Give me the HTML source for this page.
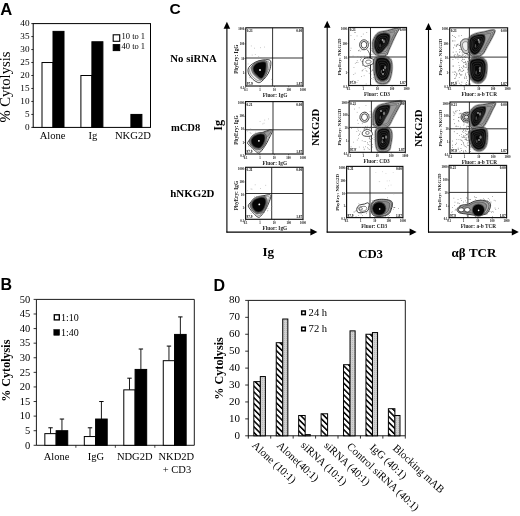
<!DOCTYPE html>
<html><head><meta charset="utf-8"><style>
html,body{margin:0;padding:0;background:#fff;width:520px;height:516px;overflow:hidden;}
svg{display:block;}
#wrap{width:520px;height:516px;filter:grayscale(1);}
</style></head><body><div id="wrap">
<svg width="520" height="516" viewBox="0 0 520 516">
<defs>
<pattern id="hatch" patternUnits="userSpaceOnUse" width="4.1" height="4.1" patternTransform="rotate(-45)">
<rect width="4.1" height="4.1" fill="#fff"/><rect width="1.55" height="4.1" fill="#000"/>
</pattern>
<pattern id="dots" patternUnits="userSpaceOnUse" width="2" height="2">
<rect width="2" height="2" fill="#d2d2d2"/><rect width="1" height="1" fill="#b8b8b8"/>
</pattern>
</defs>
<rect width="520" height="516" fill="#fff"/>
<text x="0.30" y="14.70" font-size="16.6" font-family="'Liberation Sans', sans-serif" font-weight="bold" text-anchor="start" >A</text>
<rect x="33.20" y="23.60" width="117.30" height="103.80" fill="none" stroke="#000" stroke-width="1" />
<line x1="31.30" y1="127.40" x2="33.20" y2="127.40" stroke="#000" stroke-width="0.8"/>
<text x="29.50" y="130.10" font-size="9.2" font-family="'Liberation Serif', serif" font-weight="normal" text-anchor="end" >0</text>
<line x1="31.30" y1="114.43" x2="33.20" y2="114.43" stroke="#000" stroke-width="0.8"/>
<text x="29.50" y="117.13" font-size="9.2" font-family="'Liberation Serif', serif" font-weight="normal" text-anchor="end" >5</text>
<line x1="31.30" y1="101.45" x2="33.20" y2="101.45" stroke="#000" stroke-width="0.8"/>
<text x="29.50" y="104.15" font-size="9.2" font-family="'Liberation Serif', serif" font-weight="normal" text-anchor="end" >10</text>
<line x1="31.30" y1="88.47" x2="33.20" y2="88.47" stroke="#000" stroke-width="0.8"/>
<text x="29.50" y="91.17" font-size="9.2" font-family="'Liberation Serif', serif" font-weight="normal" text-anchor="end" >15</text>
<line x1="31.30" y1="75.50" x2="33.20" y2="75.50" stroke="#000" stroke-width="0.8"/>
<text x="29.50" y="78.20" font-size="9.2" font-family="'Liberation Serif', serif" font-weight="normal" text-anchor="end" >20</text>
<line x1="31.30" y1="62.52" x2="33.20" y2="62.52" stroke="#000" stroke-width="0.8"/>
<text x="29.50" y="65.22" font-size="9.2" font-family="'Liberation Serif', serif" font-weight="normal" text-anchor="end" >25</text>
<line x1="31.30" y1="49.55" x2="33.20" y2="49.55" stroke="#000" stroke-width="0.8"/>
<text x="29.50" y="52.25" font-size="9.2" font-family="'Liberation Serif', serif" font-weight="normal" text-anchor="end" >30</text>
<line x1="31.30" y1="36.57" x2="33.20" y2="36.57" stroke="#000" stroke-width="0.8"/>
<text x="29.50" y="39.27" font-size="9.2" font-family="'Liberation Serif', serif" font-weight="normal" text-anchor="end" >35</text>
<line x1="31.30" y1="23.60" x2="33.20" y2="23.60" stroke="#000" stroke-width="0.8"/>
<text x="29.50" y="26.30" font-size="9.2" font-family="'Liberation Serif', serif" font-weight="normal" text-anchor="end" >40</text>
<rect x="42.00" y="62.52" width="11.00" height="64.88" fill="#fff" stroke="#000" stroke-width="1" />
<rect x="53.00" y="31.38" width="11.00" height="96.02" fill="#000" stroke="#000" stroke-width="1" />
<rect x="80.90" y="75.50" width="11.00" height="51.90" fill="#fff" stroke="#000" stroke-width="1" />
<rect x="91.90" y="41.76" width="11.00" height="85.64" fill="#000" stroke="#000" stroke-width="1" />
<rect x="130.90" y="114.43" width="11.00" height="12.97" fill="#000" stroke="#000" stroke-width="1" />
<text x="52.60" y="138.60" font-size="10.6" font-family="'Liberation Serif', serif" font-weight="normal" text-anchor="middle" >Alone</text>
<text x="93.00" y="138.60" font-size="10.6" font-family="'Liberation Serif', serif" font-weight="normal" text-anchor="middle" >Ig</text>
<text x="132.90" y="138.60" font-size="10.6" font-family="'Liberation Serif', serif" font-weight="normal" text-anchor="middle" >NKG2D</text>
<rect x="113.20" y="34.80" width="6.50" height="6.50" fill="#fff" stroke="#000" stroke-width="1.1" />
<text x="121.50" y="39.30" font-size="8.5" font-family="'Liberation Serif', serif" font-weight="normal" text-anchor="start" >10 to 1</text>
<rect x="113.20" y="44.60" width="6.50" height="6.00" fill="#000" stroke="#000" stroke-width="1" />
<text x="121.50" y="49.20" font-size="8.5" font-family="'Liberation Serif', serif" font-weight="normal" text-anchor="start" >40 to 1</text>
<text transform="translate(10.4,87.1) rotate(-90)" font-size="14.6" font-family="'Liberation Serif', serif" text-anchor="middle">% Cytolysis</text>
<text x="0.50" y="290.40" font-size="16" font-family="'Liberation Sans', sans-serif" font-weight="bold" text-anchor="start" >B</text>
<line x1="36.40" y1="299.40" x2="194.30" y2="299.40" stroke="#000" stroke-width="0.9"/>
<line x1="194.30" y1="299.40" x2="194.30" y2="445.30" stroke="#000" stroke-width="0.9"/>
<line x1="36.40" y1="299.40" x2="36.40" y2="445.30" stroke="#000" stroke-width="0.9"/>
<line x1="36.40" y1="445.30" x2="194.30" y2="445.30" stroke="#000" stroke-width="0.9"/>
<line x1="33.60" y1="445.30" x2="36.40" y2="445.30" stroke="#000" stroke-width="0.8"/>
<text x="30.20" y="448.60" font-size="10.5" font-family="'Liberation Serif', serif" font-weight="normal" text-anchor="end" >0</text>
<line x1="33.60" y1="430.71" x2="36.40" y2="430.71" stroke="#000" stroke-width="0.8"/>
<text x="30.20" y="434.01" font-size="10.5" font-family="'Liberation Serif', serif" font-weight="normal" text-anchor="end" >5</text>
<line x1="33.60" y1="416.12" x2="36.40" y2="416.12" stroke="#000" stroke-width="0.8"/>
<text x="30.20" y="419.42" font-size="10.5" font-family="'Liberation Serif', serif" font-weight="normal" text-anchor="end" >10</text>
<line x1="33.60" y1="401.53" x2="36.40" y2="401.53" stroke="#000" stroke-width="0.8"/>
<text x="30.20" y="404.83" font-size="10.5" font-family="'Liberation Serif', serif" font-weight="normal" text-anchor="end" >15</text>
<line x1="33.60" y1="386.94" x2="36.40" y2="386.94" stroke="#000" stroke-width="0.8"/>
<text x="30.20" y="390.24" font-size="10.5" font-family="'Liberation Serif', serif" font-weight="normal" text-anchor="end" >20</text>
<line x1="33.60" y1="372.35" x2="36.40" y2="372.35" stroke="#000" stroke-width="0.8"/>
<text x="30.20" y="375.65" font-size="10.5" font-family="'Liberation Serif', serif" font-weight="normal" text-anchor="end" >25</text>
<line x1="33.60" y1="357.76" x2="36.40" y2="357.76" stroke="#000" stroke-width="0.8"/>
<text x="30.20" y="361.06" font-size="10.5" font-family="'Liberation Serif', serif" font-weight="normal" text-anchor="end" >30</text>
<line x1="33.60" y1="343.17" x2="36.40" y2="343.17" stroke="#000" stroke-width="0.8"/>
<text x="30.20" y="346.47" font-size="10.5" font-family="'Liberation Serif', serif" font-weight="normal" text-anchor="end" >35</text>
<line x1="33.60" y1="328.58" x2="36.40" y2="328.58" stroke="#000" stroke-width="0.8"/>
<text x="30.20" y="331.88" font-size="10.5" font-family="'Liberation Serif', serif" font-weight="normal" text-anchor="end" >40</text>
<line x1="33.60" y1="313.99" x2="36.40" y2="313.99" stroke="#000" stroke-width="0.8"/>
<text x="30.20" y="317.29" font-size="10.5" font-family="'Liberation Serif', serif" font-weight="normal" text-anchor="end" >45</text>
<line x1="33.60" y1="299.40" x2="36.40" y2="299.40" stroke="#000" stroke-width="0.8"/>
<text x="30.20" y="302.70" font-size="10.5" font-family="'Liberation Serif', serif" font-weight="normal" text-anchor="end" >50</text>
<line x1="75.88" y1="445.30" x2="75.88" y2="447.80" stroke="#000" stroke-width="0.7"/>
<line x1="115.35" y1="445.30" x2="115.35" y2="447.80" stroke="#000" stroke-width="0.7"/>
<line x1="154.83" y1="445.30" x2="154.83" y2="447.80" stroke="#000" stroke-width="0.7"/>
<line x1="50.54" y1="427.79" x2="50.54" y2="433.63" stroke="#000" stroke-width="0.9"/>
<line x1="48.34" y1="427.79" x2="52.74" y2="427.79" stroke="#000" stroke-width="1.0"/>
<line x1="61.94" y1="419.04" x2="61.94" y2="430.71" stroke="#000" stroke-width="0.9"/>
<line x1="59.74" y1="419.04" x2="64.14" y2="419.04" stroke="#000" stroke-width="1.0"/>
<rect x="44.84" y="433.63" width="11.30" height="11.67" fill="#fff" stroke="#000" stroke-width="1" />
<rect x="56.14" y="430.71" width="11.60" height="14.59" fill="#000" stroke="#000" stroke-width="1" />
<line x1="90.01" y1="427.79" x2="90.01" y2="436.55" stroke="#000" stroke-width="0.9"/>
<line x1="87.81" y1="427.79" x2="92.21" y2="427.79" stroke="#000" stroke-width="1.0"/>
<line x1="101.41" y1="401.53" x2="101.41" y2="419.04" stroke="#000" stroke-width="0.9"/>
<line x1="99.21" y1="401.53" x2="103.61" y2="401.53" stroke="#000" stroke-width="1.0"/>
<rect x="84.31" y="436.55" width="11.30" height="8.75" fill="#fff" stroke="#000" stroke-width="1" />
<rect x="95.61" y="419.04" width="11.60" height="26.26" fill="#000" stroke="#000" stroke-width="1" />
<line x1="129.49" y1="378.19" x2="129.49" y2="389.86" stroke="#000" stroke-width="0.9"/>
<line x1="127.29" y1="378.19" x2="131.69" y2="378.19" stroke="#000" stroke-width="1.0"/>
<line x1="140.89" y1="349.01" x2="140.89" y2="369.43" stroke="#000" stroke-width="0.9"/>
<line x1="138.69" y1="349.01" x2="143.09" y2="349.01" stroke="#000" stroke-width="1.0"/>
<rect x="123.79" y="389.86" width="11.30" height="55.44" fill="#fff" stroke="#000" stroke-width="1" />
<rect x="135.09" y="369.43" width="11.60" height="75.87" fill="#000" stroke="#000" stroke-width="1" />
<line x1="168.96" y1="346.09" x2="168.96" y2="360.68" stroke="#000" stroke-width="0.9"/>
<line x1="166.76" y1="346.09" x2="171.16" y2="346.09" stroke="#000" stroke-width="1.0"/>
<line x1="180.36" y1="316.91" x2="180.36" y2="334.42" stroke="#000" stroke-width="0.9"/>
<line x1="178.16" y1="316.91" x2="182.56" y2="316.91" stroke="#000" stroke-width="1.0"/>
<rect x="163.26" y="360.68" width="11.30" height="84.62" fill="#fff" stroke="#000" stroke-width="1" />
<rect x="174.56" y="334.42" width="11.60" height="110.88" fill="#000" stroke="#000" stroke-width="1" />
<text x="56.50" y="459.60" font-size="10.5" font-family="'Liberation Serif', serif" font-weight="normal" text-anchor="middle" >Alone</text>
<text x="96.00" y="459.60" font-size="10.5" font-family="'Liberation Serif', serif" font-weight="normal" text-anchor="middle" >IgG</text>
<text x="134.70" y="459.60" font-size="10.5" font-family="'Liberation Serif', serif" font-weight="normal" text-anchor="middle" >NDG2D</text>
<text x="176.30" y="459.60" font-size="10.5" font-family="'Liberation Serif', serif" font-weight="normal" text-anchor="middle" >NKD2D</text>
<text x="177.00" y="472.60" font-size="10.5" font-family="'Liberation Serif', serif" font-weight="normal" text-anchor="middle" >+ CD3</text>
<rect x="54.30" y="314.80" width="5.00" height="5.10" fill="#fff" stroke="#000" stroke-width="1.35" />
<text x="60.90" y="320.90" font-size="10" font-family="'Liberation Serif', serif" font-weight="normal" text-anchor="start" >1:10</text>
<rect x="53.80" y="329.50" width="5.80" height="5.80" fill="#000" stroke="#000" stroke-width="0.5" />
<text x="60.90" y="336.40" font-size="10" font-family="'Liberation Serif', serif" font-weight="normal" text-anchor="start" >1:40</text>
<text transform="translate(9.6,370.7) rotate(-90)" font-size="12.1" font-weight="bold" font-family="'Liberation Serif', serif" text-anchor="middle">% Cytolysis</text>
<text x="213.60" y="290.60" font-size="16" font-family="'Liberation Sans', sans-serif" font-weight="bold" text-anchor="start" >D</text>
<line x1="248.30" y1="300.40" x2="405.30" y2="300.40" stroke="#000" stroke-width="0.9"/>
<line x1="405.30" y1="300.40" x2="405.30" y2="435.80" stroke="#000" stroke-width="0.9"/>
<line x1="248.30" y1="300.40" x2="248.30" y2="438.60" stroke="#000" stroke-width="0.9"/>
<line x1="248.30" y1="435.80" x2="405.30" y2="435.80" stroke="#000" stroke-width="0.9"/>
<line x1="245.20" y1="435.80" x2="248.30" y2="435.80" stroke="#000" stroke-width="0.8"/>
<text x="240.00" y="438.70" font-size="11" font-family="'Liberation Serif', serif" font-weight="normal" text-anchor="end" >0</text>
<line x1="245.20" y1="418.88" x2="248.30" y2="418.88" stroke="#000" stroke-width="0.8"/>
<text x="240.00" y="421.77" font-size="11" font-family="'Liberation Serif', serif" font-weight="normal" text-anchor="end" >10</text>
<line x1="245.20" y1="401.95" x2="248.30" y2="401.95" stroke="#000" stroke-width="0.8"/>
<text x="240.00" y="404.85" font-size="11" font-family="'Liberation Serif', serif" font-weight="normal" text-anchor="end" >20</text>
<line x1="245.20" y1="385.02" x2="248.30" y2="385.02" stroke="#000" stroke-width="0.8"/>
<text x="240.00" y="387.92" font-size="11" font-family="'Liberation Serif', serif" font-weight="normal" text-anchor="end" >30</text>
<line x1="245.20" y1="368.10" x2="248.30" y2="368.10" stroke="#000" stroke-width="0.8"/>
<text x="240.00" y="371.00" font-size="11" font-family="'Liberation Serif', serif" font-weight="normal" text-anchor="end" >40</text>
<line x1="245.20" y1="351.17" x2="248.30" y2="351.17" stroke="#000" stroke-width="0.8"/>
<text x="240.00" y="354.07" font-size="11" font-family="'Liberation Serif', serif" font-weight="normal" text-anchor="end" >50</text>
<line x1="245.20" y1="334.25" x2="248.30" y2="334.25" stroke="#000" stroke-width="0.8"/>
<text x="240.00" y="337.15" font-size="11" font-family="'Liberation Serif', serif" font-weight="normal" text-anchor="end" >60</text>
<line x1="245.20" y1="317.32" x2="248.30" y2="317.32" stroke="#000" stroke-width="0.8"/>
<text x="240.00" y="320.22" font-size="11" font-family="'Liberation Serif', serif" font-weight="normal" text-anchor="end" >70</text>
<line x1="245.20" y1="300.40" x2="248.30" y2="300.40" stroke="#000" stroke-width="0.8"/>
<text x="240.00" y="303.30" font-size="11" font-family="'Liberation Serif', serif" font-weight="normal" text-anchor="end" >80</text>
<line x1="270.73" y1="435.80" x2="270.73" y2="438.60" stroke="#000" stroke-width="0.8"/>
<line x1="293.16" y1="435.80" x2="293.16" y2="438.60" stroke="#000" stroke-width="0.8"/>
<line x1="315.59" y1="435.80" x2="315.59" y2="438.60" stroke="#000" stroke-width="0.8"/>
<line x1="338.01" y1="435.80" x2="338.01" y2="438.60" stroke="#000" stroke-width="0.8"/>
<line x1="360.44" y1="435.80" x2="360.44" y2="438.60" stroke="#000" stroke-width="0.8"/>
<line x1="382.87" y1="435.80" x2="382.87" y2="438.60" stroke="#000" stroke-width="0.8"/>
<line x1="405.30" y1="435.80" x2="405.30" y2="438.60" stroke="#000" stroke-width="0.8"/>
<rect x="253.81" y="381.64" width="6.50" height="54.16" fill="url(#hatch)" stroke="#000" stroke-width="1" />
<rect x="260.31" y="376.56" width="5.10" height="59.24" fill="url(#dots)" stroke="#000" stroke-width="1" />
<rect x="276.24" y="342.71" width="6.50" height="93.09" fill="url(#hatch)" stroke="#000" stroke-width="1" />
<rect x="282.74" y="319.02" width="5.10" height="116.78" fill="url(#dots)" stroke="#000" stroke-width="1" />
<rect x="298.67" y="415.49" width="6.50" height="20.31" fill="url(#hatch)" stroke="#000" stroke-width="1" />
<rect x="305.17" y="434.62" width="5.10" height="1.18" fill="url(#dots)" stroke="#000" stroke-width="1" />
<rect x="321.10" y="413.80" width="6.50" height="22.00" fill="url(#hatch)" stroke="#000" stroke-width="1" />
<rect x="343.53" y="364.72" width="6.50" height="71.08" fill="url(#hatch)" stroke="#000" stroke-width="1" />
<rect x="350.03" y="330.87" width="5.10" height="104.94" fill="url(#dots)" stroke="#000" stroke-width="1" />
<rect x="365.96" y="334.25" width="6.50" height="101.55" fill="url(#hatch)" stroke="#000" stroke-width="1" />
<rect x="372.46" y="332.56" width="5.10" height="103.24" fill="url(#dots)" stroke="#000" stroke-width="1" />
<rect x="388.39" y="408.72" width="6.50" height="27.08" fill="url(#hatch)" stroke="#000" stroke-width="1" />
<rect x="394.89" y="415.49" width="5.10" height="20.31" fill="url(#dots)" stroke="#000" stroke-width="1" />
<rect x="301.70" y="311.00" width="3.60" height="3.60" fill="#fff" stroke="#000" stroke-width="1.5" />
<text x="308.60" y="316.00" font-size="10.6" font-family="'Liberation Serif', serif" font-weight="normal" text-anchor="start" >24 h</text>
<rect x="301.70" y="327.20" width="3.60" height="3.60" fill="#fff" stroke="#000" stroke-width="1.5" />
<text x="308.60" y="332.20" font-size="10.6" font-family="'Liberation Serif', serif" font-weight="normal" text-anchor="start" >72 h</text>
<text transform="translate(222.6,368.5) rotate(-90)" font-size="12.2" font-weight="bold" font-family="'Liberation Serif', serif" text-anchor="middle">% Cytolysis</text>
<text transform="translate(251.51,446.10) rotate(43)" font-size="10.8" font-family="'Liberation Serif', serif">Alone (10:1)</text>
<text transform="translate(276.24,446.20) rotate(43)" font-size="10.8" font-family="'Liberation Serif', serif">Alone(40:1)</text>
<text transform="translate(300.17,446.10) rotate(43)" font-size="10.8" font-family="'Liberation Serif', serif">siRNA (10:1)</text>
<text transform="translate(323.40,446.20) rotate(43)" font-size="10.8" font-family="'Liberation Serif', serif">siRNA (40:1)</text>
<text transform="translate(346.23,447.30) rotate(43)" font-size="10.8" font-family="'Liberation Serif', serif">Control siRNA (40:1)</text>
<text transform="translate(369.36,448.40) rotate(43)" font-size="10.8" font-family="'Liberation Serif', serif">IgG (40:1)</text>
<text transform="translate(392.29,448.90) rotate(43)" font-size="10.8" font-family="'Liberation Serif', serif">Blocking mAB</text>
<text x="169.60" y="13.90" font-size="15.5" font-family="'Liberation Sans', sans-serif" font-weight="bold" text-anchor="start" >C</text>
<line x1="226.90" y1="26.70" x2="226.90" y2="232.60" stroke="#000" stroke-width="1.1"/>
<path d="M223.60,28.70 L226.90,21.70 L230.20,28.70 Z" fill="#000"/>
<line x1="226.40" y1="232.10" x2="312.40" y2="232.10" stroke="#000" stroke-width="1.1"/>
<path d="M310.40,228.60 L317.40,232.10 L310.40,235.60 Z" fill="#000"/>
<line x1="327.20" y1="25.70" x2="327.20" y2="232.60" stroke="#000" stroke-width="1.1"/>
<path d="M323.90,27.70 L327.20,20.70 L330.50,27.70 Z" fill="#000"/>
<line x1="326.70" y1="232.10" x2="411.60" y2="232.10" stroke="#000" stroke-width="1.1"/>
<path d="M409.60,228.60 L416.60,232.10 L409.60,235.60 Z" fill="#000"/>
<line x1="428.50" y1="28.00" x2="428.50" y2="232.60" stroke="#000" stroke-width="1.1"/>
<path d="M425.20,30.00 L428.50,23.00 L431.80,30.00 Z" fill="#000"/>
<line x1="428.00" y1="232.10" x2="513.80" y2="232.10" stroke="#000" stroke-width="1.1"/>
<path d="M511.80,228.60 L518.80,232.10 L511.80,235.60 Z" fill="#000"/>
<text x="170.30" y="62.00" font-size="10.8" font-family="'Liberation Serif', serif" font-weight="bold" text-anchor="start" >No siRNA</text>
<text x="170.90" y="131.00" font-size="10.6" font-family="'Liberation Serif', serif" font-weight="bold" text-anchor="start" >mCD8</text>
<text x="170.30" y="197.10" font-size="10.9" font-family="'Liberation Serif', serif" font-weight="bold" text-anchor="start" >hNKG2D</text>
<text transform="translate(221.9,125.3) rotate(-90)" font-size="12.3" font-weight="bold" font-family="'Liberation Serif', serif" text-anchor="middle">Ig</text>
<text transform="translate(318.8,127.3) rotate(-90)" font-size="10.6" font-weight="bold" font-family="'Liberation Serif', serif" text-anchor="middle">NKG2D</text>
<text transform="translate(421.6,128.1) rotate(-90)" font-size="10.6" font-weight="bold" font-family="'Liberation Serif', serif" text-anchor="middle">NKG2D</text>
<text x="268.30" y="256.20" font-size="13.2" font-family="'Liberation Serif', serif" font-weight="bold" text-anchor="middle" >Ig</text>
<text x="370.60" y="257.60" font-size="12.8" font-family="'Liberation Serif', serif" font-weight="bold" text-anchor="middle" >CD3</text>
<text x="474.00" y="256.90" font-size="13.0" font-family="'Liberation Serif', serif" font-weight="bold" text-anchor="middle" >αβ TCR</text>
<line x1="272.60" y1="27.80" x2="272.60" y2="86.00" stroke="#111" stroke-width="0.85"/>
<line x1="245.80" y1="58.00" x2="303.00" y2="58.00" stroke="#111" stroke-width="0.85"/>
<text x="275.00" y="96.60" font-size="5.3" font-family="'Liberation Serif', serif" font-weight="bold" text-anchor="middle" fill="#222">Fluor: IgG</text>
<text transform="translate(238.00,59.20) rotate(-90)" font-size="5.3" font-weight="bold" font-family="'Liberation Serif', serif" text-anchor="middle" fill="#222">PhyEry: IgG</text>
<text x="245.80" y="90.60" font-size="3.0" font-family="'Liberation Serif', serif" font-weight="bold" text-anchor="middle" fill="#111">0.1</text>
<line x1="245.80" y1="86.00" x2="245.80" y2="87.20" stroke="#222" stroke-width="0.6"/>
<text x="260.10" y="90.60" font-size="3.0" font-family="'Liberation Serif', serif" font-weight="bold" text-anchor="middle" fill="#111">1</text>
<line x1="260.10" y1="86.00" x2="260.10" y2="87.20" stroke="#222" stroke-width="0.6"/>
<text x="274.40" y="90.60" font-size="3.0" font-family="'Liberation Serif', serif" font-weight="bold" text-anchor="middle" fill="#111">10</text>
<line x1="274.40" y1="86.00" x2="274.40" y2="87.20" stroke="#222" stroke-width="0.6"/>
<text x="288.70" y="90.60" font-size="3.0" font-family="'Liberation Serif', serif" font-weight="bold" text-anchor="middle" fill="#111">100</text>
<line x1="288.70" y1="86.00" x2="288.70" y2="87.20" stroke="#222" stroke-width="0.6"/>
<text x="303.00" y="90.60" font-size="3.0" font-family="'Liberation Serif', serif" font-weight="bold" text-anchor="middle" fill="#111">1000</text>
<line x1="303.00" y1="86.00" x2="303.00" y2="87.20" stroke="#222" stroke-width="0.6"/>
<text x="244.20" y="88.60" font-size="3.0" font-family="'Liberation Serif', serif" font-weight="bold" text-anchor="end" fill="#111">0.1</text>
<line x1="244.60" y1="87.60" x2="245.80" y2="87.60" stroke="#222" stroke-width="0.6"/>
<text x="244.20" y="74.05" font-size="3.0" font-family="'Liberation Serif', serif" font-weight="bold" text-anchor="end" fill="#111">1</text>
<line x1="244.60" y1="73.05" x2="245.80" y2="73.05" stroke="#222" stroke-width="0.6"/>
<text x="244.20" y="59.50" font-size="3.0" font-family="'Liberation Serif', serif" font-weight="bold" text-anchor="end" fill="#111">10</text>
<line x1="244.60" y1="58.50" x2="245.80" y2="58.50" stroke="#222" stroke-width="0.6"/>
<text x="244.20" y="44.95" font-size="3.0" font-family="'Liberation Serif', serif" font-weight="bold" text-anchor="end" fill="#111">100</text>
<line x1="244.60" y1="43.95" x2="245.80" y2="43.95" stroke="#222" stroke-width="0.6"/>
<text x="244.20" y="30.40" font-size="3.0" font-family="'Liberation Serif', serif" font-weight="bold" text-anchor="end" fill="#111">1000</text>
<line x1="244.60" y1="29.40" x2="245.80" y2="29.40" stroke="#222" stroke-width="0.6"/>
<text x="246.80" y="31.70" font-size="3.4" font-family="'Liberation Serif', serif" font-weight="bold" text-anchor="start" fill="#000">0.21</text>
<text x="302.10" y="31.70" font-size="3.4" font-family="'Liberation Serif', serif" font-weight="bold" text-anchor="end" fill="#000">0.00</text>
<text x="246.80" y="84.90" font-size="3.4" font-family="'Liberation Serif', serif" font-weight="bold" text-anchor="start" fill="#000">97.9</text>
<text x="302.10" y="84.90" font-size="3.4" font-family="'Liberation Serif', serif" font-weight="bold" text-anchor="end" fill="#000">1.87</text>
<line x1="273.00" y1="101.60" x2="273.00" y2="154.00" stroke="#111" stroke-width="0.85"/>
<line x1="245.50" y1="129.80" x2="303.00" y2="129.80" stroke="#111" stroke-width="0.85"/>
<text x="274.85" y="164.60" font-size="5.3" font-family="'Liberation Serif', serif" font-weight="bold" text-anchor="middle" fill="#222">Fluor: IgG</text>
<text transform="translate(237.70,130.10) rotate(-90)" font-size="5.3" font-weight="bold" font-family="'Liberation Serif', serif" text-anchor="middle" fill="#222">PhyEry: IgG</text>
<text x="245.50" y="158.60" font-size="3.0" font-family="'Liberation Serif', serif" font-weight="bold" text-anchor="middle" fill="#111">0.1</text>
<line x1="245.50" y1="154.00" x2="245.50" y2="155.20" stroke="#222" stroke-width="0.6"/>
<text x="259.88" y="158.60" font-size="3.0" font-family="'Liberation Serif', serif" font-weight="bold" text-anchor="middle" fill="#111">1</text>
<line x1="259.88" y1="154.00" x2="259.88" y2="155.20" stroke="#222" stroke-width="0.6"/>
<text x="274.25" y="158.60" font-size="3.0" font-family="'Liberation Serif', serif" font-weight="bold" text-anchor="middle" fill="#111">10</text>
<line x1="274.25" y1="154.00" x2="274.25" y2="155.20" stroke="#222" stroke-width="0.6"/>
<text x="288.62" y="158.60" font-size="3.0" font-family="'Liberation Serif', serif" font-weight="bold" text-anchor="middle" fill="#111">100</text>
<line x1="288.62" y1="154.00" x2="288.62" y2="155.20" stroke="#222" stroke-width="0.6"/>
<text x="303.00" y="158.60" font-size="3.0" font-family="'Liberation Serif', serif" font-weight="bold" text-anchor="middle" fill="#111">1000</text>
<line x1="303.00" y1="154.00" x2="303.00" y2="155.20" stroke="#222" stroke-width="0.6"/>
<text x="243.90" y="156.60" font-size="3.0" font-family="'Liberation Serif', serif" font-weight="bold" text-anchor="end" fill="#111">0.1</text>
<line x1="244.30" y1="155.60" x2="245.50" y2="155.60" stroke="#222" stroke-width="0.6"/>
<text x="243.90" y="143.50" font-size="3.0" font-family="'Liberation Serif', serif" font-weight="bold" text-anchor="end" fill="#111">1</text>
<line x1="244.30" y1="142.50" x2="245.50" y2="142.50" stroke="#222" stroke-width="0.6"/>
<text x="243.90" y="130.40" font-size="3.0" font-family="'Liberation Serif', serif" font-weight="bold" text-anchor="end" fill="#111">10</text>
<line x1="244.30" y1="129.40" x2="245.50" y2="129.40" stroke="#222" stroke-width="0.6"/>
<text x="243.90" y="117.30" font-size="3.0" font-family="'Liberation Serif', serif" font-weight="bold" text-anchor="end" fill="#111">100</text>
<line x1="244.30" y1="116.30" x2="245.50" y2="116.30" stroke="#222" stroke-width="0.6"/>
<text x="243.90" y="104.20" font-size="3.0" font-family="'Liberation Serif', serif" font-weight="bold" text-anchor="end" fill="#111">1000</text>
<line x1="244.30" y1="103.20" x2="245.50" y2="103.20" stroke="#222" stroke-width="0.6"/>
<text x="246.50" y="105.50" font-size="3.4" font-family="'Liberation Serif', serif" font-weight="bold" text-anchor="start" fill="#000">0.21</text>
<text x="302.10" y="105.50" font-size="3.4" font-family="'Liberation Serif', serif" font-weight="bold" text-anchor="end" fill="#000">0.00</text>
<text x="246.50" y="152.90" font-size="3.4" font-family="'Liberation Serif', serif" font-weight="bold" text-anchor="start" fill="#000">97.9</text>
<text x="302.10" y="152.90" font-size="3.4" font-family="'Liberation Serif', serif" font-weight="bold" text-anchor="end" fill="#000">1.87</text>
<line x1="271.70" y1="167.30" x2="271.70" y2="219.30" stroke="#111" stroke-width="0.85"/>
<line x1="245.60" y1="193.50" x2="303.00" y2="193.50" stroke="#111" stroke-width="0.85"/>
<text x="274.90" y="229.90" font-size="5.3" font-family="'Liberation Serif', serif" font-weight="bold" text-anchor="middle" fill="#222">Fluor: IgG</text>
<text transform="translate(237.80,195.60) rotate(-90)" font-size="5.3" font-weight="bold" font-family="'Liberation Serif', serif" text-anchor="middle" fill="#222">PhyEry: IgG</text>
<text x="245.60" y="223.90" font-size="3.0" font-family="'Liberation Serif', serif" font-weight="bold" text-anchor="middle" fill="#111">0.1</text>
<line x1="245.60" y1="219.30" x2="245.60" y2="220.50" stroke="#222" stroke-width="0.6"/>
<text x="259.95" y="223.90" font-size="3.0" font-family="'Liberation Serif', serif" font-weight="bold" text-anchor="middle" fill="#111">1</text>
<line x1="259.95" y1="219.30" x2="259.95" y2="220.50" stroke="#222" stroke-width="0.6"/>
<text x="274.30" y="223.90" font-size="3.0" font-family="'Liberation Serif', serif" font-weight="bold" text-anchor="middle" fill="#111">10</text>
<line x1="274.30" y1="219.30" x2="274.30" y2="220.50" stroke="#222" stroke-width="0.6"/>
<text x="288.65" y="223.90" font-size="3.0" font-family="'Liberation Serif', serif" font-weight="bold" text-anchor="middle" fill="#111">100</text>
<line x1="288.65" y1="219.30" x2="288.65" y2="220.50" stroke="#222" stroke-width="0.6"/>
<text x="303.00" y="223.90" font-size="3.0" font-family="'Liberation Serif', serif" font-weight="bold" text-anchor="middle" fill="#111">1000</text>
<line x1="303.00" y1="219.30" x2="303.00" y2="220.50" stroke="#222" stroke-width="0.6"/>
<text x="244.00" y="221.90" font-size="3.0" font-family="'Liberation Serif', serif" font-weight="bold" text-anchor="end" fill="#111">0.1</text>
<line x1="244.40" y1="220.90" x2="245.60" y2="220.90" stroke="#222" stroke-width="0.6"/>
<text x="244.00" y="208.90" font-size="3.0" font-family="'Liberation Serif', serif" font-weight="bold" text-anchor="end" fill="#111">1</text>
<line x1="244.40" y1="207.90" x2="245.60" y2="207.90" stroke="#222" stroke-width="0.6"/>
<text x="244.00" y="195.90" font-size="3.0" font-family="'Liberation Serif', serif" font-weight="bold" text-anchor="end" fill="#111">10</text>
<line x1="244.40" y1="194.90" x2="245.60" y2="194.90" stroke="#222" stroke-width="0.6"/>
<text x="244.00" y="182.90" font-size="3.0" font-family="'Liberation Serif', serif" font-weight="bold" text-anchor="end" fill="#111">100</text>
<line x1="244.40" y1="181.90" x2="245.60" y2="181.90" stroke="#222" stroke-width="0.6"/>
<text x="244.00" y="169.90" font-size="3.0" font-family="'Liberation Serif', serif" font-weight="bold" text-anchor="end" fill="#111">1000</text>
<line x1="244.40" y1="168.90" x2="245.60" y2="168.90" stroke="#222" stroke-width="0.6"/>
<text x="246.60" y="171.20" font-size="3.4" font-family="'Liberation Serif', serif" font-weight="bold" text-anchor="start" fill="#000">0.21</text>
<text x="302.10" y="171.20" font-size="3.4" font-family="'Liberation Serif', serif" font-weight="bold" text-anchor="end" fill="#000">0.00</text>
<text x="246.60" y="218.20" font-size="3.4" font-family="'Liberation Serif', serif" font-weight="bold" text-anchor="start" fill="#000">97.9</text>
<text x="302.10" y="218.20" font-size="3.4" font-family="'Liberation Serif', serif" font-weight="bold" text-anchor="end" fill="#000">1.87</text>
<line x1="370.50" y1="27.50" x2="370.50" y2="85.50" stroke="#111" stroke-width="0.85"/>
<line x1="348.70" y1="57.00" x2="406.50" y2="57.00" stroke="#111" stroke-width="0.85"/>
<text x="377.00" y="96.10" font-size="5.3" font-family="'Liberation Serif', serif" font-weight="bold" text-anchor="middle" fill="#222">Fluor: CD3</text>
<text transform="translate(340.90,56.90) rotate(-90)" font-size="5.0" font-weight="bold" font-family="'Liberation Serif', serif" text-anchor="middle" fill="#222">PhyEry: NKG2D</text>
<text x="348.70" y="90.10" font-size="3.0" font-family="'Liberation Serif', serif" font-weight="bold" text-anchor="middle" fill="#111">0.1</text>
<line x1="348.70" y1="85.50" x2="348.70" y2="86.70" stroke="#222" stroke-width="0.6"/>
<text x="363.15" y="90.10" font-size="3.0" font-family="'Liberation Serif', serif" font-weight="bold" text-anchor="middle" fill="#111">1</text>
<line x1="363.15" y1="85.50" x2="363.15" y2="86.70" stroke="#222" stroke-width="0.6"/>
<text x="377.60" y="90.10" font-size="3.0" font-family="'Liberation Serif', serif" font-weight="bold" text-anchor="middle" fill="#111">10</text>
<line x1="377.60" y1="85.50" x2="377.60" y2="86.70" stroke="#222" stroke-width="0.6"/>
<text x="392.05" y="90.10" font-size="3.0" font-family="'Liberation Serif', serif" font-weight="bold" text-anchor="middle" fill="#111">100</text>
<line x1="392.05" y1="85.50" x2="392.05" y2="86.70" stroke="#222" stroke-width="0.6"/>
<text x="406.50" y="90.10" font-size="3.0" font-family="'Liberation Serif', serif" font-weight="bold" text-anchor="middle" fill="#111">1000</text>
<line x1="406.50" y1="85.50" x2="406.50" y2="86.70" stroke="#222" stroke-width="0.6"/>
<text x="347.10" y="88.10" font-size="3.0" font-family="'Liberation Serif', serif" font-weight="bold" text-anchor="end" fill="#111">0.1</text>
<line x1="347.50" y1="87.10" x2="348.70" y2="87.10" stroke="#222" stroke-width="0.6"/>
<text x="347.10" y="73.60" font-size="3.0" font-family="'Liberation Serif', serif" font-weight="bold" text-anchor="end" fill="#111">1</text>
<line x1="347.50" y1="72.60" x2="348.70" y2="72.60" stroke="#222" stroke-width="0.6"/>
<text x="347.10" y="59.10" font-size="3.0" font-family="'Liberation Serif', serif" font-weight="bold" text-anchor="end" fill="#111">10</text>
<line x1="347.50" y1="58.10" x2="348.70" y2="58.10" stroke="#222" stroke-width="0.6"/>
<text x="347.10" y="44.60" font-size="3.0" font-family="'Liberation Serif', serif" font-weight="bold" text-anchor="end" fill="#111">100</text>
<line x1="347.50" y1="43.60" x2="348.70" y2="43.60" stroke="#222" stroke-width="0.6"/>
<text x="347.10" y="30.10" font-size="3.0" font-family="'Liberation Serif', serif" font-weight="bold" text-anchor="end" fill="#111">1000</text>
<line x1="347.50" y1="29.10" x2="348.70" y2="29.10" stroke="#222" stroke-width="0.6"/>
<text x="349.70" y="31.40" font-size="3.4" font-family="'Liberation Serif', serif" font-weight="bold" text-anchor="start" fill="#000">0.21</text>
<text x="405.60" y="31.40" font-size="3.4" font-family="'Liberation Serif', serif" font-weight="bold" text-anchor="end" fill="#000">0.00</text>
<text x="349.70" y="84.40" font-size="3.4" font-family="'Liberation Serif', serif" font-weight="bold" text-anchor="start" fill="#000">97.9</text>
<text x="405.60" y="84.40" font-size="3.4" font-family="'Liberation Serif', serif" font-weight="bold" text-anchor="end" fill="#000">1.87</text>
<line x1="371.40" y1="101.00" x2="371.40" y2="152.30" stroke="#111" stroke-width="0.85"/>
<line x1="349.10" y1="127.40" x2="405.30" y2="127.40" stroke="#111" stroke-width="0.85"/>
<text x="376.60" y="162.90" font-size="5.3" font-family="'Liberation Serif', serif" font-weight="bold" text-anchor="middle" fill="#222">Fluor: CD3</text>
<text transform="translate(341.30,127.05) rotate(-90)" font-size="5.0" font-weight="bold" font-family="'Liberation Serif', serif" text-anchor="middle" fill="#222">PhyEry: NKG2D</text>
<text x="349.10" y="156.90" font-size="3.0" font-family="'Liberation Serif', serif" font-weight="bold" text-anchor="middle" fill="#111">0.1</text>
<line x1="349.10" y1="152.30" x2="349.10" y2="153.50" stroke="#222" stroke-width="0.6"/>
<text x="363.15" y="156.90" font-size="3.0" font-family="'Liberation Serif', serif" font-weight="bold" text-anchor="middle" fill="#111">1</text>
<line x1="363.15" y1="152.30" x2="363.15" y2="153.50" stroke="#222" stroke-width="0.6"/>
<text x="377.20" y="156.90" font-size="3.0" font-family="'Liberation Serif', serif" font-weight="bold" text-anchor="middle" fill="#111">10</text>
<line x1="377.20" y1="152.30" x2="377.20" y2="153.50" stroke="#222" stroke-width="0.6"/>
<text x="391.25" y="156.90" font-size="3.0" font-family="'Liberation Serif', serif" font-weight="bold" text-anchor="middle" fill="#111">100</text>
<line x1="391.25" y1="152.30" x2="391.25" y2="153.50" stroke="#222" stroke-width="0.6"/>
<text x="405.30" y="156.90" font-size="3.0" font-family="'Liberation Serif', serif" font-weight="bold" text-anchor="middle" fill="#111">1000</text>
<line x1="405.30" y1="152.30" x2="405.30" y2="153.50" stroke="#222" stroke-width="0.6"/>
<text x="347.50" y="154.90" font-size="3.0" font-family="'Liberation Serif', serif" font-weight="bold" text-anchor="end" fill="#111">0.1</text>
<line x1="347.90" y1="153.90" x2="349.10" y2="153.90" stroke="#222" stroke-width="0.6"/>
<text x="347.50" y="142.08" font-size="3.0" font-family="'Liberation Serif', serif" font-weight="bold" text-anchor="end" fill="#111">1</text>
<line x1="347.90" y1="141.08" x2="349.10" y2="141.08" stroke="#222" stroke-width="0.6"/>
<text x="347.50" y="129.25" font-size="3.0" font-family="'Liberation Serif', serif" font-weight="bold" text-anchor="end" fill="#111">10</text>
<line x1="347.90" y1="128.25" x2="349.10" y2="128.25" stroke="#222" stroke-width="0.6"/>
<text x="347.50" y="116.42" font-size="3.0" font-family="'Liberation Serif', serif" font-weight="bold" text-anchor="end" fill="#111">100</text>
<line x1="347.90" y1="115.42" x2="349.10" y2="115.42" stroke="#222" stroke-width="0.6"/>
<text x="347.50" y="103.60" font-size="3.0" font-family="'Liberation Serif', serif" font-weight="bold" text-anchor="end" fill="#111">1000</text>
<line x1="347.90" y1="102.60" x2="349.10" y2="102.60" stroke="#222" stroke-width="0.6"/>
<text x="350.10" y="104.90" font-size="3.4" font-family="'Liberation Serif', serif" font-weight="bold" text-anchor="start" fill="#000">0.21</text>
<text x="404.40" y="104.90" font-size="3.4" font-family="'Liberation Serif', serif" font-weight="bold" text-anchor="end" fill="#000">0.00</text>
<text x="350.10" y="151.20" font-size="3.4" font-family="'Liberation Serif', serif" font-weight="bold" text-anchor="start" fill="#000">97.9</text>
<text x="404.40" y="151.20" font-size="3.4" font-family="'Liberation Serif', serif" font-weight="bold" text-anchor="end" fill="#000">1.87</text>
<line x1="370.00" y1="166.40" x2="370.00" y2="217.60" stroke="#111" stroke-width="0.85"/>
<line x1="346.60" y1="193.00" x2="402.90" y2="193.00" stroke="#111" stroke-width="0.85"/>
<text x="374.15" y="228.20" font-size="5.3" font-family="'Liberation Serif', serif" font-weight="bold" text-anchor="middle" fill="#222">Fluor: CD3</text>
<text transform="translate(338.80,192.40) rotate(-90)" font-size="5.0" font-weight="bold" font-family="'Liberation Serif', serif" text-anchor="middle" fill="#222">PhyEry: NKG2D</text>
<text x="346.60" y="222.20" font-size="3.0" font-family="'Liberation Serif', serif" font-weight="bold" text-anchor="middle" fill="#111">0.1</text>
<line x1="346.60" y1="217.60" x2="346.60" y2="218.80" stroke="#222" stroke-width="0.6"/>
<text x="360.68" y="222.20" font-size="3.0" font-family="'Liberation Serif', serif" font-weight="bold" text-anchor="middle" fill="#111">1</text>
<line x1="360.68" y1="217.60" x2="360.68" y2="218.80" stroke="#222" stroke-width="0.6"/>
<text x="374.75" y="222.20" font-size="3.0" font-family="'Liberation Serif', serif" font-weight="bold" text-anchor="middle" fill="#111">10</text>
<line x1="374.75" y1="217.60" x2="374.75" y2="218.80" stroke="#222" stroke-width="0.6"/>
<text x="388.82" y="222.20" font-size="3.0" font-family="'Liberation Serif', serif" font-weight="bold" text-anchor="middle" fill="#111">100</text>
<line x1="388.82" y1="217.60" x2="388.82" y2="218.80" stroke="#222" stroke-width="0.6"/>
<text x="402.90" y="222.20" font-size="3.0" font-family="'Liberation Serif', serif" font-weight="bold" text-anchor="middle" fill="#111">1000</text>
<line x1="402.90" y1="217.60" x2="402.90" y2="218.80" stroke="#222" stroke-width="0.6"/>
<text x="345.00" y="220.20" font-size="3.0" font-family="'Liberation Serif', serif" font-weight="bold" text-anchor="end" fill="#111">0.1</text>
<line x1="345.40" y1="219.20" x2="346.60" y2="219.20" stroke="#222" stroke-width="0.6"/>
<text x="345.00" y="207.40" font-size="3.0" font-family="'Liberation Serif', serif" font-weight="bold" text-anchor="end" fill="#111">1</text>
<line x1="345.40" y1="206.40" x2="346.60" y2="206.40" stroke="#222" stroke-width="0.6"/>
<text x="345.00" y="194.60" font-size="3.0" font-family="'Liberation Serif', serif" font-weight="bold" text-anchor="end" fill="#111">10</text>
<line x1="345.40" y1="193.60" x2="346.60" y2="193.60" stroke="#222" stroke-width="0.6"/>
<text x="345.00" y="181.80" font-size="3.0" font-family="'Liberation Serif', serif" font-weight="bold" text-anchor="end" fill="#111">100</text>
<line x1="345.40" y1="180.80" x2="346.60" y2="180.80" stroke="#222" stroke-width="0.6"/>
<text x="345.00" y="169.00" font-size="3.0" font-family="'Liberation Serif', serif" font-weight="bold" text-anchor="end" fill="#111">1000</text>
<line x1="345.40" y1="168.00" x2="346.60" y2="168.00" stroke="#222" stroke-width="0.6"/>
<text x="347.60" y="170.30" font-size="3.4" font-family="'Liberation Serif', serif" font-weight="bold" text-anchor="start" fill="#000">0.21</text>
<text x="402.00" y="170.30" font-size="3.4" font-family="'Liberation Serif', serif" font-weight="bold" text-anchor="end" fill="#000">0.00</text>
<text x="347.60" y="216.50" font-size="3.4" font-family="'Liberation Serif', serif" font-weight="bold" text-anchor="start" fill="#000">97.9</text>
<text x="402.00" y="216.50" font-size="3.4" font-family="'Liberation Serif', serif" font-weight="bold" text-anchor="end" fill="#000">1.87</text>
<line x1="469.40" y1="27.80" x2="469.40" y2="85.60" stroke="#111" stroke-width="0.85"/>
<line x1="449.70" y1="57.10" x2="507.60" y2="57.10" stroke="#111" stroke-width="0.85"/>
<text x="479.25" y="96.20" font-size="5.3" font-family="'Liberation Serif', serif" font-weight="bold" text-anchor="middle" fill="#222">Fluor: a-b TCR</text>
<text transform="translate(441.90,57.10) rotate(-90)" font-size="5.0" font-weight="bold" font-family="'Liberation Serif', serif" text-anchor="middle" fill="#222">PhyEry: NKG2D</text>
<text x="449.70" y="90.20" font-size="3.0" font-family="'Liberation Serif', serif" font-weight="bold" text-anchor="middle" fill="#111">0.1</text>
<line x1="449.70" y1="85.60" x2="449.70" y2="86.80" stroke="#222" stroke-width="0.6"/>
<text x="464.18" y="90.20" font-size="3.0" font-family="'Liberation Serif', serif" font-weight="bold" text-anchor="middle" fill="#111">1</text>
<line x1="464.18" y1="85.60" x2="464.18" y2="86.80" stroke="#222" stroke-width="0.6"/>
<text x="478.65" y="90.20" font-size="3.0" font-family="'Liberation Serif', serif" font-weight="bold" text-anchor="middle" fill="#111">10</text>
<line x1="478.65" y1="85.60" x2="478.65" y2="86.80" stroke="#222" stroke-width="0.6"/>
<text x="493.12" y="90.20" font-size="3.0" font-family="'Liberation Serif', serif" font-weight="bold" text-anchor="middle" fill="#111">100</text>
<line x1="493.12" y1="85.60" x2="493.12" y2="86.80" stroke="#222" stroke-width="0.6"/>
<text x="507.60" y="90.20" font-size="3.0" font-family="'Liberation Serif', serif" font-weight="bold" text-anchor="middle" fill="#111">1000</text>
<line x1="507.60" y1="85.60" x2="507.60" y2="86.80" stroke="#222" stroke-width="0.6"/>
<text x="448.10" y="88.20" font-size="3.0" font-family="'Liberation Serif', serif" font-weight="bold" text-anchor="end" fill="#111">0.1</text>
<line x1="448.50" y1="87.20" x2="449.70" y2="87.20" stroke="#222" stroke-width="0.6"/>
<text x="448.10" y="73.75" font-size="3.0" font-family="'Liberation Serif', serif" font-weight="bold" text-anchor="end" fill="#111">1</text>
<line x1="448.50" y1="72.75" x2="449.70" y2="72.75" stroke="#222" stroke-width="0.6"/>
<text x="448.10" y="59.30" font-size="3.0" font-family="'Liberation Serif', serif" font-weight="bold" text-anchor="end" fill="#111">10</text>
<line x1="448.50" y1="58.30" x2="449.70" y2="58.30" stroke="#222" stroke-width="0.6"/>
<text x="448.10" y="44.85" font-size="3.0" font-family="'Liberation Serif', serif" font-weight="bold" text-anchor="end" fill="#111">100</text>
<line x1="448.50" y1="43.85" x2="449.70" y2="43.85" stroke="#222" stroke-width="0.6"/>
<text x="448.10" y="30.40" font-size="3.0" font-family="'Liberation Serif', serif" font-weight="bold" text-anchor="end" fill="#111">1000</text>
<line x1="448.50" y1="29.40" x2="449.70" y2="29.40" stroke="#222" stroke-width="0.6"/>
<text x="450.70" y="31.70" font-size="3.4" font-family="'Liberation Serif', serif" font-weight="bold" text-anchor="start" fill="#000">0.21</text>
<text x="506.70" y="31.70" font-size="3.4" font-family="'Liberation Serif', serif" font-weight="bold" text-anchor="end" fill="#000">0.00</text>
<text x="450.70" y="84.50" font-size="3.4" font-family="'Liberation Serif', serif" font-weight="bold" text-anchor="start" fill="#000">97.9</text>
<text x="506.70" y="84.50" font-size="3.4" font-family="'Liberation Serif', serif" font-weight="bold" text-anchor="end" fill="#000">1.87</text>
<line x1="469.40" y1="102.00" x2="469.40" y2="153.40" stroke="#111" stroke-width="0.85"/>
<line x1="450.00" y1="128.80" x2="507.60" y2="128.80" stroke="#111" stroke-width="0.85"/>
<text x="479.40" y="164.00" font-size="5.3" font-family="'Liberation Serif', serif" font-weight="bold" text-anchor="middle" fill="#222">Fluor: a-b TCR</text>
<text transform="translate(442.20,128.10) rotate(-90)" font-size="5.0" font-weight="bold" font-family="'Liberation Serif', serif" text-anchor="middle" fill="#222">PhyEry: NKG2D</text>
<text x="450.00" y="158.00" font-size="3.0" font-family="'Liberation Serif', serif" font-weight="bold" text-anchor="middle" fill="#111">0.1</text>
<line x1="450.00" y1="153.40" x2="450.00" y2="154.60" stroke="#222" stroke-width="0.6"/>
<text x="464.40" y="158.00" font-size="3.0" font-family="'Liberation Serif', serif" font-weight="bold" text-anchor="middle" fill="#111">1</text>
<line x1="464.40" y1="153.40" x2="464.40" y2="154.60" stroke="#222" stroke-width="0.6"/>
<text x="478.80" y="158.00" font-size="3.0" font-family="'Liberation Serif', serif" font-weight="bold" text-anchor="middle" fill="#111">10</text>
<line x1="478.80" y1="153.40" x2="478.80" y2="154.60" stroke="#222" stroke-width="0.6"/>
<text x="493.20" y="158.00" font-size="3.0" font-family="'Liberation Serif', serif" font-weight="bold" text-anchor="middle" fill="#111">100</text>
<line x1="493.20" y1="153.40" x2="493.20" y2="154.60" stroke="#222" stroke-width="0.6"/>
<text x="507.60" y="158.00" font-size="3.0" font-family="'Liberation Serif', serif" font-weight="bold" text-anchor="middle" fill="#111">1000</text>
<line x1="507.60" y1="153.40" x2="507.60" y2="154.60" stroke="#222" stroke-width="0.6"/>
<text x="448.40" y="156.00" font-size="3.0" font-family="'Liberation Serif', serif" font-weight="bold" text-anchor="end" fill="#111">0.1</text>
<line x1="448.80" y1="155.00" x2="450.00" y2="155.00" stroke="#222" stroke-width="0.6"/>
<text x="448.40" y="143.15" font-size="3.0" font-family="'Liberation Serif', serif" font-weight="bold" text-anchor="end" fill="#111">1</text>
<line x1="448.80" y1="142.15" x2="450.00" y2="142.15" stroke="#222" stroke-width="0.6"/>
<text x="448.40" y="130.30" font-size="3.0" font-family="'Liberation Serif', serif" font-weight="bold" text-anchor="end" fill="#111">10</text>
<line x1="448.80" y1="129.30" x2="450.00" y2="129.30" stroke="#222" stroke-width="0.6"/>
<text x="448.40" y="117.45" font-size="3.0" font-family="'Liberation Serif', serif" font-weight="bold" text-anchor="end" fill="#111">100</text>
<line x1="448.80" y1="116.45" x2="450.00" y2="116.45" stroke="#222" stroke-width="0.6"/>
<text x="448.40" y="104.60" font-size="3.0" font-family="'Liberation Serif', serif" font-weight="bold" text-anchor="end" fill="#111">1000</text>
<line x1="448.80" y1="103.60" x2="450.00" y2="103.60" stroke="#222" stroke-width="0.6"/>
<text x="451.00" y="105.90" font-size="3.4" font-family="'Liberation Serif', serif" font-weight="bold" text-anchor="start" fill="#000">0.21</text>
<text x="506.70" y="105.90" font-size="3.4" font-family="'Liberation Serif', serif" font-weight="bold" text-anchor="end" fill="#000">0.00</text>
<text x="451.00" y="152.30" font-size="3.4" font-family="'Liberation Serif', serif" font-weight="bold" text-anchor="start" fill="#000">97.9</text>
<text x="506.70" y="152.30" font-size="3.4" font-family="'Liberation Serif', serif" font-weight="bold" text-anchor="end" fill="#000">1.87</text>
<line x1="467.90" y1="165.40" x2="467.90" y2="217.60" stroke="#111" stroke-width="0.85"/>
<line x1="449.10" y1="192.40" x2="506.60" y2="192.40" stroke="#111" stroke-width="0.85"/>
<text x="478.45" y="228.20" font-size="5.3" font-family="'Liberation Serif', serif" font-weight="bold" text-anchor="middle" fill="#222">Fluor: a-b TCR</text>
<text transform="translate(441.30,191.90) rotate(-90)" font-size="5.0" font-weight="bold" font-family="'Liberation Serif', serif" text-anchor="middle" fill="#222">PhyEry: NKG2D</text>
<text x="449.10" y="222.20" font-size="3.0" font-family="'Liberation Serif', serif" font-weight="bold" text-anchor="middle" fill="#111">0.1</text>
<line x1="449.10" y1="217.60" x2="449.10" y2="218.80" stroke="#222" stroke-width="0.6"/>
<text x="463.48" y="222.20" font-size="3.0" font-family="'Liberation Serif', serif" font-weight="bold" text-anchor="middle" fill="#111">1</text>
<line x1="463.48" y1="217.60" x2="463.48" y2="218.80" stroke="#222" stroke-width="0.6"/>
<text x="477.85" y="222.20" font-size="3.0" font-family="'Liberation Serif', serif" font-weight="bold" text-anchor="middle" fill="#111">10</text>
<line x1="477.85" y1="217.60" x2="477.85" y2="218.80" stroke="#222" stroke-width="0.6"/>
<text x="492.23" y="222.20" font-size="3.0" font-family="'Liberation Serif', serif" font-weight="bold" text-anchor="middle" fill="#111">100</text>
<line x1="492.23" y1="217.60" x2="492.23" y2="218.80" stroke="#222" stroke-width="0.6"/>
<text x="506.60" y="222.20" font-size="3.0" font-family="'Liberation Serif', serif" font-weight="bold" text-anchor="middle" fill="#111">1000</text>
<line x1="506.60" y1="217.60" x2="506.60" y2="218.80" stroke="#222" stroke-width="0.6"/>
<text x="447.50" y="220.20" font-size="3.0" font-family="'Liberation Serif', serif" font-weight="bold" text-anchor="end" fill="#111">0.1</text>
<line x1="447.90" y1="219.20" x2="449.10" y2="219.20" stroke="#222" stroke-width="0.6"/>
<text x="447.50" y="207.15" font-size="3.0" font-family="'Liberation Serif', serif" font-weight="bold" text-anchor="end" fill="#111">1</text>
<line x1="447.90" y1="206.15" x2="449.10" y2="206.15" stroke="#222" stroke-width="0.6"/>
<text x="447.50" y="194.10" font-size="3.0" font-family="'Liberation Serif', serif" font-weight="bold" text-anchor="end" fill="#111">10</text>
<line x1="447.90" y1="193.10" x2="449.10" y2="193.10" stroke="#222" stroke-width="0.6"/>
<text x="447.50" y="181.05" font-size="3.0" font-family="'Liberation Serif', serif" font-weight="bold" text-anchor="end" fill="#111">100</text>
<line x1="447.90" y1="180.05" x2="449.10" y2="180.05" stroke="#222" stroke-width="0.6"/>
<text x="447.50" y="168.00" font-size="3.0" font-family="'Liberation Serif', serif" font-weight="bold" text-anchor="end" fill="#111">1000</text>
<line x1="447.90" y1="167.00" x2="449.10" y2="167.00" stroke="#222" stroke-width="0.6"/>
<text x="450.10" y="169.30" font-size="3.4" font-family="'Liberation Serif', serif" font-weight="bold" text-anchor="start" fill="#000">0.21</text>
<text x="505.70" y="169.30" font-size="3.4" font-family="'Liberation Serif', serif" font-weight="bold" text-anchor="end" fill="#000">0.00</text>
<text x="450.10" y="216.50" font-size="3.4" font-family="'Liberation Serif', serif" font-weight="bold" text-anchor="start" fill="#000">97.9</text>
<text x="505.70" y="216.50" font-size="3.4" font-family="'Liberation Serif', serif" font-weight="bold" text-anchor="end" fill="#000">1.87</text>
<rect x="258.3" y="67.4" width="0.7" height="0.7" fill="#999"/>
<rect x="270.1" y="63.6" width="0.7" height="0.7" fill="#999"/>
<rect x="259.7" y="68.5" width="0.7" height="0.7" fill="#999"/>
<rect x="251.6" y="65.5" width="0.7" height="0.7" fill="#999"/>
<rect x="262.7" y="76.7" width="0.7" height="0.7" fill="#999"/>
<rect x="249.4" y="57.1" width="0.7" height="0.7" fill="#999"/>
<rect x="249.3" y="77.4" width="0.7" height="0.7" fill="#999"/>
<rect x="264.3" y="46.7" width="0.7" height="0.7" fill="#999"/>
<rect x="271.6" y="83.6" width="0.7" height="0.7" fill="#999"/>
<rect x="263.3" y="69.6" width="0.7" height="0.7" fill="#999"/>
<rect x="250.9" y="45.6" width="0.7" height="0.7" fill="#999"/>
<rect x="260.2" y="47.4" width="0.7" height="0.7" fill="#999"/>
<rect x="251.8" y="54.7" width="0.7" height="0.7" fill="#999"/>
<rect x="247.8" y="63.6" width="0.7" height="0.7" fill="#999"/>
<rect x="258.0" y="78.7" width="0.7" height="0.7" fill="#999"/>
<rect x="260.0" y="70.6" width="0.7" height="0.7" fill="#999"/>
<rect x="259.5" y="71.5" width="0.7" height="0.7" fill="#999"/>
<rect x="258.4" y="56.1" width="0.7" height="0.7" fill="#999"/>
<rect x="271.9" y="84.8" width="0.7" height="0.7" fill="#999"/>
<rect x="268.0" y="73.3" width="0.7" height="0.7" fill="#999"/>
<rect x="254.9" y="54.2" width="0.7" height="0.7" fill="#999"/>
<rect x="254.2" y="47.8" width="0.7" height="0.7" fill="#999"/>
<rect x="266.2" y="61.0" width="0.7" height="0.7" fill="#999"/>
<rect x="268.2" y="60.5" width="0.7" height="0.7" fill="#999"/>
<rect x="271.0" y="78.9" width="0.7" height="0.7" fill="#999"/>
<path d="M248.80,67.40 C249.52,66.25 250.68,65.08 252.30,64.00 C253.92,62.92 256.30,61.62 258.50,60.90 C260.70,60.18 263.63,59.83 265.50,59.70 C267.37,59.57 268.80,59.52 269.70,60.10 C270.60,60.68 270.90,61.52 270.90,63.20 C270.90,64.88 270.47,68.00 269.70,70.20 C268.93,72.40 267.58,74.60 266.30,76.40 C265.02,78.20 263.30,79.97 262.00,81.00 C260.70,82.03 259.98,82.85 258.50,82.60 C257.02,82.35 254.65,80.80 253.10,79.50 C251.55,78.20 250.05,76.23 249.20,74.80 C248.35,73.37 248.07,72.13 248.00,70.90 C247.93,69.67 248.08,68.55 248.80,67.40 Z" fill="#fff" stroke="#000" stroke-width="0.75" />
<path d="M250.29,67.77 C250.90,66.78 251.91,65.78 253.30,64.85 C254.69,63.92 256.74,62.80 258.63,62.18 C260.52,61.57 263.04,61.26 264.65,61.15 C266.25,61.03 267.49,60.99 268.26,61.49 C269.04,62.00 269.29,62.71 269.29,64.16 C269.29,65.61 268.92,68.29 268.26,70.18 C267.60,72.07 266.44,73.96 265.34,75.51 C264.23,77.06 262.76,78.58 261.64,79.47 C260.52,80.36 259.90,81.06 258.63,80.84 C257.35,80.63 255.32,79.30 253.99,78.18 C252.65,77.06 251.36,75.37 250.63,74.14 C249.90,72.90 249.66,71.84 249.60,70.78 C249.54,69.72 249.67,68.76 250.29,67.77 Z" fill="#e4e4e4" stroke="#444" stroke-width="0.5" />
<path d="M251.68,67.18 C252.16,65.49 253.76,63.51 255.31,62.39 C256.87,61.28 259.25,60.76 261.03,60.51 C262.81,60.26 264.94,60.30 265.99,60.90 C267.04,61.50 267.21,62.15 267.34,64.12 C267.47,66.08 267.40,70.28 266.78,72.69 C266.16,75.09 264.68,77.36 263.63,78.54 C262.58,79.73 261.71,80.08 260.48,79.80 C259.24,79.51 257.55,78.04 256.21,76.83 C254.88,75.62 253.21,74.15 252.46,72.54 C251.70,70.93 251.21,68.88 251.68,67.18 Z" fill="#8c8c8c" stroke="#222" stroke-width="0.5" />
<path d="M252.65,67.45 C253.06,65.96 254.49,64.21 255.87,63.22 C257.25,62.23 259.34,61.76 260.93,61.51 C262.52,61.26 264.50,61.19 265.43,61.72 C266.37,62.26 266.47,62.96 266.54,64.72 C266.61,66.48 266.42,70.11 265.87,72.26 C265.33,74.41 264.18,76.52 263.27,77.61 C262.37,78.70 261.54,79.08 260.44,78.80 C259.35,78.52 257.86,77.05 256.68,75.95 C255.51,74.84 254.06,73.59 253.39,72.17 C252.72,70.76 252.23,68.94 252.65,67.45 Z" fill="#444" stroke="none" stroke-width="0.6" />
<path d="M253.61,67.72 C253.96,66.43 255.23,64.92 256.43,64.05 C257.64,63.18 259.42,62.75 260.83,62.50 C262.24,62.25 264.05,62.08 264.87,62.55 C265.69,63.02 265.72,63.77 265.74,65.32 C265.76,66.87 265.44,69.94 264.97,71.83 C264.50,73.72 263.67,75.68 262.91,76.68 C262.15,77.67 261.37,78.07 260.41,77.80 C259.45,77.53 258.17,76.06 257.16,75.06 C256.14,74.07 254.91,73.03 254.32,71.81 C253.73,70.59 253.26,69.01 253.61,67.72 Z" fill="#050505" stroke="none" stroke-width="0.6" />
<circle cx="260" cy="70" r="0.9" fill="#fff"/>
<rect x="258.9" y="140.4" width="0.7" height="0.7" fill="#999"/>
<rect x="263.7" y="122.8" width="0.7" height="0.7" fill="#999"/>
<rect x="247.3" y="130.7" width="0.7" height="0.7" fill="#999"/>
<rect x="253.9" y="145.6" width="0.7" height="0.7" fill="#999"/>
<rect x="264.3" y="138.4" width="0.7" height="0.7" fill="#999"/>
<rect x="261.0" y="140.5" width="0.7" height="0.7" fill="#999"/>
<rect x="250.6" y="133.0" width="0.7" height="0.7" fill="#999"/>
<rect x="251.1" y="148.8" width="0.7" height="0.7" fill="#999"/>
<rect x="248.5" y="145.8" width="0.7" height="0.7" fill="#999"/>
<rect x="248.9" y="141.4" width="0.7" height="0.7" fill="#999"/>
<rect x="255.4" y="131.8" width="0.7" height="0.7" fill="#999"/>
<rect x="268.1" y="118.6" width="0.7" height="0.7" fill="#999"/>
<rect x="248.5" y="149.1" width="0.7" height="0.7" fill="#999"/>
<rect x="259.7" y="121.1" width="0.7" height="0.7" fill="#999"/>
<rect x="271.7" y="150.2" width="0.7" height="0.7" fill="#999"/>
<rect x="249.8" y="132.4" width="0.7" height="0.7" fill="#999"/>
<rect x="250.4" y="128.6" width="0.7" height="0.7" fill="#999"/>
<rect x="262.5" y="123.6" width="0.7" height="0.7" fill="#999"/>
<rect x="264.4" y="119.7" width="0.7" height="0.7" fill="#999"/>
<rect x="251.3" y="145.7" width="0.7" height="0.7" fill="#999"/>
<path d="M247.70,142.50 C248.33,140.68 252.15,137.18 254.60,135.50 C257.05,133.82 259.48,133.30 262.40,132.40 C265.32,131.50 271.07,128.93 272.10,130.10 C273.13,131.27 269.83,136.68 268.60,139.40 C267.37,142.12 266.25,144.15 264.70,146.40 C263.15,148.65 260.85,152.13 259.30,152.90 C257.75,153.67 256.82,152.08 255.40,151.00 C253.98,149.92 252.08,147.82 250.80,146.40 C249.52,144.98 247.07,144.32 247.70,142.50 Z" fill="#fff" stroke="#000" stroke-width="0.75" />
<path d="M249.35,142.41 C249.90,140.85 253.18,137.84 255.29,136.39 C257.39,134.94 259.49,134.50 262.00,133.72 C264.50,132.95 269.45,130.74 270.34,131.74 C271.23,132.75 268.39,137.41 267.33,139.74 C266.27,142.08 265.31,143.83 263.97,145.76 C262.64,147.70 260.66,150.69 259.33,151.35 C258.00,152.01 257.19,150.65 255.98,149.72 C254.76,148.79 253.12,146.98 252.02,145.76 C250.92,144.54 248.81,143.97 249.35,142.41 Z" fill="#e4e4e4" stroke="#444" stroke-width="0.5" />
<path d="M262.00,134.00 C262.50,132.58 265.42,132.08 267.00,131.50 C268.58,130.92 271.33,129.75 271.50,130.50 C271.67,131.25 269.25,134.42 268.00,136.00 C266.75,137.58 265.00,140.33 264.00,140.00 C263.00,139.67 261.50,135.42 262.00,134.00 Z" fill="#9a9a9a" stroke="#333" stroke-width="0.5" />
<path d="M249.61,140.02 C250.00,138.32 251.37,136.26 253.05,135.00 C254.73,133.74 257.75,132.70 259.69,132.43 C261.64,132.16 263.59,132.47 264.72,133.37 C265.85,134.28 266.46,136.00 266.47,137.84 C266.48,139.69 265.84,142.52 264.80,144.44 C263.75,146.36 261.85,148.61 260.21,149.34 C258.56,150.07 256.51,149.52 254.93,148.83 C253.35,148.13 251.61,146.64 250.72,145.17 C249.83,143.70 249.22,141.71 249.61,140.02 Z" fill="#8c8c8c" stroke="#222" stroke-width="0.5" />
<path d="M250.60,140.10 C250.96,138.61 252.24,136.85 253.72,135.74 C255.21,134.63 257.80,133.69 259.52,133.42 C261.25,133.15 263.06,133.33 264.06,134.12 C265.06,134.92 265.55,136.53 265.53,138.17 C265.51,139.81 264.85,142.24 263.93,143.94 C263.01,145.64 261.42,147.71 259.99,148.37 C258.55,149.03 256.71,148.52 255.31,147.90 C253.91,147.29 252.37,145.96 251.58,144.66 C250.80,143.36 250.25,141.58 250.60,140.10 Z" fill="#444" stroke="none" stroke-width="0.6" />
<path d="M251.60,140.18 C251.93,138.90 253.11,137.44 254.40,136.48 C255.69,135.52 257.85,134.67 259.35,134.40 C260.85,134.14 262.53,134.19 263.40,134.87 C264.27,135.56 264.64,137.07 264.58,138.50 C264.53,139.93 263.86,141.97 263.06,143.45 C262.26,144.93 261.00,146.80 259.77,147.39 C258.54,147.98 256.91,147.52 255.69,146.98 C254.47,146.44 253.12,145.29 252.44,144.15 C251.76,143.02 251.27,141.46 251.60,140.18 Z" fill="#050505" stroke="none" stroke-width="0.6" />
<circle cx="258.9" cy="140.8" r="0.9" fill="#fff"/>
<rect x="253.5" y="206.0" width="0.7" height="0.7" fill="#999"/>
<rect x="264.1" y="212.3" width="0.7" height="0.7" fill="#999"/>
<rect x="251.6" y="188.8" width="0.7" height="0.7" fill="#999"/>
<rect x="250.7" y="188.6" width="0.7" height="0.7" fill="#999"/>
<rect x="265.4" y="184.9" width="0.7" height="0.7" fill="#999"/>
<rect x="260.3" y="188.1" width="0.7" height="0.7" fill="#999"/>
<rect x="254.4" y="196.4" width="0.7" height="0.7" fill="#999"/>
<rect x="267.9" y="203.1" width="0.7" height="0.7" fill="#999"/>
<rect x="247.4" y="190.5" width="0.7" height="0.7" fill="#999"/>
<rect x="250.7" y="213.1" width="0.7" height="0.7" fill="#999"/>
<rect x="267.2" y="210.6" width="0.7" height="0.7" fill="#999"/>
<rect x="267.7" y="208.3" width="0.7" height="0.7" fill="#999"/>
<rect x="270.7" y="210.2" width="0.7" height="0.7" fill="#999"/>
<rect x="253.4" y="212.3" width="0.7" height="0.7" fill="#999"/>
<rect x="259.2" y="208.7" width="0.7" height="0.7" fill="#999"/>
<rect x="261.1" y="196.3" width="0.7" height="0.7" fill="#999"/>
<rect x="256.1" y="196.3" width="0.7" height="0.7" fill="#999"/>
<rect x="254.8" y="184.5" width="0.7" height="0.7" fill="#999"/>
<rect x="267.5" y="210.3" width="0.7" height="0.7" fill="#999"/>
<rect x="271.6" y="206.3" width="0.7" height="0.7" fill="#999"/>
<path d="M248.40,205.20 C248.92,203.78 251.03,201.93 253.10,200.50 C255.17,199.07 258.22,197.57 260.80,196.60 C263.38,195.63 266.92,194.82 268.60,194.70 C270.28,194.58 270.77,194.80 270.90,195.90 C271.03,197.00 270.30,198.98 269.40,201.30 C268.50,203.62 266.93,207.35 265.50,209.80 C264.07,212.25 262.03,214.77 260.80,216.00 C259.57,217.23 259.25,217.58 258.10,217.20 C256.95,216.82 255.25,215.07 253.90,213.70 C252.55,212.33 250.92,210.42 250.00,209.00 C249.08,207.58 247.88,206.62 248.40,205.20 Z" fill="#fff" stroke="#000" stroke-width="0.75" />
<path d="M250.02,205.23 C250.46,204.02 252.28,202.43 254.06,201.19 C255.84,199.96 258.46,198.67 260.68,197.84 C262.90,197.01 265.94,196.30 267.39,196.20 C268.84,196.10 269.25,196.29 269.37,197.24 C269.48,198.18 268.85,199.89 268.08,201.88 C267.30,203.87 265.96,207.08 264.72,209.19 C263.49,211.30 261.74,213.46 260.68,214.52 C259.62,215.58 259.35,215.88 258.36,215.55 C257.37,215.22 255.91,213.72 254.75,212.54 C253.59,211.37 252.18,209.72 251.39,208.50 C250.61,207.28 249.57,206.45 250.02,205.23 Z" fill="#e4e4e4" stroke="#444" stroke-width="0.5" />
<path d="M250.42,203.30 C250.82,201.50 252.25,199.56 253.93,198.33 C255.61,197.11 258.58,196.18 260.49,195.93 C262.40,195.68 264.25,195.94 265.37,196.83 C266.50,197.72 267.24,199.28 267.25,201.27 C267.25,203.27 266.46,206.80 265.40,208.80 C264.34,210.79 262.47,212.52 260.87,213.25 C259.27,213.98 257.36,213.85 255.80,213.16 C254.25,212.47 252.45,210.76 251.55,209.12 C250.65,207.48 250.02,205.09 250.42,203.30 Z" fill="#8c8c8c" stroke="#222" stroke-width="0.5" />
<path d="M251.41,203.43 C251.77,201.85 253.08,200.19 254.57,199.10 C256.05,198.02 258.63,197.17 260.32,196.92 C262.02,196.67 263.73,196.82 264.73,197.60 C265.73,198.39 266.34,199.86 266.31,201.63 C266.29,203.40 265.51,206.46 264.57,208.23 C263.63,210.01 262.07,211.61 260.67,212.27 C259.26,212.94 257.53,212.83 256.15,212.22 C254.77,211.61 253.19,210.05 252.40,208.59 C251.61,207.12 251.05,205.01 251.41,203.43 Z" fill="#444" stroke="none" stroke-width="0.6" />
<path d="M252.40,203.56 C252.73,202.20 253.92,200.81 255.21,199.87 C256.50,198.93 258.67,198.15 260.15,197.90 C261.63,197.65 263.22,197.69 264.09,198.37 C264.96,199.05 265.44,200.44 265.38,201.99 C265.32,203.54 264.57,206.12 263.75,207.67 C262.93,209.22 261.67,210.69 260.46,211.29 C259.25,211.90 257.70,211.82 256.50,211.28 C255.29,210.74 253.93,209.35 253.25,208.06 C252.56,206.77 252.08,204.93 252.40,203.56 Z" fill="#050505" stroke="none" stroke-width="0.6" />
<circle cx="259.3" cy="204.4" r="0.9" fill="#fff"/>
<rect x="353.6" y="67.2" width="0.7" height="0.7" fill="#777"/>
<rect x="364.0" y="55.9" width="0.7" height="0.7" fill="#777"/>
<rect x="354.8" y="72.8" width="0.7" height="0.7" fill="#777"/>
<rect x="367.8" y="57.7" width="0.7" height="0.7" fill="#777"/>
<rect x="361.1" y="42.7" width="0.7" height="0.7" fill="#777"/>
<rect x="350.1" y="50.0" width="0.7" height="0.7" fill="#777"/>
<rect x="362.9" y="33.7" width="0.7" height="0.7" fill="#777"/>
<rect x="367.5" y="42.5" width="0.7" height="0.7" fill="#777"/>
<rect x="355.1" y="32.3" width="0.7" height="0.7" fill="#777"/>
<rect x="371.9" y="69.9" width="0.7" height="0.7" fill="#777"/>
<rect x="369.3" y="63.3" width="0.7" height="0.7" fill="#777"/>
<rect x="350.7" y="47.8" width="0.7" height="0.7" fill="#777"/>
<rect x="360.9" y="36.3" width="0.7" height="0.7" fill="#777"/>
<rect x="370.9" y="49.9" width="0.7" height="0.7" fill="#777"/>
<rect x="353.4" y="74.1" width="0.7" height="0.7" fill="#777"/>
<rect x="352.7" y="80.1" width="0.7" height="0.7" fill="#777"/>
<rect x="360.0" y="59.8" width="0.7" height="0.7" fill="#777"/>
<rect x="357.5" y="56.2" width="0.7" height="0.7" fill="#777"/>
<rect x="354.1" y="32.0" width="0.7" height="0.7" fill="#777"/>
<rect x="369.0" y="42.7" width="0.7" height="0.7" fill="#777"/>
<rect x="367.2" y="41.3" width="0.7" height="0.7" fill="#777"/>
<rect x="371.3" y="78.3" width="0.7" height="0.7" fill="#777"/>
<rect x="366.6" y="71.2" width="0.7" height="0.7" fill="#777"/>
<rect x="362.8" y="69.4" width="0.7" height="0.7" fill="#777"/>
<rect x="352.7" y="55.7" width="0.7" height="0.7" fill="#777"/>
<rect x="368.2" y="40.9" width="0.7" height="0.7" fill="#777"/>
<rect x="370.3" y="77.9" width="0.7" height="0.7" fill="#777"/>
<rect x="359.0" y="49.7" width="0.7" height="0.7" fill="#777"/>
<rect x="359.9" y="50.8" width="0.7" height="0.7" fill="#777"/>
<rect x="371.9" y="50.9" width="0.7" height="0.7" fill="#777"/>
<rect x="350.6" y="35.0" width="0.7" height="0.7" fill="#777"/>
<rect x="365.8" y="83.6" width="0.7" height="0.7" fill="#777"/>
<rect x="360.9" y="56.5" width="0.7" height="0.7" fill="#777"/>
<rect x="362.1" y="70.4" width="0.7" height="0.7" fill="#777"/>
<rect x="354.9" y="62.9" width="0.7" height="0.7" fill="#777"/>
<rect x="362.2" y="63.6" width="0.7" height="0.7" fill="#777"/>
<rect x="354.0" y="39.2" width="0.7" height="0.7" fill="#777"/>
<rect x="357.7" y="80.1" width="0.7" height="0.7" fill="#777"/>
<rect x="357.6" y="62.3" width="0.7" height="0.7" fill="#777"/>
<rect x="356.7" y="35.6" width="0.7" height="0.7" fill="#777"/>
<rect x="375.5" y="65.7" width="0.6" height="0.6" fill="#444"/>
<rect x="371.4" y="70.8" width="0.6" height="0.6" fill="#444"/>
<rect x="363.8" y="46.4" width="0.6" height="0.6" fill="#444"/>
<rect x="362.4" y="65.4" width="0.6" height="0.6" fill="#444"/>
<rect x="373.3" y="63.3" width="0.6" height="0.6" fill="#444"/>
<rect x="361.2" y="76.1" width="0.6" height="0.6" fill="#444"/>
<rect x="360.0" y="57.1" width="0.6" height="0.6" fill="#444"/>
<rect x="365.2" y="64.5" width="0.6" height="0.6" fill="#444"/>
<rect x="373.5" y="47.1" width="0.6" height="0.6" fill="#444"/>
<rect x="366.4" y="65.2" width="0.6" height="0.6" fill="#444"/>
<rect x="362.2" y="61.1" width="0.6" height="0.6" fill="#444"/>
<rect x="368.9" y="48.6" width="0.6" height="0.6" fill="#444"/>
<rect x="361.5" y="61.5" width="0.6" height="0.6" fill="#444"/>
<rect x="366.9" y="64.2" width="0.6" height="0.6" fill="#444"/>
<rect x="379.1" y="71.0" width="0.6" height="0.6" fill="#444"/>
<rect x="370.2" y="54.9" width="0.6" height="0.6" fill="#444"/>
<rect x="372.7" y="54.2" width="0.6" height="0.6" fill="#444"/>
<rect x="375.8" y="73.9" width="0.6" height="0.6" fill="#444"/>
<rect x="358.0" y="50.2" width="0.6" height="0.6" fill="#444"/>
<rect x="367.0" y="58.0" width="0.6" height="0.6" fill="#444"/>
<rect x="361.7" y="49.7" width="0.6" height="0.6" fill="#444"/>
<rect x="371.6" y="56.7" width="0.6" height="0.6" fill="#444"/>
<rect x="360.4" y="59.2" width="0.6" height="0.6" fill="#444"/>
<rect x="372.8" y="78.8" width="0.6" height="0.6" fill="#444"/>
<rect x="368.3" y="58.9" width="0.6" height="0.6" fill="#444"/>
<rect x="364.0" y="56.8" width="0.6" height="0.6" fill="#444"/>
<rect x="370.7" y="74.5" width="0.6" height="0.6" fill="#444"/>
<rect x="374.2" y="59.6" width="0.6" height="0.6" fill="#444"/>
<rect x="372.4" y="69.6" width="0.6" height="0.6" fill="#444"/>
<rect x="370.3" y="37.5" width="0.6" height="0.6" fill="#444"/>
<rect x="367.7" y="59.2" width="0.6" height="0.6" fill="#444"/>
<rect x="374.6" y="59.2" width="0.6" height="0.6" fill="#444"/>
<rect x="370.3" y="64.6" width="0.6" height="0.6" fill="#444"/>
<rect x="374.3" y="69.6" width="0.6" height="0.6" fill="#444"/>
<rect x="373.1" y="77.0" width="0.6" height="0.6" fill="#444"/>
<rect x="372.8" y="69.8" width="0.6" height="0.6" fill="#444"/>
<rect x="366.7" y="63.0" width="0.6" height="0.6" fill="#444"/>
<rect x="378.8" y="62.3" width="0.6" height="0.6" fill="#444"/>
<rect x="370.5" y="61.2" width="0.6" height="0.6" fill="#444"/>
<rect x="366.5" y="32.1" width="0.6" height="0.6" fill="#444"/>
<rect x="376.6" y="50.2" width="0.6" height="0.6" fill="#444"/>
<rect x="363.8" y="75.5" width="0.6" height="0.6" fill="#444"/>
<rect x="356.2" y="62.3" width="0.6" height="0.6" fill="#444"/>
<rect x="365.2" y="43.6" width="0.6" height="0.6" fill="#444"/>
<rect x="371.1" y="54.3" width="0.6" height="0.6" fill="#444"/>
<rect x="367.5" y="57.7" width="0.6" height="0.6" fill="#444"/>
<rect x="371.2" y="84.6" width="0.6" height="0.6" fill="#444"/>
<rect x="361.7" y="70.6" width="0.6" height="0.6" fill="#444"/>
<rect x="364.5" y="58.4" width="0.6" height="0.6" fill="#444"/>
<rect x="358.5" y="50.6" width="0.6" height="0.6" fill="#444"/>
<rect x="365.8" y="70.2" width="0.6" height="0.6" fill="#444"/>
<rect x="369.2" y="67.8" width="0.6" height="0.6" fill="#444"/>
<rect x="371.7" y="48.2" width="0.6" height="0.6" fill="#444"/>
<rect x="375.3" y="58.8" width="0.6" height="0.6" fill="#444"/>
<rect x="371.4" y="60.2" width="0.6" height="0.6" fill="#444"/>
<rect x="369.3" y="68.5" width="0.6" height="0.6" fill="#444"/>
<rect x="356.7" y="82.2" width="0.6" height="0.6" fill="#444"/>
<rect x="368.9" y="72.9" width="0.6" height="0.6" fill="#444"/>
<rect x="369.1" y="62.9" width="0.6" height="0.6" fill="#444"/>
<rect x="361.4" y="58.1" width="0.6" height="0.6" fill="#444"/>
<rect x="356.9" y="60.5" width="0.6" height="0.6" fill="#444"/>
<rect x="375.9" y="43.2" width="0.6" height="0.6" fill="#444"/>
<rect x="364.6" y="58.3" width="0.6" height="0.6" fill="#444"/>
<rect x="373.8" y="74.4" width="0.6" height="0.6" fill="#444"/>
<rect x="368.3" y="62.9" width="0.6" height="0.6" fill="#444"/>
<rect x="367.2" y="57.1" width="0.6" height="0.6" fill="#444"/>
<rect x="365.6" y="57.3" width="0.6" height="0.6" fill="#444"/>
<rect x="367.2" y="62.8" width="0.6" height="0.6" fill="#444"/>
<rect x="364.8" y="68.3" width="0.6" height="0.6" fill="#444"/>
<rect x="367.8" y="67.3" width="0.6" height="0.6" fill="#444"/>
<ellipse cx="364" cy="44.8" rx="4.40" ry="5.00" fill="#fff" stroke="#000" stroke-width="0.7"/>
<ellipse cx="364" cy="44.8" rx="2.80" ry="3.40" fill="none" stroke="#000" stroke-width="0.7"/>
<path d="M364.00,58.70 C365.17,57.82 368.17,57.90 369.80,58.10 C371.43,58.30 373.22,59.02 373.80,59.90 C374.38,60.78 373.97,62.53 373.30,63.40 C372.63,64.27 371.17,64.62 369.80,65.10 C368.43,65.58 366.27,66.58 365.10,66.30 C363.93,66.02 362.98,64.67 362.80,63.40 C362.62,62.13 362.83,59.58 364.00,58.70 Z" fill="#fff" stroke="#000" stroke-width="0.7" />
<path d="M366.50,60.50 C367.20,60.15 369.25,59.87 370.00,60.20 C370.75,60.53 371.42,61.90 371.00,62.50 C370.58,63.10 368.37,63.83 367.50,63.80 C366.63,63.77 365.97,62.85 365.80,62.30 C365.63,61.75 365.80,60.85 366.50,60.50 Z" fill="none" stroke="#000" stroke-width="0.5" />
<path d="M367,49.5 C369,52 370.5,54 369.5,58" fill="none" stroke="#000" stroke-width="0.6"/>
<path d="M372.50,40.02 C373.41,37.74 374.89,34.17 377.37,32.50 C379.84,30.84 384.24,30.80 387.35,30.01 C390.45,29.23 393.93,28.13 396.00,27.77 C398.07,27.42 399.59,26.98 399.79,27.86 C399.98,28.74 398.24,30.77 397.16,33.05 C396.08,35.32 394.60,38.66 393.30,41.52 C392.00,44.39 390.54,47.76 389.33,50.23 C388.12,52.69 387.80,55.25 386.04,56.30 C384.29,57.35 380.92,57.01 378.79,56.54 C376.65,56.07 374.38,55.20 373.24,53.47 C372.10,51.74 372.07,48.42 371.95,46.18 C371.83,43.94 371.60,42.30 372.50,40.02 Z" fill="none" stroke="#555" stroke-width="0.4" />
<path d="M373.30,40.10 C374.17,37.97 375.58,34.65 377.90,33.10 C380.22,31.55 384.27,31.58 387.20,30.80 C390.13,30.02 393.50,28.80 395.50,28.40 C397.50,28.00 399.03,27.55 399.20,28.40 C399.37,29.25 397.62,31.32 396.50,33.50 C395.38,35.68 393.75,38.83 392.50,41.50 C391.25,44.17 390.08,47.17 389.00,49.50 C387.92,51.83 387.65,54.45 386.00,55.50 C384.35,56.55 381.13,56.23 379.10,55.80 C377.07,55.37 374.87,54.55 373.80,52.90 C372.73,51.25 372.78,48.03 372.70,45.90 C372.62,43.77 372.43,42.23 373.30,40.10 Z" fill="#d8d8d8" stroke="#000" stroke-width="0.6" />
<path d="M374.02,40.17 C374.83,38.17 376.16,35.05 378.34,33.59 C380.52,32.13 384.32,32.17 387.08,31.43 C389.84,30.69 393.00,29.55 394.88,29.17 C396.76,28.80 398.20,28.37 398.36,29.17 C398.52,29.97 396.87,31.91 395.82,33.97 C394.77,36.02 393.24,38.98 392.06,41.49 C390.89,43.99 389.79,46.81 388.77,49.01 C387.76,51.20 387.50,53.66 385.95,54.65 C384.40,55.63 381.38,55.34 379.47,54.93 C377.56,54.52 375.49,53.75 374.49,52.20 C373.48,50.65 373.53,47.63 373.45,45.62 C373.37,43.62 373.20,42.18 374.02,40.17 Z" fill="#9a9a9a" stroke="#111" stroke-width="0.45" />
<path d="M374.73,40.24 C375.49,38.36 376.74,35.45 378.78,34.08 C380.82,32.72 384.38,32.75 386.96,32.06 C389.54,31.37 392.51,30.30 394.27,29.95 C396.03,29.59 397.38,29.20 397.52,29.95 C397.67,30.69 396.13,32.51 395.15,34.43 C394.16,36.36 392.73,39.13 391.63,41.47 C390.53,43.82 389.50,46.46 388.55,48.51 C387.59,50.57 387.36,52.87 385.91,53.79 C384.45,54.72 381.62,54.44 379.84,54.06 C378.05,53.68 376.11,52.96 375.17,51.51 C374.23,50.05 374.28,47.22 374.20,45.35 C374.13,43.47 373.97,42.12 374.73,40.24 Z" fill="none" stroke="#f0f0f0" stroke-width="0.4" />
<path d="M375.33,40.30 C376.05,38.53 377.22,35.78 379.15,34.49 C381.07,33.20 384.43,33.23 386.86,32.58 C389.30,31.93 392.09,30.92 393.75,30.59 C395.41,30.26 396.69,29.88 396.82,30.59 C396.96,31.30 395.51,33.01 394.58,34.82 C393.66,36.64 392.30,39.25 391.26,41.46 C390.23,43.68 389.26,46.17 388.36,48.10 C387.46,50.04 387.24,52.21 385.87,53.08 C384.50,53.95 381.83,53.69 380.14,53.33 C378.45,52.97 376.63,52.29 375.74,50.93 C374.86,49.56 374.90,46.89 374.83,45.12 C374.76,43.34 374.61,42.07 375.33,40.30 Z" fill="none" stroke="#222" stroke-width="0.45" />
<path d="M376.04,40.37 C376.71,38.73 377.80,36.18 379.58,34.98 C381.37,33.79 384.49,33.81 386.75,33.21 C389.00,32.61 391.60,31.67 393.14,31.36 C394.68,31.06 395.86,30.71 395.99,31.36 C396.11,32.02 394.77,33.61 393.91,35.29 C393.05,36.97 391.79,39.40 390.83,41.45 C389.86,43.50 388.97,45.81 388.13,47.61 C387.30,49.41 387.09,51.42 385.82,52.23 C384.55,53.04 382.07,52.79 380.51,52.46 C378.94,52.13 377.25,51.50 376.43,50.23 C375.61,48.96 375.64,46.48 375.58,44.84 C375.52,43.20 375.38,42.01 376.04,40.37 Z" fill="none" stroke="#e0e0e0" stroke-width="0.4" />
<path d="M376.64,40.43 C377.26,38.90 378.28,36.51 379.95,35.39 C381.62,34.28 384.53,34.30 386.65,33.74 C388.76,33.17 391.18,32.30 392.62,32.01 C394.06,31.72 395.17,31.40 395.29,32.01 C395.41,32.62 394.15,34.11 393.34,35.68 C392.54,37.25 391.36,39.52 390.46,41.44 C389.56,43.36 388.72,45.52 387.94,47.20 C387.16,48.88 386.97,50.76 385.78,51.52 C384.60,52.28 382.28,52.05 380.81,51.74 C379.35,51.42 377.77,50.84 377.00,49.65 C376.23,48.46 376.27,46.14 376.21,44.61 C376.15,43.07 376.01,41.97 376.64,40.43 Z" fill="none" stroke="#222" stroke-width="0.4" />
<path d="M373.93,58.05 C375.31,56.53 378.67,56.31 381.34,56.20 C384.00,56.10 388.03,56.10 389.91,57.41 C391.79,58.73 392.24,61.32 392.59,64.10 C392.95,66.89 392.67,71.02 392.03,74.12 C391.39,77.22 390.32,80.99 388.75,82.72 C387.18,84.45 384.68,84.50 382.61,84.50 C380.54,84.50 377.84,84.45 376.36,82.72 C374.87,81.00 374.22,77.04 373.68,74.15 C373.13,71.25 373.04,68.03 373.08,65.35 C373.12,62.67 372.56,59.57 373.93,58.05 Z" fill="none" stroke="#555" stroke-width="0.4" />
<path d="M374.40,58.70 C375.67,57.25 378.88,57.10 381.40,57.00 C383.92,56.90 387.75,56.85 389.50,58.10 C391.25,59.35 391.60,61.88 391.90,64.50 C392.20,67.12 391.88,70.88 391.30,73.80 C390.72,76.72 389.85,80.35 388.40,82.00 C386.95,83.65 384.55,83.70 382.60,83.70 C380.65,83.70 378.07,83.65 376.70,82.00 C375.33,80.35 374.88,76.52 374.40,73.80 C373.92,71.08 373.80,68.22 373.80,65.70 C373.80,63.18 373.13,60.15 374.40,58.70 Z" fill="#d8d8d8" stroke="#000" stroke-width="0.6" />
<path d="M374.88,59.37 C376.07,58.01 379.10,57.87 381.46,57.78 C383.83,57.68 387.43,57.63 389.08,58.81 C390.72,59.98 391.05,62.37 391.33,64.83 C391.61,67.29 391.32,70.83 390.77,73.57 C390.22,76.31 389.41,79.72 388.04,81.28 C386.68,82.83 384.42,82.87 382.59,82.87 C380.76,82.87 378.33,82.83 377.04,81.28 C375.76,79.72 375.34,76.12 374.88,73.57 C374.43,71.01 374.32,68.32 374.32,65.95 C374.32,63.59 373.69,60.74 374.88,59.37 Z" fill="#9a9a9a" stroke="#111" stroke-width="0.45" />
<path d="M375.36,60.05 C376.48,58.77 379.31,58.64 381.52,58.55 C383.74,58.46 387.11,58.42 388.65,59.52 C390.19,60.62 390.50,62.85 390.76,65.15 C391.03,67.45 390.75,70.77 390.24,73.34 C389.72,75.90 388.96,79.10 387.68,80.55 C386.41,82.00 384.30,82.05 382.58,82.05 C380.86,82.05 378.59,82.00 377.39,80.55 C376.19,79.10 375.79,75.73 375.36,73.34 C374.94,70.94 374.84,68.42 374.84,66.21 C374.84,63.99 374.25,61.32 375.36,60.05 Z" fill="none" stroke="#f0f0f0" stroke-width="0.4" />
<path d="M375.77,60.61 C376.82,59.41 379.49,59.28 381.58,59.20 C383.67,59.12 386.85,59.07 388.30,60.11 C389.75,61.15 390.04,63.25 390.29,65.42 C390.54,67.59 390.28,70.72 389.79,73.14 C389.31,75.56 388.59,78.58 387.39,79.95 C386.18,81.32 384.19,81.36 382.57,81.36 C380.95,81.36 378.81,81.32 377.68,79.95 C376.54,78.58 376.17,75.40 375.77,73.14 C375.37,70.89 375.27,68.51 375.27,66.42 C375.27,64.33 374.72,61.81 375.77,60.61 Z" fill="none" stroke="#222" stroke-width="0.45" />
<path d="M376.25,61.28 C377.22,60.17 379.70,60.05 381.64,59.97 C383.58,59.90 386.53,59.86 387.88,60.82 C389.22,61.78 389.49,63.73 389.72,65.75 C389.96,67.76 389.71,70.66 389.26,72.91 C388.81,75.16 388.15,77.95 387.03,79.22 C385.91,80.49 384.06,80.53 382.56,80.53 C381.06,80.53 379.07,80.49 378.02,79.22 C376.97,77.95 376.62,75.00 376.25,72.91 C375.88,70.82 375.79,68.61 375.79,66.67 C375.79,64.74 375.27,62.40 376.25,61.28 Z" fill="none" stroke="#e0e0e0" stroke-width="0.4" />
<path d="M376.65,61.84 C377.56,60.80 379.88,60.69 381.69,60.62 C383.50,60.55 386.26,60.51 387.52,61.41 C388.78,62.31 389.04,64.14 389.25,66.02 C389.47,67.90 389.24,70.62 388.82,72.72 C388.40,74.82 387.78,77.43 386.73,78.62 C385.69,79.81 383.96,79.84 382.56,79.84 C381.15,79.84 379.29,79.81 378.31,78.62 C377.32,77.43 377.00,74.67 376.65,72.72 C376.30,70.76 376.22,68.70 376.22,66.88 C376.22,65.07 375.74,62.89 376.65,61.84 Z" fill="none" stroke="#222" stroke-width="0.4" />
<path d="M374.46,39.86 C375.03,38.21 375.70,36.26 377.06,35.06 C378.43,33.87 380.73,32.96 382.66,32.69 C384.58,32.43 387.30,32.84 388.59,33.46 C389.87,34.08 390.32,34.70 390.39,36.40 C390.45,38.10 389.83,41.59 388.97,43.66 C388.11,45.73 386.60,47.20 385.24,48.81 C383.87,50.41 382.12,52.46 380.78,53.30 C379.44,54.13 378.20,54.39 377.19,53.80 C376.17,53.20 375.27,51.20 374.68,49.73 C374.10,48.25 373.70,46.59 373.66,44.95 C373.62,43.30 373.89,41.51 374.46,39.86 Z" fill="#444" stroke="none" stroke-width="0.6" />
<path d="M375.38,40.27 C375.86,38.81 376.35,37.04 377.54,35.94 C378.73,34.85 380.78,33.97 382.52,33.69 C384.26,33.40 386.80,33.70 387.97,34.25 C389.15,34.80 389.57,35.42 389.57,36.98 C389.57,38.53 388.79,41.72 387.97,43.56 C387.16,45.39 385.87,46.52 384.68,47.97 C383.49,49.43 382.02,51.48 380.83,52.30 C379.64,53.11 378.45,53.41 377.54,52.86 C376.63,52.31 375.86,50.37 375.38,49.01 C374.89,47.64 374.62,46.14 374.62,44.68 C374.62,43.23 374.89,41.72 375.38,40.27 Z" fill="#080808" stroke="none" stroke-width="0.6" />
<path d="M376.44,40.73 C376.84,39.54 377.23,38.09 378.21,37.19 C379.19,36.29 380.87,35.57 382.30,35.34 C383.72,35.11 385.80,35.35 386.77,35.80 C387.73,36.25 388.08,36.76 388.08,38.04 C388.08,39.31 387.43,41.93 386.77,43.43 C386.10,44.93 385.04,45.86 384.07,47.05 C383.09,48.25 381.88,49.93 380.91,50.60 C379.93,51.27 378.96,51.51 378.21,51.06 C377.47,50.61 376.84,49.02 376.44,47.90 C376.04,46.78 375.82,45.55 375.82,44.36 C375.82,43.16 376.04,41.93 376.44,40.73 Z" fill="none" stroke="#bbb" stroke-width="0.35" opacity="0.55"/>
<path d="M377.62,41.25 C377.92,40.35 378.22,39.25 378.96,38.57 C379.70,37.89 380.97,37.35 382.05,37.17 C383.12,37.00 384.70,37.18 385.43,37.52 C386.16,37.86 386.42,38.25 386.42,39.21 C386.42,40.17 385.93,42.16 385.43,43.29 C384.92,44.43 384.12,45.13 383.39,46.03 C382.65,46.94 381.74,48.21 381.00,48.71 C380.26,49.22 379.52,49.40 378.96,49.06 C378.39,48.72 377.92,47.52 377.62,46.67 C377.32,45.83 377.15,44.90 377.15,43.99 C377.15,43.09 377.32,42.16 377.62,41.25 Z" fill="none" stroke="#bbb" stroke-width="0.35" opacity="0.45"/>
<path d="M378.80,41.77 C379.00,41.16 379.20,40.42 379.70,39.96 C380.20,39.50 381.07,39.13 381.80,39.01 C382.53,38.89 383.59,39.02 384.09,39.25 C384.58,39.48 384.76,39.74 384.76,40.39 C384.76,41.04 384.43,42.38 384.09,43.15 C383.74,43.92 383.20,44.40 382.70,45.01 C382.20,45.62 381.59,46.48 381.09,46.83 C380.59,47.17 380.09,47.29 379.70,47.06 C379.32,46.83 379.00,46.02 378.80,45.44 C378.59,44.87 378.48,44.24 378.48,43.63 C378.48,43.02 378.59,42.38 378.80,41.77 Z" fill="none" stroke="#bbb" stroke-width="0.35" opacity="0.4"/>
<path d="M376.16,59.06 C377.13,57.48 378.73,57.22 380.64,57.11 C382.55,57.00 385.91,57.25 387.62,58.39 C389.34,59.54 390.48,61.74 390.95,63.98 C391.42,66.21 390.99,69.36 390.45,71.83 C389.90,74.29 388.88,77.22 387.66,78.79 C386.45,80.35 384.63,80.99 383.15,81.20 C381.66,81.41 380.01,81.18 378.77,80.04 C377.53,78.91 376.36,76.65 375.71,74.41 C375.05,72.17 374.77,69.15 374.85,66.59 C374.93,64.03 375.20,60.64 376.16,59.06 Z" fill="#444" stroke="none" stroke-width="0.6" />
<path d="M376.70,59.90 C377.53,58.43 379.05,58.20 380.80,58.10 C382.55,58.00 385.65,58.23 387.20,59.30 C388.75,60.37 389.72,62.47 390.10,64.50 C390.48,66.53 389.98,69.27 389.50,71.50 C389.02,73.73 388.27,76.45 387.20,77.90 C386.13,79.35 384.45,80.00 383.10,80.20 C381.75,80.40 380.20,80.17 379.10,79.10 C378.00,78.03 377.05,75.83 376.50,73.80 C375.95,71.77 375.77,69.22 375.80,66.90 C375.83,64.58 375.87,61.37 376.70,59.90 Z" fill="#080808" stroke="none" stroke-width="0.6" />
<path d="M377.76,61.56 C378.45,60.36 379.69,60.17 381.12,60.08 C382.56,60.00 385.10,60.19 386.37,61.07 C387.64,61.94 388.44,63.66 388.75,65.33 C389.06,67.00 388.65,69.24 388.26,71.07 C387.86,72.90 387.25,75.13 386.37,76.32 C385.50,77.51 384.12,78.04 383.01,78.21 C381.90,78.37 380.63,78.18 379.73,77.30 C378.83,76.43 378.05,74.62 377.60,72.96 C377.15,71.29 377.00,69.20 377.02,67.30 C377.05,65.40 377.08,62.76 377.76,61.56 Z" fill="none" stroke="#bbb" stroke-width="0.35" opacity="0.55"/>
<path d="M378.94,63.40 C379.46,62.49 380.40,62.35 381.48,62.29 C382.57,62.23 384.49,62.37 385.45,63.03 C386.41,63.69 387.01,64.99 387.25,66.26 C387.49,67.52 387.18,69.21 386.88,70.60 C386.58,71.98 386.11,73.66 385.45,74.56 C384.79,75.46 383.75,75.87 382.91,75.99 C382.07,76.11 381.11,75.97 380.43,75.31 C379.75,74.65 379.16,73.28 378.82,72.02 C378.48,70.76 378.36,69.18 378.38,67.74 C378.40,66.31 378.43,64.31 378.94,63.40 Z" fill="none" stroke="#bbb" stroke-width="0.35" opacity="0.45"/>
<path d="M380.12,65.25 C380.47,64.63 381.11,64.53 381.84,64.49 C382.58,64.45 383.88,64.55 384.53,65.00 C385.18,65.44 385.59,66.33 385.75,67.18 C385.91,68.03 385.70,69.18 385.50,70.12 C385.29,71.06 384.98,72.20 384.53,72.81 C384.08,73.42 383.38,73.69 382.81,73.77 C382.24,73.86 381.59,73.76 381.13,73.31 C380.67,72.86 380.27,71.94 380.04,71.09 C379.81,70.23 379.73,69.16 379.74,68.19 C379.76,67.21 379.77,65.86 380.12,65.25 Z" fill="none" stroke="#bbb" stroke-width="0.35" opacity="0.4"/>
<circle cx="382.5" cy="40" r="0.8" fill="#fff" opacity="0.9"/>
<circle cx="383.5" cy="70" r="0.8" fill="#fff" opacity="0.9"/>
<circle cx="383" cy="74" r="0.8" fill="#fff" opacity="0.9"/>
<ellipse cx="383.8" cy="41.4" rx="1.1" ry="1.6" fill="#777"/>
<ellipse cx="380.1" cy="45.4" rx="0.6" ry="1.8" fill="#555"/>
<ellipse cx="385.1" cy="67.6" rx="1.1" ry="1.6" fill="#777"/>
<ellipse cx="381.4" cy="71.6" rx="0.6" ry="1.8" fill="#555"/>
<rect x="371.1" y="109.6" width="0.7" height="0.7" fill="#777"/>
<rect x="350.5" y="149.9" width="0.7" height="0.7" fill="#777"/>
<rect x="354.1" y="108.7" width="0.7" height="0.7" fill="#777"/>
<rect x="364.3" y="119.2" width="0.7" height="0.7" fill="#777"/>
<rect x="369.6" y="113.9" width="0.7" height="0.7" fill="#777"/>
<rect x="371.1" y="118.0" width="0.7" height="0.7" fill="#777"/>
<rect x="363.2" y="146.8" width="0.7" height="0.7" fill="#777"/>
<rect x="365.1" y="146.4" width="0.7" height="0.7" fill="#777"/>
<rect x="365.6" y="105.3" width="0.7" height="0.7" fill="#777"/>
<rect x="369.4" y="130.7" width="0.7" height="0.7" fill="#777"/>
<rect x="356.8" y="111.9" width="0.7" height="0.7" fill="#777"/>
<rect x="368.7" y="130.4" width="0.7" height="0.7" fill="#777"/>
<rect x="370.6" y="139.4" width="0.7" height="0.7" fill="#777"/>
<rect x="371.1" y="129.6" width="0.7" height="0.7" fill="#777"/>
<rect x="365.4" y="131.8" width="0.7" height="0.7" fill="#777"/>
<rect x="355.7" y="148.0" width="0.7" height="0.7" fill="#777"/>
<rect x="356.9" y="139.7" width="0.7" height="0.7" fill="#777"/>
<rect x="371.0" y="133.6" width="0.7" height="0.7" fill="#777"/>
<rect x="353.1" y="141.8" width="0.7" height="0.7" fill="#777"/>
<rect x="364.7" y="111.7" width="0.7" height="0.7" fill="#777"/>
<rect x="351.1" y="128.0" width="0.7" height="0.7" fill="#777"/>
<rect x="350.7" y="146.5" width="0.7" height="0.7" fill="#777"/>
<rect x="361.1" y="127.3" width="0.7" height="0.7" fill="#777"/>
<rect x="359.0" y="134.1" width="0.7" height="0.7" fill="#777"/>
<rect x="370.2" y="117.4" width="0.7" height="0.7" fill="#777"/>
<rect x="358.2" y="130.4" width="0.7" height="0.7" fill="#777"/>
<rect x="356.5" y="131.0" width="0.7" height="0.7" fill="#777"/>
<rect x="361.9" y="123.4" width="0.7" height="0.7" fill="#777"/>
<rect x="364.8" y="127.8" width="0.7" height="0.7" fill="#777"/>
<rect x="351.9" y="149.8" width="0.7" height="0.7" fill="#777"/>
<rect x="357.8" y="123.3" width="0.7" height="0.7" fill="#777"/>
<rect x="358.9" y="146.7" width="0.7" height="0.7" fill="#777"/>
<rect x="370.9" y="127.1" width="0.7" height="0.7" fill="#777"/>
<rect x="358.8" y="107.5" width="0.7" height="0.7" fill="#777"/>
<rect x="369.7" y="111.1" width="0.7" height="0.7" fill="#777"/>
<rect x="362.0" y="119.4" width="0.7" height="0.7" fill="#777"/>
<rect x="357.2" y="119.8" width="0.7" height="0.7" fill="#777"/>
<rect x="354.2" y="104.7" width="0.7" height="0.7" fill="#777"/>
<rect x="361.8" y="140.4" width="0.7" height="0.7" fill="#777"/>
<rect x="364.2" y="112.5" width="0.7" height="0.7" fill="#777"/>
<rect x="363.8" y="141.1" width="0.6" height="0.6" fill="#444"/>
<rect x="371.0" y="130.7" width="0.6" height="0.6" fill="#444"/>
<rect x="369.2" y="137.2" width="0.6" height="0.6" fill="#444"/>
<rect x="369.5" y="135.8" width="0.6" height="0.6" fill="#444"/>
<rect x="372.3" y="144.0" width="0.6" height="0.6" fill="#444"/>
<rect x="376.7" y="134.1" width="0.6" height="0.6" fill="#444"/>
<rect x="365.3" y="141.3" width="0.6" height="0.6" fill="#444"/>
<rect x="367.4" y="127.5" width="0.6" height="0.6" fill="#444"/>
<rect x="377.6" y="142.7" width="0.6" height="0.6" fill="#444"/>
<rect x="367.2" y="132.1" width="0.6" height="0.6" fill="#444"/>
<rect x="371.0" y="136.7" width="0.6" height="0.6" fill="#444"/>
<rect x="371.3" y="133.9" width="0.6" height="0.6" fill="#444"/>
<rect x="359.7" y="118.1" width="0.6" height="0.6" fill="#444"/>
<rect x="373.8" y="136.9" width="0.6" height="0.6" fill="#444"/>
<rect x="358.0" y="137.9" width="0.6" height="0.6" fill="#444"/>
<rect x="370.5" y="141.4" width="0.6" height="0.6" fill="#444"/>
<rect x="369.0" y="137.9" width="0.6" height="0.6" fill="#444"/>
<rect x="364.8" y="120.3" width="0.6" height="0.6" fill="#444"/>
<rect x="367.7" y="136.0" width="0.6" height="0.6" fill="#444"/>
<rect x="367.1" y="120.7" width="0.6" height="0.6" fill="#444"/>
<rect x="366.5" y="128.4" width="0.6" height="0.6" fill="#444"/>
<rect x="372.4" y="123.9" width="0.6" height="0.6" fill="#444"/>
<rect x="363.7" y="129.0" width="0.6" height="0.6" fill="#444"/>
<rect x="369.6" y="144.9" width="0.6" height="0.6" fill="#444"/>
<rect x="371.1" y="121.9" width="0.6" height="0.6" fill="#444"/>
<rect x="363.8" y="148.7" width="0.6" height="0.6" fill="#444"/>
<rect x="369.8" y="132.7" width="0.6" height="0.6" fill="#444"/>
<rect x="371.0" y="140.3" width="0.6" height="0.6" fill="#444"/>
<rect x="377.3" y="136.4" width="0.6" height="0.6" fill="#444"/>
<rect x="365.2" y="126.0" width="0.6" height="0.6" fill="#444"/>
<rect x="373.7" y="134.7" width="0.6" height="0.6" fill="#444"/>
<rect x="369.8" y="139.2" width="0.6" height="0.6" fill="#444"/>
<rect x="363.9" y="149.5" width="0.6" height="0.6" fill="#444"/>
<rect x="367.6" y="133.0" width="0.6" height="0.6" fill="#444"/>
<rect x="367.6" y="136.1" width="0.6" height="0.6" fill="#444"/>
<rect x="367.2" y="131.8" width="0.6" height="0.6" fill="#444"/>
<rect x="372.1" y="146.7" width="0.6" height="0.6" fill="#444"/>
<rect x="372.6" y="124.3" width="0.6" height="0.6" fill="#444"/>
<rect x="367.0" y="147.5" width="0.6" height="0.6" fill="#444"/>
<rect x="368.9" y="136.0" width="0.6" height="0.6" fill="#444"/>
<rect x="367.9" y="148.6" width="0.6" height="0.6" fill="#444"/>
<rect x="366.7" y="130.8" width="0.6" height="0.6" fill="#444"/>
<rect x="374.1" y="120.7" width="0.6" height="0.6" fill="#444"/>
<rect x="368.9" y="138.3" width="0.6" height="0.6" fill="#444"/>
<rect x="359.0" y="133.6" width="0.6" height="0.6" fill="#444"/>
<rect x="363.9" y="128.4" width="0.6" height="0.6" fill="#444"/>
<rect x="364.9" y="135.6" width="0.6" height="0.6" fill="#444"/>
<rect x="367.4" y="143.7" width="0.6" height="0.6" fill="#444"/>
<rect x="357.6" y="128.7" width="0.6" height="0.6" fill="#444"/>
<rect x="372.4" y="138.0" width="0.6" height="0.6" fill="#444"/>
<rect x="375.9" y="130.4" width="0.6" height="0.6" fill="#444"/>
<rect x="373.8" y="139.4" width="0.6" height="0.6" fill="#444"/>
<rect x="362.6" y="118.9" width="0.6" height="0.6" fill="#444"/>
<rect x="378.3" y="144.8" width="0.6" height="0.6" fill="#444"/>
<rect x="369.5" y="127.8" width="0.6" height="0.6" fill="#444"/>
<rect x="359.9" y="131.5" width="0.6" height="0.6" fill="#444"/>
<rect x="369.3" y="149.0" width="0.6" height="0.6" fill="#444"/>
<rect x="367.2" y="133.7" width="0.6" height="0.6" fill="#444"/>
<rect x="368.3" y="144.2" width="0.6" height="0.6" fill="#444"/>
<rect x="369.0" y="141.5" width="0.6" height="0.6" fill="#444"/>
<rect x="364.0" y="128.7" width="0.6" height="0.6" fill="#444"/>
<rect x="367.1" y="142.2" width="0.6" height="0.6" fill="#444"/>
<rect x="358.0" y="135.4" width="0.6" height="0.6" fill="#444"/>
<rect x="378.7" y="144.4" width="0.6" height="0.6" fill="#444"/>
<rect x="376.0" y="129.8" width="0.6" height="0.6" fill="#444"/>
<rect x="370.6" y="126.6" width="0.6" height="0.6" fill="#444"/>
<rect x="377.0" y="131.6" width="0.6" height="0.6" fill="#444"/>
<rect x="366.9" y="125.9" width="0.6" height="0.6" fill="#444"/>
<ellipse cx="364.5" cy="117.2" rx="4.60" ry="5.00" fill="#fff" stroke="#000" stroke-width="0.7"/>
<ellipse cx="364.5" cy="117.2" rx="3.00" ry="3.40" fill="none" stroke="#000" stroke-width="0.7"/>
<path d="M362.80,131.70 C363.57,130.73 365.95,129.40 367.40,129.40 C368.85,129.40 370.72,130.73 371.50,131.70 C372.28,132.67 372.78,134.42 372.10,135.20 C371.42,135.98 368.95,136.40 367.40,136.40 C365.85,136.40 363.57,135.98 362.80,135.20 C362.03,134.42 362.03,132.67 362.80,131.70 Z" fill="#fff" stroke="#000" stroke-width="0.7" />
<ellipse cx="367.4" cy="132.9" rx="1.80" ry="1.50" fill="#fff" stroke="#000" stroke-width="0.5"/>
<path d="M373.02,111.84 C373.87,109.56 374.97,107.09 377.35,105.52 C379.73,103.94 384.03,103.21 387.30,102.41 C390.58,101.60 394.50,100.92 397.01,100.68 C399.51,100.44 401.90,99.96 402.32,100.99 C402.74,102.03 400.93,104.06 399.50,106.91 C398.07,109.77 395.35,115.04 393.73,118.13 C392.11,121.22 391.06,123.72 389.78,125.45 C388.49,127.18 388.06,127.96 386.01,128.50 C383.97,129.04 379.63,129.14 377.50,128.69 C375.36,128.25 374.08,127.42 373.21,125.84 C372.33,124.25 372.28,121.49 372.24,119.16 C372.21,116.83 372.17,114.11 373.02,111.84 Z" fill="none" stroke="#555" stroke-width="0.4" />
<path d="M373.80,112.00 C374.62,109.87 375.67,107.57 377.90,106.10 C380.13,104.63 384.10,104.00 387.20,103.20 C390.30,102.40 394.08,101.58 396.50,101.30 C398.92,101.02 401.32,100.50 401.70,101.50 C402.08,102.50 400.25,104.58 398.80,107.30 C397.35,110.02 394.55,114.90 393.00,117.80 C391.45,120.70 390.67,123.05 389.50,124.70 C388.33,126.35 387.93,127.15 386.00,127.70 C384.07,128.25 379.93,128.40 377.90,128.00 C375.87,127.60 374.62,126.82 373.80,125.30 C372.98,123.78 373.00,121.12 373.00,118.90 C373.00,116.68 372.98,114.13 373.80,112.00 Z" fill="#d8d8d8" stroke="#000" stroke-width="0.6" />
<path d="M374.52,112.15 C375.29,110.14 376.27,107.98 378.37,106.60 C380.47,105.22 384.20,104.63 387.11,103.88 C390.03,103.13 393.58,102.36 395.86,102.09 C398.13,101.82 400.38,101.34 400.74,102.28 C401.10,103.22 399.38,105.18 398.02,107.73 C396.65,110.28 394.02,114.88 392.57,117.60 C391.11,120.33 390.37,122.54 389.28,124.09 C388.18,125.64 387.80,126.39 385.99,126.91 C384.17,127.42 380.28,127.56 378.37,127.19 C376.46,126.81 375.29,126.08 374.52,124.65 C373.75,123.23 373.77,120.72 373.77,118.64 C373.77,116.55 373.75,114.15 374.52,112.15 Z" fill="#9a9a9a" stroke="#111" stroke-width="0.45" />
<path d="M375.24,112.30 C375.95,110.42 376.88,108.40 378.84,107.11 C380.81,105.82 384.30,105.26 387.03,104.55 C389.75,103.85 393.08,103.13 395.21,102.88 C397.34,102.63 399.45,102.18 399.79,103.06 C400.12,103.94 398.51,105.77 397.24,108.16 C395.96,110.55 393.50,114.85 392.13,117.40 C390.77,119.95 390.08,122.02 389.05,123.47 C388.02,124.93 387.67,125.63 385.97,126.11 C384.27,126.60 380.63,126.73 378.84,126.38 C377.05,126.03 375.95,125.34 375.24,124.00 C374.52,122.67 374.53,120.32 374.53,118.37 C374.53,116.42 374.52,114.18 375.24,112.30 Z" fill="none" stroke="#f0f0f0" stroke-width="0.4" />
<path d="M375.83,112.42 C376.51,110.65 377.38,108.74 379.24,107.53 C381.09,106.31 384.38,105.78 386.95,105.12 C389.53,104.45 392.67,103.78 394.67,103.54 C396.68,103.31 398.67,102.88 398.99,103.71 C399.31,104.54 397.79,106.27 396.58,108.52 C395.38,110.78 393.06,114.83 391.77,117.24 C390.48,119.64 389.83,121.59 388.86,122.96 C387.90,124.33 387.56,125.00 385.96,125.45 C384.35,125.91 380.92,126.03 379.24,125.70 C377.55,125.37 376.51,124.72 375.83,123.46 C375.16,122.20 375.17,119.99 375.17,118.15 C375.17,116.31 375.16,114.19 375.83,112.42 Z" fill="none" stroke="#222" stroke-width="0.45" />
<path d="M376.55,112.57 C377.18,110.93 377.99,109.16 379.71,108.03 C381.43,106.90 384.48,106.41 386.87,105.80 C389.26,105.18 392.17,104.55 394.03,104.33 C395.89,104.11 397.74,103.72 398.03,104.49 C398.33,105.26 396.92,106.86 395.80,108.95 C394.68,111.04 392.53,114.80 391.33,117.04 C390.14,119.27 389.54,121.08 388.64,122.35 C387.74,123.62 387.43,124.24 385.94,124.66 C384.46,125.08 381.27,125.20 379.71,124.89 C378.14,124.58 377.18,123.98 376.55,122.81 C375.92,121.64 375.93,119.59 375.93,117.88 C375.93,116.18 375.92,114.21 376.55,112.57 Z" fill="none" stroke="#e0e0e0" stroke-width="0.4" />
<path d="M377.15,112.70 C377.74,111.16 378.49,109.50 380.10,108.45 C381.71,107.39 384.56,106.94 386.80,106.36 C389.03,105.78 391.75,105.20 393.49,104.99 C395.23,104.79 396.96,104.42 397.24,105.14 C397.51,105.86 396.19,107.36 395.15,109.31 C394.10,111.27 392.09,114.78 390.97,116.87 C389.86,118.96 389.29,120.65 388.45,121.84 C387.61,123.03 387.32,123.60 385.93,124.00 C384.54,124.40 381.56,124.50 380.10,124.22 C378.64,123.93 377.74,123.36 377.15,122.27 C376.56,121.18 376.57,119.26 376.57,117.66 C376.57,116.07 376.56,114.23 377.15,112.70 Z" fill="none" stroke="#222" stroke-width="0.4" />
<path d="M375.72,128.76 C377.20,127.02 381.24,127.01 383.71,126.90 C386.18,126.79 389.04,126.80 390.53,128.12 C392.01,129.45 392.49,132.05 392.62,134.86 C392.76,137.67 391.99,142.18 391.34,144.98 C390.69,147.78 390.79,150.43 388.71,151.64 C386.62,152.85 381.01,152.96 378.83,152.25 C376.65,151.54 376.31,149.86 375.65,147.38 C374.98,144.89 374.80,140.44 374.82,137.34 C374.83,134.24 374.24,130.50 375.72,128.76 Z" fill="none" stroke="#555" stroke-width="0.4" />
<path d="M376.20,129.40 C377.55,127.77 381.38,127.80 383.70,127.70 C386.02,127.60 388.73,127.55 390.10,128.80 C391.47,130.05 391.80,132.58 391.90,135.20 C392.00,137.82 391.28,141.88 390.70,144.50 C390.12,147.12 390.33,149.73 388.40,150.90 C386.47,152.07 381.13,152.18 379.10,151.50 C377.07,150.82 376.78,149.13 376.20,146.80 C375.62,144.47 375.60,140.40 375.60,137.50 C375.60,134.60 374.85,131.03 376.20,129.40 Z" fill="#d8d8d8" stroke="#000" stroke-width="0.6" />
<path d="M376.64,129.98 C377.91,128.45 381.51,128.48 383.69,128.39 C385.87,128.29 388.42,128.25 389.71,129.42 C390.99,130.60 391.30,132.98 391.40,135.44 C391.49,137.90 390.82,141.72 390.27,144.18 C389.72,146.64 389.93,149.10 388.11,150.19 C386.29,151.29 381.28,151.40 379.37,150.76 C377.46,150.12 377.19,148.53 376.64,146.34 C376.09,144.15 376.08,140.32 376.08,137.60 C376.08,134.87 375.37,131.52 376.64,129.98 Z" fill="#9a9a9a" stroke="#111" stroke-width="0.45" />
<path d="M377.08,130.57 C378.27,129.13 381.64,129.16 383.68,129.07 C385.72,128.99 388.11,128.94 389.31,130.04 C390.52,131.14 390.81,133.37 390.90,135.67 C390.99,137.98 390.35,141.55 389.84,143.86 C389.33,146.16 389.52,148.46 387.82,149.49 C386.12,150.52 381.42,150.62 379.63,150.02 C377.84,149.42 377.59,147.93 377.08,145.88 C376.57,143.83 376.55,140.25 376.55,137.70 C376.55,135.15 375.89,132.01 377.08,130.57 Z" fill="none" stroke="#f0f0f0" stroke-width="0.4" />
<path d="M377.45,131.06 C378.57,129.70 381.75,129.73 383.67,129.65 C385.60,129.56 387.85,129.52 388.99,130.56 C390.12,131.60 390.40,133.70 390.48,135.87 C390.56,138.04 389.97,141.42 389.48,143.59 C389.00,145.76 389.18,147.93 387.57,148.90 C385.97,149.87 381.54,149.97 379.86,149.40 C378.17,148.83 377.93,147.44 377.45,145.50 C376.96,143.56 376.95,140.19 376.95,137.78 C376.95,135.37 376.33,132.41 377.45,131.06 Z" fill="none" stroke="#222" stroke-width="0.45" />
<path d="M377.89,131.64 C378.93,130.38 381.88,130.41 383.66,130.33 C385.45,130.26 387.54,130.22 388.59,131.18 C389.64,132.14 389.90,134.09 389.98,136.11 C390.06,138.12 389.50,141.25 389.05,143.27 C388.61,145.28 388.77,147.30 387.28,148.20 C385.79,149.09 381.69,149.18 380.12,148.66 C378.56,148.13 378.34,146.84 377.89,145.04 C377.44,143.24 377.43,140.11 377.43,137.88 C377.43,135.65 376.85,132.90 377.89,131.64 Z" fill="none" stroke="#e0e0e0" stroke-width="0.4" />
<path d="M378.26,132.13 C379.23,130.95 381.99,130.98 383.66,130.90 C385.32,130.83 387.28,130.80 388.26,131.70 C389.25,132.60 389.49,134.42 389.56,136.30 C389.63,138.19 389.12,141.12 388.70,143.00 C388.28,144.88 388.43,146.77 387.04,147.61 C385.65,148.45 381.81,148.53 380.34,148.04 C378.88,147.55 378.68,146.34 378.26,144.66 C377.84,142.98 377.82,140.05 377.82,137.96 C377.82,135.87 377.28,133.30 378.26,132.13 Z" fill="none" stroke="#222" stroke-width="0.4" />
<path d="M375.41,110.19 C376.15,108.44 377.16,107.27 378.80,106.35 C380.44,105.43 383.35,104.83 385.24,104.66 C387.14,104.50 389.49,104.20 390.17,105.36 C390.85,106.52 390.08,109.43 389.32,111.62 C388.57,113.80 386.87,116.29 385.66,118.45 C384.45,120.62 383.29,123.20 382.06,124.60 C380.82,126.00 379.30,126.99 378.24,126.86 C377.17,126.74 376.30,125.50 375.65,123.84 C375.00,122.17 374.38,119.14 374.34,116.87 C374.30,114.59 374.66,111.94 375.41,110.19 Z" fill="#444" stroke="none" stroke-width="0.6" />
<path d="M376.20,110.80 C376.83,109.25 377.65,108.17 379.10,107.30 C380.55,106.43 383.17,105.80 384.90,105.60 C386.63,105.40 388.92,105.03 389.50,106.10 C390.08,107.17 389.17,110.05 388.40,112.00 C387.63,113.95 385.97,115.87 384.90,117.80 C383.83,119.73 383.07,122.25 382.00,123.60 C380.93,124.95 379.47,126.00 378.50,125.90 C377.53,125.80 376.73,124.55 376.20,123.00 C375.67,121.45 375.30,118.63 375.30,116.60 C375.30,114.57 375.57,112.35 376.20,110.80 Z" fill="#080808" stroke="none" stroke-width="0.6" />
<path d="M377.15,111.53 C377.67,110.26 378.34,109.37 379.53,108.66 C380.72,107.95 382.87,107.43 384.29,107.27 C385.71,107.10 387.58,106.80 388.06,107.68 C388.54,108.55 387.79,110.92 387.16,112.52 C386.53,114.12 385.16,115.69 384.29,117.27 C383.41,118.86 382.78,120.92 381.91,122.03 C381.04,123.14 379.83,124.00 379.04,123.91 C378.25,123.83 377.59,122.81 377.15,121.54 C376.72,120.27 376.42,117.96 376.42,116.29 C376.42,114.62 376.63,112.80 377.15,111.53 Z" fill="none" stroke="#bbb" stroke-width="0.35" opacity="0.55"/>
<path d="M378.21,112.35 C378.61,111.39 379.11,110.71 380.01,110.18 C380.91,109.64 382.53,109.25 383.61,109.12 C384.68,109.00 386.10,108.77 386.46,109.43 C386.82,110.09 386.25,111.88 385.78,113.09 C385.30,114.30 384.27,115.49 383.61,116.69 C382.95,117.89 382.47,119.45 381.81,120.28 C381.15,121.12 380.24,121.77 379.64,121.71 C379.04,121.65 378.54,120.87 378.21,119.91 C377.88,118.95 377.66,117.20 377.66,115.94 C377.66,114.68 377.82,113.31 378.21,112.35 Z" fill="none" stroke="#bbb" stroke-width="0.35" opacity="0.45"/>
<path d="M379.27,113.16 C379.54,112.51 379.88,112.05 380.49,111.69 C381.10,111.33 382.20,111.06 382.93,110.98 C383.66,110.89 384.62,110.74 384.86,111.19 C385.11,111.63 384.72,112.85 384.40,113.66 C384.08,114.48 383.38,115.29 382.93,116.10 C382.48,116.91 382.16,117.97 381.71,118.54 C381.26,119.10 380.65,119.54 380.24,119.50 C379.83,119.46 379.50,118.94 379.27,118.28 C379.05,117.63 378.90,116.45 378.90,115.60 C378.90,114.74 379.01,113.81 379.27,113.16 Z" fill="none" stroke="#bbb" stroke-width="0.35" opacity="0.4"/>
<path d="M377.96,129.76 C379.12,128.17 381.89,127.91 383.71,127.80 C385.53,127.69 387.78,127.98 388.89,129.13 C390.00,130.28 390.21,132.43 390.37,134.70 C390.52,136.97 390.52,140.38 389.83,142.76 C389.14,145.14 387.68,147.73 386.24,148.97 C384.80,150.21 382.58,150.59 381.19,150.18 C379.81,149.77 378.66,148.65 377.92,146.51 C377.17,144.37 376.71,140.11 376.72,137.32 C376.72,134.53 376.79,131.35 377.96,129.76 Z" fill="#444" stroke="none" stroke-width="0.6" />
<path d="M378.50,130.60 C379.50,129.15 382.05,128.90 383.70,128.80 C385.35,128.70 387.43,128.93 388.40,130.00 C389.37,131.07 389.40,133.17 389.50,135.20 C389.60,137.23 389.58,140.07 389.00,142.20 C388.42,144.33 387.27,146.83 386.00,148.00 C384.73,149.17 382.65,149.58 381.40,149.20 C380.15,148.82 379.12,147.65 378.50,145.70 C377.88,143.75 377.70,140.02 377.70,137.50 C377.70,134.98 377.50,132.05 378.50,130.60 Z" fill="#080808" stroke="none" stroke-width="0.6" />
<path d="M379.42,132.04 C380.24,130.85 382.33,130.64 383.69,130.56 C385.04,130.48 386.75,130.67 387.54,131.54 C388.33,132.42 388.36,134.14 388.44,135.81 C388.53,137.48 388.51,139.80 388.03,141.55 C387.56,143.30 386.61,145.35 385.57,146.30 C384.54,147.26 382.83,147.60 381.80,147.29 C380.78,146.97 379.93,146.02 379.42,144.42 C378.92,142.82 378.77,139.76 378.77,137.69 C378.77,135.63 378.60,133.22 379.42,132.04 Z" fill="none" stroke="#bbb" stroke-width="0.35" opacity="0.55"/>
<path d="M380.45,133.63 C381.07,132.73 382.65,132.58 383.67,132.52 C384.70,132.45 385.99,132.60 386.59,133.26 C387.19,133.92 387.21,135.22 387.27,136.48 C387.33,137.74 387.32,139.50 386.96,140.82 C386.60,142.15 385.89,143.70 385.10,144.42 C384.32,145.14 383.02,145.40 382.25,145.16 C381.47,144.93 380.83,144.20 380.45,142.99 C380.07,141.78 379.95,139.47 379.95,137.91 C379.95,136.35 379.83,134.53 380.45,133.63 Z" fill="none" stroke="#bbb" stroke-width="0.35" opacity="0.45"/>
<path d="M381.48,135.23 C381.90,134.62 382.97,134.51 383.66,134.47 C384.35,134.43 385.23,134.53 385.64,134.98 C386.04,135.42 386.06,136.31 386.10,137.16 C386.14,138.01 386.13,139.20 385.89,140.10 C385.64,141.00 385.16,142.05 384.63,142.54 C384.10,143.03 383.22,143.20 382.70,143.04 C382.17,142.88 381.74,142.39 381.48,141.57 C381.22,140.75 381.14,139.18 381.14,138.13 C381.14,137.07 381.06,135.84 381.48,135.23 Z" fill="none" stroke="#bbb" stroke-width="0.35" opacity="0.4"/>
<circle cx="381" cy="111" r="0.8" fill="#fff" opacity="0.9"/>
<circle cx="383" cy="138" r="0.8" fill="#fff" opacity="0.9"/>
<circle cx="382.5" cy="142" r="0.8" fill="#fff" opacity="0.9"/>
<ellipse cx="384.0" cy="113.4" rx="1.1" ry="1.6" fill="#777"/>
<ellipse cx="380.3" cy="117.4" rx="0.6" ry="1.8" fill="#555"/>
<ellipse cx="386.1" cy="137.1" rx="1.1" ry="1.6" fill="#777"/>
<ellipse cx="382.4" cy="141.1" rx="0.6" ry="1.8" fill="#555"/>
<rect x="393.5" y="193.7" width="0.7" height="0.7" fill="#bbb"/>
<rect x="392.8" y="172.1" width="0.7" height="0.7" fill="#bbb"/>
<rect x="386.8" y="180.6" width="0.7" height="0.7" fill="#bbb"/>
<rect x="385.6" y="173.3" width="0.7" height="0.7" fill="#bbb"/>
<rect x="378.8" y="181.1" width="0.7" height="0.7" fill="#bbb"/>
<rect x="379.4" y="181.4" width="0.7" height="0.7" fill="#bbb"/>
<rect x="375.5" y="172.1" width="0.7" height="0.7" fill="#bbb"/>
<rect x="389.2" y="180.5" width="0.7" height="0.7" fill="#bbb"/>
<rect x="385.3" y="188.4" width="0.7" height="0.7" fill="#bbb"/>
<rect x="382.2" y="171.4" width="0.7" height="0.7" fill="#bbb"/>
<rect x="390.7" y="184.7" width="0.7" height="0.7" fill="#bbb"/>
<rect x="388.2" y="185.5" width="0.7" height="0.7" fill="#bbb"/>
<rect x="366.2" y="213.1" width="0.7" height="0.7" fill="#777"/>
<rect x="355.7" y="216.0" width="0.7" height="0.7" fill="#777"/>
<rect x="355.9" y="210.1" width="0.7" height="0.7" fill="#777"/>
<rect x="353.8" y="211.6" width="0.7" height="0.7" fill="#777"/>
<rect x="355.0" y="210.7" width="0.7" height="0.7" fill="#777"/>
<rect x="366.5" y="211.8" width="0.7" height="0.7" fill="#777"/>
<rect x="360.8" y="213.6" width="0.7" height="0.7" fill="#777"/>
<rect x="371.8" y="200.1" width="0.7" height="0.7" fill="#777"/>
<rect x="362.3" y="215.2" width="0.7" height="0.7" fill="#777"/>
<rect x="366.8" y="206.0" width="0.7" height="0.7" fill="#777"/>
<rect x="358.1" y="215.2" width="0.7" height="0.7" fill="#777"/>
<rect x="353.7" y="211.7" width="0.7" height="0.7" fill="#777"/>
<rect x="368.9" y="200.8" width="0.7" height="0.7" fill="#777"/>
<rect x="358.5" y="203.5" width="0.7" height="0.7" fill="#777"/>
<rect x="362.8" y="204.6" width="0.7" height="0.7" fill="#777"/>
<rect x="381.3" y="213.9" width="0.6" height="0.6" fill="#444"/>
<rect x="387.8" y="215.9" width="0.6" height="0.6" fill="#444"/>
<rect x="382.0" y="214.3" width="0.6" height="0.6" fill="#444"/>
<rect x="387.3" y="205.8" width="0.6" height="0.6" fill="#444"/>
<rect x="392.1" y="206.4" width="0.6" height="0.6" fill="#444"/>
<rect x="371.6" y="205.9" width="0.6" height="0.6" fill="#444"/>
<rect x="375.3" y="205.6" width="0.6" height="0.6" fill="#444"/>
<rect x="388.1" y="207.9" width="0.6" height="0.6" fill="#444"/>
<rect x="394.6" y="207.0" width="0.6" height="0.6" fill="#444"/>
<rect x="386.3" y="208.7" width="0.6" height="0.6" fill="#444"/>
<rect x="368.3" y="209.3" width="0.6" height="0.6" fill="#444"/>
<rect x="385.3" y="214.2" width="0.6" height="0.6" fill="#444"/>
<rect x="372.7" y="214.5" width="0.6" height="0.6" fill="#444"/>
<rect x="391.6" y="204.2" width="0.6" height="0.6" fill="#444"/>
<rect x="385.1" y="215.9" width="0.6" height="0.6" fill="#444"/>
<rect x="368.7" y="211.6" width="0.6" height="0.6" fill="#444"/>
<rect x="366.0" y="210.0" width="0.6" height="0.6" fill="#444"/>
<rect x="394.0" y="207.2" width="0.6" height="0.6" fill="#444"/>
<rect x="387.0" y="199.8" width="0.6" height="0.6" fill="#444"/>
<rect x="377.4" y="206.3" width="0.6" height="0.6" fill="#444"/>
<rect x="388.8" y="207.5" width="0.6" height="0.6" fill="#444"/>
<rect x="388.4" y="208.5" width="0.6" height="0.6" fill="#444"/>
<rect x="377.0" y="209.7" width="0.6" height="0.6" fill="#444"/>
<rect x="384.3" y="207.4" width="0.6" height="0.6" fill="#444"/>
<rect x="388.3" y="204.4" width="0.6" height="0.6" fill="#444"/>
<rect x="383.9" y="212.2" width="0.6" height="0.6" fill="#444"/>
<rect x="377.7" y="208.8" width="0.6" height="0.6" fill="#444"/>
<rect x="381.8" y="200.8" width="0.6" height="0.6" fill="#444"/>
<rect x="394.1" y="207.0" width="0.6" height="0.6" fill="#444"/>
<rect x="390.2" y="205.0" width="0.6" height="0.6" fill="#444"/>
<rect x="372.7" y="206.5" width="0.6" height="0.6" fill="#444"/>
<rect x="387.2" y="197.5" width="0.6" height="0.6" fill="#444"/>
<rect x="387.5" y="199.6" width="0.6" height="0.6" fill="#444"/>
<rect x="388.2" y="208.9" width="0.6" height="0.6" fill="#444"/>
<rect x="388.9" y="211.5" width="0.6" height="0.6" fill="#444"/>
<rect x="373.1" y="204.9" width="0.6" height="0.6" fill="#444"/>
<rect x="384.1" y="205.2" width="0.6" height="0.6" fill="#444"/>
<rect x="379.8" y="201.4" width="0.6" height="0.6" fill="#444"/>
<rect x="388.4" y="209.8" width="0.6" height="0.6" fill="#444"/>
<rect x="371.8" y="206.5" width="0.6" height="0.6" fill="#444"/>
<rect x="389.8" y="207.3" width="0.6" height="0.6" fill="#444"/>
<rect x="385.4" y="205.3" width="0.6" height="0.6" fill="#444"/>
<rect x="377.1" y="208.3" width="0.6" height="0.6" fill="#444"/>
<rect x="376.3" y="204.0" width="0.6" height="0.6" fill="#444"/>
<rect x="381.7" y="205.6" width="0.6" height="0.6" fill="#444"/>
<rect x="363.8" y="210.8" width="0.6" height="0.6" fill="#444"/>
<rect x="391.3" y="208.5" width="0.6" height="0.6" fill="#444"/>
<rect x="376.0" y="200.8" width="0.6" height="0.6" fill="#444"/>
<rect x="373.3" y="205.9" width="0.6" height="0.6" fill="#444"/>
<rect x="386.5" y="207.0" width="0.6" height="0.6" fill="#444"/>
<rect x="378.0" y="200.9" width="0.6" height="0.6" fill="#444"/>
<rect x="379.9" y="202.4" width="0.6" height="0.6" fill="#444"/>
<rect x="393.0" y="208.9" width="0.6" height="0.6" fill="#444"/>
<rect x="393.1" y="207.3" width="0.6" height="0.6" fill="#444"/>
<rect x="369.7" y="213.7" width="0.6" height="0.6" fill="#444"/>
<rect x="376.4" y="210.9" width="0.6" height="0.6" fill="#444"/>
<rect x="371.8" y="204.9" width="0.6" height="0.6" fill="#444"/>
<rect x="377.5" y="202.2" width="0.6" height="0.6" fill="#444"/>
<rect x="371.3" y="212.5" width="0.6" height="0.6" fill="#444"/>
<rect x="376.7" y="214.1" width="0.6" height="0.6" fill="#444"/>
<rect x="384.7" y="208.1" width="0.6" height="0.6" fill="#444"/>
<rect x="384.3" y="205.4" width="0.6" height="0.6" fill="#444"/>
<rect x="379.0" y="208.9" width="0.6" height="0.6" fill="#444"/>
<rect x="381.6" y="203.6" width="0.6" height="0.6" fill="#444"/>
<rect x="386.3" y="209.2" width="0.6" height="0.6" fill="#444"/>
<rect x="391.6" y="204.5" width="0.6" height="0.6" fill="#444"/>
<rect x="398.3" y="208.2" width="0.6" height="0.6" fill="#444"/>
<rect x="388.2" y="210.5" width="0.6" height="0.6" fill="#444"/>
<rect x="369.0" y="206.1" width="0.6" height="0.6" fill="#444"/>
<rect x="389.2" y="215.2" width="0.6" height="0.6" fill="#444"/>
<rect x="389.4" y="205.0" width="0.6" height="0.6" fill="#444"/>
<rect x="391.4" y="208.1" width="0.6" height="0.6" fill="#444"/>
<rect x="370.6" y="211.2" width="0.6" height="0.6" fill="#444"/>
<rect x="381.7" y="205.7" width="0.6" height="0.6" fill="#444"/>
<rect x="371.8" y="205.0" width="0.6" height="0.6" fill="#444"/>
<rect x="389.6" y="204.9" width="0.6" height="0.6" fill="#444"/>
<path d="M372.20,202.20 C373.07,201.03 374.37,200.38 376.20,199.90 C378.03,199.42 380.87,199.20 383.20,199.30 C385.53,199.40 388.65,199.82 390.20,200.50 C391.75,201.18 392.32,201.95 392.50,203.40 C392.68,204.85 391.88,207.47 391.30,209.20 C390.72,210.93 390.35,212.63 389.00,213.80 C387.65,214.97 385.52,215.80 383.20,216.20 C380.88,216.60 377.03,216.78 375.10,216.20 C373.17,215.62 372.28,214.25 371.60,212.70 C370.92,211.15 370.90,208.65 371.00,206.90 C371.10,205.15 371.33,203.37 372.20,202.20 Z" fill="#ccc" stroke="#000" stroke-width="0.7" />
<path d="M372.94,202.61 C373.73,201.53 374.93,200.94 376.62,200.49 C378.30,200.05 380.91,199.85 383.06,199.94 C385.20,200.03 388.07,200.42 389.50,201.04 C390.92,201.67 391.44,202.38 391.61,203.71 C391.78,205.05 391.05,207.45 390.51,209.05 C389.97,210.64 389.63,212.21 388.39,213.28 C387.15,214.35 385.19,215.12 383.06,215.49 C380.93,215.86 377.38,216.02 375.60,215.49 C373.83,214.95 373.01,213.69 372.38,212.27 C371.76,210.84 371.74,208.54 371.83,206.93 C371.92,205.32 372.14,203.68 372.94,202.61 Z" fill="#888" stroke="#111" stroke-width="0.45" />
<path d="M373.67,203.02 C374.40,202.04 375.49,201.49 377.03,201.08 C378.57,200.68 380.95,200.50 382.91,200.58 C384.87,200.66 387.49,201.01 388.79,201.59 C390.10,202.16 390.57,202.81 390.73,204.02 C390.88,205.24 390.21,207.44 389.72,208.90 C389.23,210.35 388.92,211.78 387.79,212.76 C386.65,213.74 384.86,214.44 382.91,214.78 C380.97,215.11 377.73,215.27 376.11,214.78 C374.49,214.29 373.74,213.14 373.17,211.84 C372.60,210.53 372.58,208.43 372.67,206.96 C372.75,205.49 372.95,204.00 373.67,203.02 Z" fill="none" stroke="#eee" stroke-width="0.4" />
<path d="M374.41,203.42 C375.07,202.54 376.06,202.04 377.45,201.68 C378.84,201.31 381.00,201.14 382.77,201.22 C384.54,201.30 386.91,201.61 388.09,202.13 C389.27,202.65 389.70,203.23 389.84,204.34 C389.98,205.44 389.37,207.43 388.93,208.74 C388.48,210.06 388.20,211.35 387.18,212.24 C386.15,213.13 384.53,213.76 382.77,214.06 C381.01,214.37 378.08,214.51 376.61,214.06 C375.14,213.62 374.47,212.58 373.95,211.40 C373.43,210.23 373.42,208.33 373.50,207.00 C373.57,205.67 373.75,204.31 374.41,203.42 Z" fill="none" stroke="#222" stroke-width="0.4" />
<circle cx="379.1" cy="208.6" r="7.2" fill="#444"/>
<circle cx="379.1" cy="208.6" r="6.2" fill="#060606"/>
<circle cx="379.7" cy="209" r="0.8" fill="#fff"/>
<path d="M357.00,208.00 C357.40,207.03 358.13,205.77 359.40,205.10 C360.67,204.43 363.25,204.38 364.60,204.00 C365.95,203.62 366.72,202.80 367.50,202.80 C368.28,202.80 369.10,203.32 369.30,204.00 C369.50,204.68 368.90,205.85 368.70,206.90 C368.50,207.95 368.78,209.43 368.10,210.30 C367.42,211.17 366.15,211.70 364.60,212.10 C363.05,212.50 360.07,212.90 358.80,212.70 C357.53,212.50 357.30,211.68 357.00,210.90 C356.70,210.12 356.60,208.97 357.00,208.00 Z" fill="#fff" stroke="#000" stroke-width="0.75" />
<path d="M359.00,207.50 C359.33,206.75 360.92,206.67 362.00,206.50 C363.08,206.33 364.70,206.12 365.50,206.50 C366.30,206.88 366.97,208.08 366.80,208.80 C366.63,209.52 365.63,210.43 364.50,210.80 C363.37,211.17 360.92,211.55 360.00,211.00 C359.08,210.45 358.67,208.25 359.00,207.50 Z" fill="none" stroke="#000" stroke-width="0.5" />
<ellipse cx="360.8" cy="208.8" rx="1.70" ry="1.20" fill="#fff" stroke="#000" stroke-width="0.5"/>
<rect x="452.2" y="40.6" width="0.7" height="0.7" fill="#444"/>
<rect x="459.5" y="69.2" width="0.7" height="0.7" fill="#444"/>
<rect x="454.6" y="40.6" width="0.7" height="0.7" fill="#444"/>
<rect x="456.4" y="72.9" width="0.7" height="0.7" fill="#444"/>
<rect x="454.8" y="72.0" width="0.7" height="0.7" fill="#444"/>
<rect x="464.6" y="41.8" width="0.7" height="0.7" fill="#444"/>
<rect x="462.2" y="57.4" width="0.7" height="0.7" fill="#444"/>
<rect x="459.8" y="84.8" width="0.7" height="0.7" fill="#444"/>
<rect x="453.8" y="36.0" width="0.7" height="0.7" fill="#444"/>
<rect x="469.9" y="55.1" width="0.7" height="0.7" fill="#444"/>
<rect x="455.8" y="51.5" width="0.7" height="0.7" fill="#444"/>
<rect x="458.9" y="82.8" width="0.7" height="0.7" fill="#444"/>
<rect x="456.0" y="45.8" width="0.7" height="0.7" fill="#444"/>
<rect x="463.1" y="62.4" width="0.7" height="0.7" fill="#444"/>
<rect x="470.1" y="76.9" width="0.7" height="0.7" fill="#444"/>
<rect x="458.8" y="45.2" width="0.7" height="0.7" fill="#444"/>
<rect x="467.9" y="84.4" width="0.7" height="0.7" fill="#444"/>
<rect x="452.6" y="71.8" width="0.7" height="0.7" fill="#444"/>
<rect x="468.5" y="67.6" width="0.7" height="0.7" fill="#444"/>
<rect x="456.1" y="74.8" width="0.7" height="0.7" fill="#444"/>
<rect x="465.9" y="44.7" width="0.7" height="0.7" fill="#444"/>
<rect x="464.2" y="46.0" width="0.7" height="0.7" fill="#444"/>
<rect x="452.8" y="51.8" width="0.7" height="0.7" fill="#444"/>
<rect x="458.4" y="54.8" width="0.7" height="0.7" fill="#444"/>
<rect x="464.3" y="76.8" width="0.7" height="0.7" fill="#444"/>
<rect x="470.3" y="83.8" width="0.7" height="0.7" fill="#444"/>
<rect x="470.9" y="74.5" width="0.7" height="0.7" fill="#444"/>
<rect x="457.8" y="43.8" width="0.7" height="0.7" fill="#444"/>
<rect x="463.9" y="62.3" width="0.7" height="0.7" fill="#444"/>
<rect x="464.8" y="39.7" width="0.7" height="0.7" fill="#444"/>
<rect x="455.7" y="81.1" width="0.7" height="0.7" fill="#444"/>
<rect x="463.4" y="69.8" width="0.7" height="0.7" fill="#444"/>
<rect x="453.8" y="55.0" width="0.7" height="0.7" fill="#444"/>
<rect x="469.3" y="67.5" width="0.7" height="0.7" fill="#444"/>
<rect x="470.8" y="44.8" width="0.7" height="0.7" fill="#444"/>
<rect x="460.6" y="75.0" width="0.7" height="0.7" fill="#444"/>
<rect x="460.4" y="74.4" width="0.7" height="0.7" fill="#444"/>
<rect x="462.7" y="40.9" width="0.7" height="0.7" fill="#444"/>
<rect x="453.9" y="84.1" width="0.7" height="0.7" fill="#444"/>
<rect x="454.3" y="44.7" width="0.7" height="0.7" fill="#444"/>
<rect x="458.4" y="70.7" width="0.7" height="0.7" fill="#444"/>
<rect x="468.2" y="58.8" width="0.7" height="0.7" fill="#444"/>
<rect x="461.5" y="74.4" width="0.7" height="0.7" fill="#444"/>
<rect x="457.3" y="53.6" width="0.7" height="0.7" fill="#444"/>
<rect x="463.6" y="66.8" width="0.7" height="0.7" fill="#444"/>
<rect x="452.7" y="40.6" width="0.7" height="0.7" fill="#444"/>
<rect x="454.6" y="71.3" width="0.7" height="0.7" fill="#444"/>
<rect x="465.2" y="83.7" width="0.7" height="0.7" fill="#444"/>
<rect x="466.6" y="47.7" width="0.7" height="0.7" fill="#444"/>
<rect x="466.5" y="84.3" width="0.7" height="0.7" fill="#444"/>
<rect x="458.6" y="35.6" width="0.7" height="0.7" fill="#444"/>
<rect x="459.1" y="49.1" width="0.7" height="0.7" fill="#444"/>
<rect x="455.3" y="37.3" width="0.7" height="0.7" fill="#444"/>
<rect x="454.4" y="78.3" width="0.7" height="0.7" fill="#444"/>
<rect x="452.9" y="65.7" width="0.7" height="0.7" fill="#444"/>
<rect x="455.9" y="44.7" width="0.7" height="0.7" fill="#444"/>
<rect x="467.6" y="49.9" width="0.7" height="0.7" fill="#444"/>
<rect x="455.5" y="57.7" width="0.7" height="0.7" fill="#444"/>
<rect x="465.2" y="61.2" width="0.7" height="0.7" fill="#444"/>
<rect x="468.3" y="55.1" width="0.7" height="0.7" fill="#444"/>
<rect x="462.0" y="70.9" width="0.7" height="0.7" fill="#444"/>
<rect x="460.8" y="70.9" width="0.7" height="0.7" fill="#444"/>
<rect x="460.9" y="41.7" width="0.7" height="0.7" fill="#444"/>
<rect x="454.3" y="74.2" width="0.7" height="0.7" fill="#444"/>
<rect x="466.2" y="82.1" width="0.7" height="0.7" fill="#444"/>
<rect x="465.1" y="64.0" width="0.7" height="0.7" fill="#444"/>
<rect x="455.2" y="77.7" width="0.7" height="0.7" fill="#444"/>
<rect x="454.3" y="56.2" width="0.7" height="0.7" fill="#444"/>
<rect x="454.7" y="54.0" width="0.7" height="0.7" fill="#444"/>
<rect x="457.8" y="56.3" width="0.7" height="0.7" fill="#444"/>
<rect x="465.5" y="62.1" width="0.7" height="0.7" fill="#444"/>
<rect x="456.6" y="73.9" width="0.7" height="0.7" fill="#444"/>
<rect x="466.0" y="76.4" width="0.7" height="0.7" fill="#444"/>
<rect x="452.6" y="65.7" width="0.7" height="0.7" fill="#444"/>
<rect x="469.0" y="47.9" width="0.7" height="0.7" fill="#444"/>
<rect x="455.8" y="75.7" width="0.7" height="0.7" fill="#444"/>
<rect x="458.9" y="55.1" width="0.7" height="0.7" fill="#444"/>
<rect x="467.5" y="54.2" width="0.7" height="0.7" fill="#444"/>
<rect x="455.8" y="45.7" width="0.7" height="0.7" fill="#444"/>
<rect x="458.6" y="69.9" width="0.7" height="0.7" fill="#444"/>
<rect x="459.0" y="73.6" width="0.7" height="0.7" fill="#444"/>
<rect x="453.3" y="47.5" width="0.7" height="0.7" fill="#444"/>
<rect x="463.9" y="59.0" width="0.7" height="0.7" fill="#444"/>
<rect x="461.5" y="81.8" width="0.7" height="0.7" fill="#444"/>
<rect x="457.3" y="44.1" width="0.7" height="0.7" fill="#444"/>
<rect x="452.6" y="59.1" width="0.7" height="0.7" fill="#444"/>
<rect x="457.6" y="58.7" width="0.7" height="0.7" fill="#444"/>
<rect x="452.1" y="35.0" width="0.7" height="0.7" fill="#444"/>
<rect x="459.2" y="72.9" width="0.7" height="0.7" fill="#444"/>
<rect x="457.7" y="80.6" width="0.7" height="0.7" fill="#444"/>
<rect x="462.9" y="65.9" width="0.6" height="0.6" fill="#333"/>
<rect x="469.5" y="83.0" width="0.6" height="0.6" fill="#333"/>
<rect x="459.6" y="51.4" width="0.6" height="0.6" fill="#333"/>
<rect x="461.3" y="56.1" width="0.6" height="0.6" fill="#333"/>
<rect x="464.4" y="44.4" width="0.6" height="0.6" fill="#333"/>
<rect x="466.1" y="42.7" width="0.6" height="0.6" fill="#333"/>
<rect x="467.3" y="49.1" width="0.6" height="0.6" fill="#333"/>
<rect x="466.3" y="65.7" width="0.6" height="0.6" fill="#333"/>
<rect x="464.6" y="52.8" width="0.6" height="0.6" fill="#333"/>
<rect x="461.9" y="46.2" width="0.6" height="0.6" fill="#333"/>
<rect x="471.5" y="67.7" width="0.6" height="0.6" fill="#333"/>
<rect x="472.9" y="65.0" width="0.6" height="0.6" fill="#333"/>
<rect x="466.5" y="53.0" width="0.6" height="0.6" fill="#333"/>
<rect x="464.0" y="40.7" width="0.6" height="0.6" fill="#333"/>
<rect x="469.2" y="72.6" width="0.6" height="0.6" fill="#333"/>
<rect x="471.3" y="78.6" width="0.6" height="0.6" fill="#333"/>
<rect x="468.3" y="63.5" width="0.6" height="0.6" fill="#333"/>
<rect x="461.0" y="48.8" width="0.6" height="0.6" fill="#333"/>
<rect x="468.5" y="82.8" width="0.6" height="0.6" fill="#333"/>
<rect x="466.9" y="51.6" width="0.6" height="0.6" fill="#333"/>
<rect x="468.6" y="74.1" width="0.6" height="0.6" fill="#333"/>
<rect x="460.1" y="69.8" width="0.6" height="0.6" fill="#333"/>
<rect x="461.0" y="60.5" width="0.6" height="0.6" fill="#333"/>
<rect x="467.1" y="60.9" width="0.6" height="0.6" fill="#333"/>
<rect x="458.8" y="65.0" width="0.6" height="0.6" fill="#333"/>
<rect x="459.1" y="68.9" width="0.6" height="0.6" fill="#333"/>
<rect x="457.0" y="53.9" width="0.6" height="0.6" fill="#333"/>
<rect x="463.0" y="51.2" width="0.6" height="0.6" fill="#333"/>
<rect x="465.9" y="63.4" width="0.6" height="0.6" fill="#333"/>
<rect x="472.7" y="65.9" width="0.6" height="0.6" fill="#333"/>
<rect x="469.7" y="45.8" width="0.6" height="0.6" fill="#333"/>
<rect x="469.5" y="71.2" width="0.6" height="0.6" fill="#333"/>
<rect x="470.8" y="78.1" width="0.6" height="0.6" fill="#333"/>
<rect x="461.3" y="43.5" width="0.6" height="0.6" fill="#333"/>
<rect x="461.8" y="52.1" width="0.6" height="0.6" fill="#333"/>
<rect x="470.9" y="35.0" width="0.6" height="0.6" fill="#333"/>
<rect x="465.2" y="72.9" width="0.6" height="0.6" fill="#333"/>
<rect x="464.4" y="42.0" width="0.6" height="0.6" fill="#333"/>
<rect x="461.3" y="67.0" width="0.6" height="0.6" fill="#333"/>
<rect x="468.1" y="58.1" width="0.6" height="0.6" fill="#333"/>
<rect x="466.5" y="77.7" width="0.6" height="0.6" fill="#333"/>
<rect x="460.8" y="84.3" width="0.6" height="0.6" fill="#333"/>
<rect x="458.9" y="77.1" width="0.6" height="0.6" fill="#333"/>
<rect x="465.0" y="40.5" width="0.6" height="0.6" fill="#333"/>
<rect x="465.5" y="67.0" width="0.6" height="0.6" fill="#333"/>
<rect x="467.5" y="61.5" width="0.6" height="0.6" fill="#333"/>
<rect x="464.3" y="56.2" width="0.6" height="0.6" fill="#333"/>
<rect x="465.4" y="75.5" width="0.6" height="0.6" fill="#333"/>
<rect x="467.0" y="68.9" width="0.6" height="0.6" fill="#333"/>
<rect x="465.8" y="77.9" width="0.6" height="0.6" fill="#333"/>
<rect x="459.9" y="49.0" width="0.6" height="0.6" fill="#333"/>
<rect x="460.6" y="55.4" width="0.6" height="0.6" fill="#333"/>
<rect x="473.3" y="55.3" width="0.6" height="0.6" fill="#333"/>
<rect x="465.4" y="57.3" width="0.6" height="0.6" fill="#333"/>
<rect x="456.9" y="44.7" width="0.6" height="0.6" fill="#333"/>
<rect x="461.9" y="49.0" width="0.6" height="0.6" fill="#333"/>
<rect x="463.5" y="53.9" width="0.6" height="0.6" fill="#333"/>
<rect x="464.0" y="39.2" width="0.6" height="0.6" fill="#333"/>
<rect x="469.3" y="66.2" width="0.6" height="0.6" fill="#333"/>
<rect x="461.9" y="53.7" width="0.6" height="0.6" fill="#333"/>
<rect x="461.2" y="35.4" width="0.6" height="0.6" fill="#333"/>
<rect x="467.9" y="54.3" width="0.6" height="0.6" fill="#333"/>
<rect x="469.5" y="79.2" width="0.6" height="0.6" fill="#333"/>
<rect x="459.3" y="45.4" width="0.6" height="0.6" fill="#333"/>
<rect x="467.2" y="52.9" width="0.6" height="0.6" fill="#333"/>
<rect x="462.1" y="54.7" width="0.6" height="0.6" fill="#333"/>
<rect x="466.8" y="42.4" width="0.6" height="0.6" fill="#333"/>
<rect x="465.3" y="74.1" width="0.6" height="0.6" fill="#333"/>
<rect x="462.6" y="55.1" width="0.6" height="0.6" fill="#333"/>
<rect x="466.9" y="72.4" width="0.6" height="0.6" fill="#333"/>
<rect x="469.2" y="66.1" width="0.6" height="0.6" fill="#333"/>
<rect x="472.0" y="51.7" width="0.6" height="0.6" fill="#333"/>
<rect x="472.0" y="67.5" width="0.6" height="0.6" fill="#333"/>
<rect x="463.7" y="41.6" width="0.6" height="0.6" fill="#333"/>
<rect x="471.7" y="63.4" width="0.6" height="0.6" fill="#333"/>
<rect x="467.4" y="80.4" width="0.6" height="0.6" fill="#333"/>
<rect x="463.3" y="70.3" width="0.6" height="0.6" fill="#333"/>
<rect x="468.8" y="81.3" width="0.6" height="0.6" fill="#333"/>
<rect x="466.4" y="84.0" width="0.6" height="0.6" fill="#333"/>
<rect x="462.7" y="59.4" width="0.6" height="0.6" fill="#333"/>
<rect x="462.2" y="47.8" width="0.6" height="0.6" fill="#333"/>
<rect x="472.3" y="63.8" width="0.6" height="0.6" fill="#333"/>
<rect x="464.9" y="62.6" width="0.6" height="0.6" fill="#333"/>
<rect x="465.7" y="40.8" width="0.6" height="0.6" fill="#333"/>
<rect x="463.1" y="65.1" width="0.6" height="0.6" fill="#333"/>
<rect x="459.8" y="57.3" width="0.6" height="0.6" fill="#333"/>
<rect x="463.3" y="47.1" width="0.6" height="0.6" fill="#333"/>
<rect x="459.2" y="52.1" width="0.6" height="0.6" fill="#333"/>
<rect x="465.9" y="67.0" width="0.6" height="0.6" fill="#333"/>
<rect x="458.3" y="62.0" width="0.6" height="0.6" fill="#333"/>
<rect x="467.6" y="37.8" width="0.6" height="0.6" fill="#333"/>
<rect x="459.1" y="67.1" width="0.6" height="0.6" fill="#333"/>
<rect x="468.1" y="67.4" width="0.6" height="0.6" fill="#333"/>
<rect x="471.9" y="69.3" width="0.6" height="0.6" fill="#333"/>
<rect x="471.0" y="60.0" width="0.6" height="0.6" fill="#333"/>
<rect x="465.1" y="48.4" width="0.6" height="0.6" fill="#333"/>
<rect x="465.5" y="55.1" width="0.6" height="0.6" fill="#333"/>
<rect x="462.4" y="68.1" width="0.6" height="0.6" fill="#333"/>
<rect x="466.6" y="54.4" width="0.6" height="0.6" fill="#333"/>
<rect x="465.9" y="64.4" width="0.6" height="0.6" fill="#333"/>
<rect x="466.9" y="51.3" width="0.6" height="0.6" fill="#333"/>
<rect x="467.8" y="54.1" width="0.6" height="0.6" fill="#333"/>
<rect x="466.4" y="53.2" width="0.6" height="0.6" fill="#333"/>
<rect x="473.8" y="41.4" width="0.6" height="0.6" fill="#333"/>
<rect x="469.4" y="47.3" width="0.6" height="0.6" fill="#333"/>
<rect x="472.1" y="43.9" width="0.6" height="0.6" fill="#333"/>
<rect x="468.1" y="57.8" width="0.6" height="0.6" fill="#333"/>
<rect x="469.1" y="43.1" width="0.6" height="0.6" fill="#333"/>
<rect x="463.6" y="66.0" width="0.6" height="0.6" fill="#333"/>
<rect x="468.7" y="52.0" width="0.6" height="0.6" fill="#333"/>
<rect x="456.8" y="55.3" width="0.6" height="0.6" fill="#333"/>
<rect x="462.0" y="60.9" width="0.6" height="0.6" fill="#333"/>
<rect x="463.1" y="46.4" width="0.6" height="0.6" fill="#333"/>
<rect x="464.1" y="78.2" width="0.6" height="0.6" fill="#333"/>
<rect x="467.5" y="54.9" width="0.6" height="0.6" fill="#333"/>
<rect x="467.6" y="41.5" width="0.6" height="0.6" fill="#333"/>
<rect x="462.4" y="58.9" width="0.6" height="0.6" fill="#333"/>
<path d="M460.60,42.40 C461.08,40.85 462.65,39.38 464.10,39.00 C465.55,38.62 468.33,38.75 469.30,40.10 C470.27,41.45 470.08,44.97 469.90,47.10 C469.72,49.23 469.17,51.93 468.20,52.90 C467.23,53.87 465.27,53.67 464.10,52.90 C462.93,52.13 461.78,50.05 461.20,48.30 C460.62,46.55 460.12,43.95 460.60,42.40 Z" fill="#ccc" stroke="#000" stroke-width="0.6" />
<path d="M462.50,43.88 C462.79,42.95 463.73,42.07 464.60,41.84 C465.47,41.61 467.14,41.69 467.72,42.50 C468.30,43.31 468.19,45.42 468.08,46.70 C467.97,47.98 467.64,49.60 467.06,50.18 C466.48,50.76 465.30,50.64 464.60,50.18 C463.90,49.72 463.21,48.47 462.86,47.42 C462.51,46.37 462.21,44.81 462.50,43.88 Z" fill="#eee" stroke="#333" stroke-width="0.5" />
<path d="M468.55,37.53 C469.79,34.93 472.66,34.08 475.26,33.03 C477.85,31.98 481.42,31.80 484.11,31.23 C486.80,30.65 489.51,29.74 491.41,29.58 C493.31,29.43 495.30,28.97 495.52,30.29 C495.74,31.61 493.99,34.84 492.75,37.51 C491.50,40.18 489.74,43.43 488.08,46.32 C486.42,49.22 484.70,53.09 482.80,54.89 C480.90,56.70 478.70,57.01 476.67,57.17 C474.64,57.32 472.09,57.25 470.61,55.83 C469.13,54.42 468.13,51.70 467.78,48.65 C467.44,45.60 467.30,40.14 468.55,37.53 Z" fill="none" stroke="#555" stroke-width="0.4" />
<path d="M469.30,37.80 C470.50,35.37 473.27,34.67 475.70,33.70 C478.13,32.73 481.37,32.58 483.90,32.00 C486.43,31.42 489.07,30.40 490.90,30.20 C492.73,30.00 494.72,29.53 494.90,30.80 C495.08,32.07 493.25,35.28 492.00,37.80 C490.75,40.32 488.95,43.18 487.40,45.90 C485.85,48.62 484.45,52.35 482.70,54.10 C480.95,55.85 478.83,56.22 476.90,56.40 C474.97,56.58 472.50,56.55 471.10,55.20 C469.70,53.85 468.80,51.20 468.50,48.30 C468.20,45.40 468.10,40.23 469.30,37.80 Z" fill="#d8d8d8" stroke="#000" stroke-width="0.6" />
<path d="M470.01,38.05 C471.14,35.77 473.74,35.11 476.03,34.20 C478.32,33.29 481.36,33.15 483.74,32.60 C486.12,32.05 488.60,31.10 490.32,30.91 C492.04,30.72 493.91,30.28 494.08,31.47 C494.25,32.66 492.53,35.69 491.35,38.05 C490.18,40.42 488.49,43.11 487.03,45.67 C485.57,48.22 484.26,51.73 482.61,53.38 C480.97,55.02 478.98,55.36 477.16,55.54 C475.34,55.71 473.02,55.68 471.71,54.41 C470.39,53.14 469.54,50.65 469.26,47.92 C468.98,45.20 468.89,40.34 470.01,38.05 Z" fill="#9a9a9a" stroke="#111" stroke-width="0.45" />
<path d="M470.73,38.31 C471.79,36.16 474.22,35.55 476.36,34.70 C478.50,33.85 481.35,33.72 483.58,33.20 C485.81,32.69 488.12,31.79 489.74,31.62 C491.35,31.44 493.10,31.03 493.26,32.15 C493.42,33.26 491.81,36.09 490.71,38.31 C489.61,40.52 488.02,43.04 486.66,45.43 C485.29,47.82 484.06,51.11 482.52,52.65 C480.98,54.19 479.12,54.51 477.42,54.67 C475.72,54.84 473.55,54.81 472.31,53.62 C471.08,52.43 470.29,50.10 470.03,47.55 C469.76,44.99 469.67,40.45 470.73,38.31 Z" fill="none" stroke="#f0f0f0" stroke-width="0.4" />
<path d="M471.32,38.52 C472.32,36.50 474.62,35.92 476.64,35.11 C478.66,34.31 481.34,34.19 483.44,33.70 C485.55,33.22 487.73,32.38 489.25,32.21 C490.77,32.04 492.42,31.66 492.57,32.71 C492.72,33.76 491.20,36.43 490.17,38.52 C489.13,40.61 487.63,42.99 486.35,45.24 C485.06,47.49 483.90,50.59 482.45,52.05 C480.99,53.50 479.24,53.80 477.63,53.96 C476.03,54.11 473.98,54.08 472.82,52.96 C471.66,51.84 470.91,49.64 470.66,47.23 C470.41,44.83 470.33,40.54 471.32,38.52 Z" fill="none" stroke="#222" stroke-width="0.45" />
<path d="M472.04,38.77 C472.96,36.90 475.09,36.36 476.97,35.61 C478.84,34.87 481.33,34.75 483.28,34.30 C485.23,33.86 487.26,33.07 488.67,32.92 C490.08,32.76 491.61,32.40 491.75,33.38 C491.89,34.36 490.48,36.83 489.52,38.77 C488.56,40.71 487.17,42.92 485.98,45.01 C484.78,47.10 483.70,49.97 482.36,51.32 C481.01,52.67 479.38,52.95 477.89,53.09 C476.40,53.23 474.50,53.21 473.43,52.17 C472.35,51.13 471.65,49.09 471.42,46.86 C471.19,44.62 471.12,40.64 472.04,38.77 Z" fill="none" stroke="#e0e0e0" stroke-width="0.4" />
<path d="M472.63,38.98 C473.50,37.23 475.49,36.73 477.24,36.03 C478.99,35.33 481.32,35.23 483.15,34.81 C484.97,34.39 486.87,33.65 488.19,33.51 C489.51,33.37 490.93,33.03 491.07,33.94 C491.20,34.85 489.88,37.17 488.98,38.98 C488.08,40.79 486.78,42.86 485.67,44.81 C484.55,46.77 483.54,49.46 482.28,50.72 C481.02,51.98 479.50,52.24 478.11,52.37 C476.71,52.51 474.94,52.48 473.93,51.51 C472.92,50.54 472.27,48.63 472.06,46.54 C471.84,44.45 471.77,40.73 472.63,38.98 Z" fill="none" stroke="#222" stroke-width="0.4" />
<path d="M469.26,59.38 C470.52,57.82 473.02,57.00 475.41,56.69 C477.80,56.38 481.61,56.40 483.60,57.51 C485.59,58.62 486.80,60.46 487.36,63.34 C487.91,66.22 487.55,71.75 486.94,74.78 C486.33,77.80 485.14,79.95 483.69,81.49 C482.23,83.03 480.19,83.98 478.23,83.99 C476.27,84.00 473.54,83.09 471.93,81.57 C470.32,80.05 469.25,77.47 468.58,74.88 C467.90,72.30 467.75,68.65 467.87,66.07 C467.98,63.48 468.01,60.94 469.26,59.38 Z" fill="none" stroke="#555" stroke-width="0.4" />
<path d="M469.75,60.02 C470.90,58.54 473.27,57.78 475.52,57.48 C477.77,57.18 481.38,57.17 483.24,58.22 C485.10,59.27 486.19,61.08 486.69,63.78 C487.19,66.48 486.79,71.58 486.22,74.42 C485.66,77.25 484.64,79.33 483.30,80.79 C481.96,82.25 480.01,83.18 478.17,83.19 C476.34,83.20 473.75,82.29 472.27,80.84 C470.78,79.39 469.88,76.90 469.27,74.49 C468.66,72.08 468.53,68.78 468.61,66.37 C468.68,63.96 468.60,61.50 469.75,60.02 Z" fill="#d8d8d8" stroke="#000" stroke-width="0.6" />
<path d="M470.20,60.61 C471.28,59.22 473.51,58.51 475.63,58.23 C477.74,57.95 481.14,57.94 482.88,58.93 C484.63,59.92 485.66,61.61 486.13,64.15 C486.59,66.69 486.22,71.49 485.69,74.15 C485.16,76.82 484.20,78.77 482.94,80.14 C481.68,81.52 479.85,82.39 478.12,82.40 C476.39,82.41 473.96,81.55 472.57,80.19 C471.17,78.83 470.33,76.49 469.76,74.22 C469.18,71.95 469.05,68.85 469.13,66.59 C469.20,64.32 469.12,62.01 470.20,60.61 Z" fill="#9a9a9a" stroke="#111" stroke-width="0.45" />
<path d="M470.65,61.21 C471.67,59.91 473.76,59.24 475.74,58.98 C477.71,58.72 480.89,58.71 482.53,59.63 C484.17,60.56 485.13,62.15 485.56,64.52 C486.00,66.90 485.65,71.39 485.15,73.88 C484.66,76.38 483.76,78.20 482.58,79.49 C481.40,80.78 479.69,81.60 478.07,81.61 C476.45,81.61 474.18,80.81 472.87,79.54 C471.57,78.26 470.77,76.07 470.24,73.95 C469.70,71.82 469.58,68.93 469.65,66.80 C469.72,64.68 469.64,62.52 470.65,61.21 Z" fill="none" stroke="#f0f0f0" stroke-width="0.4" />
<path d="M471.03,61.71 C471.99,60.48 473.96,59.85 475.82,59.60 C477.69,59.35 480.69,59.35 482.23,60.22 C483.78,61.09 484.68,62.59 485.09,64.83 C485.51,67.07 485.18,71.31 484.71,73.66 C484.24,76.01 483.39,77.74 482.28,78.95 C481.17,80.16 479.55,80.94 478.03,80.94 C476.50,80.95 474.35,80.20 473.12,78.99 C471.89,77.79 471.15,75.72 470.64,73.72 C470.13,71.72 470.02,68.98 470.08,66.98 C470.15,64.98 470.08,62.94 471.03,61.71 Z" fill="none" stroke="#222" stroke-width="0.45" />
<path d="M471.49,62.31 C472.37,61.16 474.20,60.58 475.93,60.35 C477.66,60.12 480.44,60.11 481.88,60.92 C483.31,61.73 484.15,63.12 484.53,65.20 C484.91,67.28 484.61,71.21 484.17,73.39 C483.74,75.58 482.95,77.17 481.92,78.30 C480.89,79.43 479.39,80.14 477.97,80.15 C476.56,80.16 474.57,79.46 473.43,78.34 C472.28,77.22 471.59,75.31 471.12,73.45 C470.65,71.59 470.55,69.05 470.61,67.20 C470.67,65.34 470.60,63.45 471.49,62.31 Z" fill="none" stroke="#e0e0e0" stroke-width="0.4" />
<path d="M471.86,62.80 C472.69,61.74 474.40,61.19 476.02,60.98 C477.64,60.76 480.24,60.75 481.58,61.51 C482.92,62.27 483.70,63.57 484.06,65.51 C484.42,67.45 484.13,71.13 483.73,73.17 C483.32,75.21 482.59,76.71 481.62,77.76 C480.65,78.81 479.25,79.48 477.93,79.49 C476.61,79.49 474.75,78.84 473.68,77.80 C472.61,76.75 471.96,74.96 471.52,73.22 C471.08,71.49 470.98,69.11 471.04,67.38 C471.10,65.64 471.03,63.87 471.86,62.80 Z" fill="none" stroke="#222" stroke-width="0.4" />
<path d="M469.67,38.44 C470.60,36.78 472.56,35.79 474.31,35.04 C476.05,34.30 478.42,34.00 480.13,33.96 C481.85,33.91 483.69,33.80 484.57,34.76 C485.46,35.72 485.69,37.79 485.42,39.72 C485.16,41.65 484.08,44.19 482.99,46.35 C481.91,48.51 480.46,51.22 478.92,52.68 C477.38,54.13 475.26,55.29 473.75,55.07 C472.24,54.85 470.68,53.03 469.85,51.36 C469.01,49.68 468.75,47.16 468.72,45.01 C468.69,42.86 468.74,40.10 469.67,38.44 Z" fill="#444" stroke="none" stroke-width="0.6" />
<path d="M470.50,39.00 C471.32,37.53 473.05,36.68 474.60,36.00 C476.15,35.32 478.25,34.98 479.80,34.90 C481.35,34.82 483.12,34.63 483.90,35.50 C484.68,36.37 484.80,38.37 484.50,40.10 C484.20,41.83 483.07,43.97 482.10,45.90 C481.13,47.83 480.05,50.33 478.70,51.70 C477.35,53.07 475.37,54.28 474.00,54.10 C472.63,53.92 471.22,52.15 470.50,50.60 C469.78,49.05 469.70,46.73 469.70,44.80 C469.70,42.87 469.68,40.47 470.50,39.00 Z" fill="#080808" stroke="none" stroke-width="0.6" />
<path d="M471.64,39.77 C472.31,38.56 473.73,37.87 475.00,37.31 C476.27,36.75 477.99,36.47 479.27,36.40 C480.54,36.34 481.99,36.19 482.63,36.90 C483.27,37.61 483.37,39.25 483.12,40.67 C482.87,42.09 481.94,43.84 481.15,45.42 C480.36,47.01 479.47,49.06 478.36,50.18 C477.26,51.30 475.63,52.30 474.51,52.15 C473.39,52.00 472.23,50.55 471.64,49.28 C471.05,48.01 470.98,46.11 470.98,44.52 C470.98,42.94 470.97,40.97 471.64,39.77 Z" fill="none" stroke="#bbb" stroke-width="0.35" opacity="0.55"/>
<path d="M472.91,40.62 C473.41,39.71 474.49,39.18 475.45,38.76 C476.41,38.34 477.71,38.13 478.67,38.08 C479.63,38.03 480.73,37.91 481.21,38.45 C481.70,38.99 481.77,40.23 481.59,41.30 C481.40,42.38 480.70,43.70 480.10,44.90 C479.50,46.10 478.83,47.65 477.99,48.49 C477.15,49.34 475.92,50.09 475.08,49.98 C474.23,49.87 473.35,48.77 472.91,47.81 C472.46,46.85 472.41,45.41 472.41,44.21 C472.41,43.02 472.40,41.53 472.91,40.62 Z" fill="none" stroke="#bbb" stroke-width="0.35" opacity="0.45"/>
<path d="M474.17,41.47 C474.51,40.85 475.24,40.50 475.89,40.21 C476.54,39.92 477.43,39.78 478.08,39.75 C478.73,39.71 479.47,39.64 479.80,40.00 C480.13,40.36 480.18,41.20 480.05,41.93 C479.93,42.66 479.45,43.56 479.04,44.37 C478.64,45.18 478.18,46.23 477.62,46.80 C477.05,47.38 476.22,47.89 475.64,47.81 C475.07,47.74 474.47,46.99 474.17,46.34 C473.87,45.69 473.84,44.72 473.84,43.91 C473.84,43.09 473.83,42.09 474.17,41.47 Z" fill="none" stroke="#bbb" stroke-width="0.35" opacity="0.4"/>
<path d="M470.23,60.65 C471.28,59.25 473.53,58.56 475.64,58.27 C477.75,57.99 481.15,57.95 482.88,58.94 C484.61,59.93 485.58,61.70 486.02,64.22 C486.46,66.74 486.03,71.41 485.51,74.06 C484.99,76.70 484.14,78.70 482.91,80.09 C481.68,81.48 479.84,82.39 478.12,82.40 C476.41,82.40 473.96,81.50 472.60,80.12 C471.25,78.74 470.51,76.34 469.97,74.10 C469.43,71.86 469.30,68.91 469.35,66.67 C469.39,64.43 469.19,62.05 470.23,60.65 Z" fill="#444" stroke="none" stroke-width="0.6" />
<path d="M470.84,61.45 C471.76,60.15 473.85,59.53 475.78,59.26 C477.71,58.99 480.87,58.91 482.43,59.83 C484.00,60.75 484.82,62.48 485.19,64.77 C485.55,67.07 485.08,71.20 484.62,73.61 C484.16,76.01 483.52,77.91 482.43,79.21 C481.34,80.51 479.63,81.40 478.06,81.40 C476.50,81.40 474.23,80.51 473.03,79.21 C471.82,77.91 471.30,75.63 470.84,73.61 C470.38,71.58 470.27,69.08 470.27,67.05 C470.27,65.03 469.92,62.75 470.84,61.45 Z" fill="#080808" stroke="none" stroke-width="0.6" />
<path d="M472.01,62.98 C472.77,61.91 474.48,61.40 476.06,61.18 C477.65,60.96 480.23,60.90 481.52,61.65 C482.80,62.40 483.48,63.82 483.78,65.70 C484.08,67.58 483.69,70.97 483.31,72.95 C482.93,74.92 482.41,76.48 481.52,77.54 C480.62,78.61 479.22,79.33 477.93,79.33 C476.65,79.33 474.79,78.61 473.81,77.54 C472.82,76.48 472.39,74.61 472.01,72.95 C471.64,71.29 471.55,69.23 471.55,67.57 C471.55,65.91 471.26,64.04 472.01,62.98 Z" fill="none" stroke="#bbb" stroke-width="0.35" opacity="0.55"/>
<path d="M473.32,64.67 C473.88,63.87 475.18,63.49 476.38,63.32 C477.58,63.15 479.53,63.10 480.50,63.67 C481.47,64.24 481.98,65.31 482.21,66.74 C482.44,68.16 482.14,70.72 481.86,72.21 C481.57,73.71 481.18,74.88 480.50,75.69 C479.82,76.49 478.76,77.04 477.79,77.04 C476.82,77.04 475.42,76.49 474.67,75.69 C473.92,74.88 473.60,73.47 473.32,72.21 C473.03,70.96 472.96,69.41 472.96,68.15 C472.96,66.89 472.75,65.48 473.32,64.67 Z" fill="none" stroke="#bbb" stroke-width="0.35" opacity="0.45"/>
<path d="M474.62,66.37 C475.00,65.83 475.88,65.57 476.69,65.46 C477.50,65.34 478.83,65.31 479.48,65.69 C480.14,66.08 480.49,66.81 480.64,67.77 C480.79,68.73 480.60,70.47 480.40,71.48 C480.21,72.49 479.94,73.29 479.48,73.83 C479.03,74.38 478.31,74.75 477.65,74.75 C476.99,74.75 476.04,74.38 475.53,73.83 C475.03,73.29 474.81,72.33 474.62,71.48 C474.42,70.63 474.38,69.58 474.38,68.73 C474.38,67.88 474.23,66.92 474.62,66.37 Z" fill="none" stroke="#bbb" stroke-width="0.35" opacity="0.4"/>
<circle cx="478.5" cy="40" r="0.8" fill="#fff" opacity="0.9"/>
<circle cx="479.8" cy="71" r="0.8" fill="#fff" opacity="0.9"/>
<ellipse cx="479.3" cy="41.8" rx="1.1" ry="1.6" fill="#777"/>
<ellipse cx="475.6" cy="45.8" rx="0.6" ry="1.8" fill="#555"/>
<ellipse cx="479.9" cy="68.4" rx="1.1" ry="1.6" fill="#777"/>
<ellipse cx="476.2" cy="72.4" rx="0.6" ry="1.8" fill="#555"/>
<rect x="453.5" y="119.0" width="0.7" height="0.7" fill="#444"/>
<rect x="457.8" y="147.8" width="0.7" height="0.7" fill="#444"/>
<rect x="461.4" y="140.3" width="0.7" height="0.7" fill="#444"/>
<rect x="453.9" y="131.4" width="0.7" height="0.7" fill="#444"/>
<rect x="468.0" y="132.0" width="0.7" height="0.7" fill="#444"/>
<rect x="469.9" y="147.0" width="0.7" height="0.7" fill="#444"/>
<rect x="459.0" y="110.0" width="0.7" height="0.7" fill="#444"/>
<rect x="466.4" y="115.3" width="0.7" height="0.7" fill="#444"/>
<rect x="452.2" y="140.7" width="0.7" height="0.7" fill="#444"/>
<rect x="468.0" y="145.1" width="0.7" height="0.7" fill="#444"/>
<rect x="470.1" y="118.5" width="0.7" height="0.7" fill="#444"/>
<rect x="453.5" y="115.1" width="0.7" height="0.7" fill="#444"/>
<rect x="470.6" y="114.7" width="0.7" height="0.7" fill="#444"/>
<rect x="455.0" y="110.8" width="0.7" height="0.7" fill="#444"/>
<rect x="452.9" y="111.6" width="0.7" height="0.7" fill="#444"/>
<rect x="458.7" y="116.9" width="0.7" height="0.7" fill="#444"/>
<rect x="457.9" y="149.0" width="0.7" height="0.7" fill="#444"/>
<rect x="455.2" y="144.2" width="0.7" height="0.7" fill="#444"/>
<rect x="466.0" y="133.9" width="0.7" height="0.7" fill="#444"/>
<rect x="462.9" y="142.3" width="0.7" height="0.7" fill="#444"/>
<rect x="463.2" y="119.6" width="0.7" height="0.7" fill="#444"/>
<rect x="458.3" y="120.2" width="0.7" height="0.7" fill="#444"/>
<rect x="459.6" y="151.5" width="0.7" height="0.7" fill="#444"/>
<rect x="460.1" y="112.9" width="0.7" height="0.7" fill="#444"/>
<rect x="461.1" y="144.1" width="0.7" height="0.7" fill="#444"/>
<rect x="460.5" y="139.5" width="0.7" height="0.7" fill="#444"/>
<rect x="453.7" y="112.6" width="0.7" height="0.7" fill="#444"/>
<rect x="464.6" y="112.0" width="0.7" height="0.7" fill="#444"/>
<rect x="457.7" y="126.2" width="0.7" height="0.7" fill="#444"/>
<rect x="455.7" y="111.5" width="0.7" height="0.7" fill="#444"/>
<rect x="452.1" y="150.0" width="0.7" height="0.7" fill="#444"/>
<rect x="465.1" y="150.0" width="0.7" height="0.7" fill="#444"/>
<rect x="461.3" y="150.1" width="0.7" height="0.7" fill="#444"/>
<rect x="468.4" y="136.0" width="0.7" height="0.7" fill="#444"/>
<rect x="462.0" y="131.4" width="0.7" height="0.7" fill="#444"/>
<rect x="456.3" y="125.8" width="0.7" height="0.7" fill="#444"/>
<rect x="465.7" y="118.2" width="0.7" height="0.7" fill="#444"/>
<rect x="468.1" y="131.4" width="0.7" height="0.7" fill="#444"/>
<rect x="463.5" y="144.5" width="0.7" height="0.7" fill="#444"/>
<rect x="464.3" y="115.8" width="0.7" height="0.7" fill="#444"/>
<rect x="456.7" y="110.0" width="0.7" height="0.7" fill="#444"/>
<rect x="452.5" y="150.0" width="0.7" height="0.7" fill="#444"/>
<rect x="463.3" y="150.7" width="0.7" height="0.7" fill="#444"/>
<rect x="466.8" y="123.3" width="0.7" height="0.7" fill="#444"/>
<rect x="470.4" y="148.7" width="0.7" height="0.7" fill="#444"/>
<rect x="460.7" y="113.5" width="0.7" height="0.7" fill="#444"/>
<rect x="458.1" y="117.0" width="0.7" height="0.7" fill="#444"/>
<rect x="458.9" y="113.5" width="0.7" height="0.7" fill="#444"/>
<rect x="465.6" y="151.1" width="0.7" height="0.7" fill="#444"/>
<rect x="456.0" y="142.8" width="0.7" height="0.7" fill="#444"/>
<rect x="463.1" y="130.3" width="0.7" height="0.7" fill="#444"/>
<rect x="469.2" y="125.8" width="0.7" height="0.7" fill="#444"/>
<rect x="467.6" y="111.5" width="0.7" height="0.7" fill="#444"/>
<rect x="470.3" y="117.7" width="0.7" height="0.7" fill="#444"/>
<rect x="452.1" y="147.0" width="0.7" height="0.7" fill="#444"/>
<rect x="465.7" y="138.3" width="0.7" height="0.7" fill="#444"/>
<rect x="466.6" y="125.8" width="0.7" height="0.7" fill="#444"/>
<rect x="454.2" y="123.4" width="0.7" height="0.7" fill="#444"/>
<rect x="470.1" y="151.2" width="0.7" height="0.7" fill="#444"/>
<rect x="456.4" y="128.6" width="0.7" height="0.7" fill="#444"/>
<rect x="460.6" y="148.0" width="0.7" height="0.7" fill="#444"/>
<rect x="452.1" y="144.8" width="0.7" height="0.7" fill="#444"/>
<rect x="456.8" y="133.1" width="0.7" height="0.7" fill="#444"/>
<rect x="454.5" y="113.5" width="0.7" height="0.7" fill="#444"/>
<rect x="468.8" y="131.1" width="0.7" height="0.7" fill="#444"/>
<rect x="470.5" y="146.3" width="0.7" height="0.7" fill="#444"/>
<rect x="466.3" y="113.1" width="0.7" height="0.7" fill="#444"/>
<rect x="463.2" y="151.7" width="0.7" height="0.7" fill="#444"/>
<rect x="461.6" y="112.8" width="0.7" height="0.7" fill="#444"/>
<rect x="455.5" y="151.5" width="0.7" height="0.7" fill="#444"/>
<rect x="465.4" y="130.3" width="0.6" height="0.6" fill="#333"/>
<rect x="465.6" y="139.0" width="0.6" height="0.6" fill="#333"/>
<rect x="465.5" y="117.0" width="0.6" height="0.6" fill="#333"/>
<rect x="467.3" y="129.3" width="0.6" height="0.6" fill="#333"/>
<rect x="465.1" y="133.2" width="0.6" height="0.6" fill="#333"/>
<rect x="466.9" y="143.6" width="0.6" height="0.6" fill="#333"/>
<rect x="468.6" y="133.1" width="0.6" height="0.6" fill="#333"/>
<rect x="463.0" y="121.9" width="0.6" height="0.6" fill="#333"/>
<rect x="467.0" y="145.1" width="0.6" height="0.6" fill="#333"/>
<rect x="466.2" y="130.9" width="0.6" height="0.6" fill="#333"/>
<rect x="468.1" y="117.5" width="0.6" height="0.6" fill="#333"/>
<rect x="464.8" y="136.9" width="0.6" height="0.6" fill="#333"/>
<rect x="469.5" y="129.6" width="0.6" height="0.6" fill="#333"/>
<rect x="467.5" y="134.5" width="0.6" height="0.6" fill="#333"/>
<rect x="469.1" y="120.9" width="0.6" height="0.6" fill="#333"/>
<rect x="468.3" y="116.9" width="0.6" height="0.6" fill="#333"/>
<rect x="455.5" y="125.9" width="0.6" height="0.6" fill="#333"/>
<rect x="462.3" y="140.8" width="0.6" height="0.6" fill="#333"/>
<rect x="468.7" y="119.8" width="0.6" height="0.6" fill="#333"/>
<rect x="469.4" y="122.0" width="0.6" height="0.6" fill="#333"/>
<rect x="465.7" y="129.1" width="0.6" height="0.6" fill="#333"/>
<rect x="466.5" y="140.2" width="0.6" height="0.6" fill="#333"/>
<rect x="468.6" y="135.5" width="0.6" height="0.6" fill="#333"/>
<rect x="468.6" y="136.8" width="0.6" height="0.6" fill="#333"/>
<rect x="463.5" y="124.8" width="0.6" height="0.6" fill="#333"/>
<rect x="464.1" y="137.0" width="0.6" height="0.6" fill="#333"/>
<rect x="462.7" y="121.0" width="0.6" height="0.6" fill="#333"/>
<rect x="469.1" y="146.2" width="0.6" height="0.6" fill="#333"/>
<rect x="468.0" y="140.4" width="0.6" height="0.6" fill="#333"/>
<rect x="471.7" y="131.1" width="0.6" height="0.6" fill="#333"/>
<rect x="460.3" y="126.7" width="0.6" height="0.6" fill="#333"/>
<rect x="469.8" y="117.6" width="0.6" height="0.6" fill="#333"/>
<rect x="466.1" y="134.5" width="0.6" height="0.6" fill="#333"/>
<rect x="464.7" y="139.2" width="0.6" height="0.6" fill="#333"/>
<rect x="468.5" y="125.9" width="0.6" height="0.6" fill="#333"/>
<rect x="463.8" y="123.7" width="0.6" height="0.6" fill="#333"/>
<rect x="469.8" y="126.3" width="0.6" height="0.6" fill="#333"/>
<rect x="465.7" y="139.5" width="0.6" height="0.6" fill="#333"/>
<rect x="463.1" y="129.1" width="0.6" height="0.6" fill="#333"/>
<rect x="458.6" y="121.2" width="0.6" height="0.6" fill="#333"/>
<rect x="463.7" y="136.2" width="0.6" height="0.6" fill="#333"/>
<rect x="470.8" y="131.8" width="0.6" height="0.6" fill="#333"/>
<rect x="467.0" y="133.7" width="0.6" height="0.6" fill="#333"/>
<rect x="470.3" y="140.9" width="0.6" height="0.6" fill="#333"/>
<rect x="467.1" y="121.9" width="0.6" height="0.6" fill="#333"/>
<rect x="469.6" y="135.8" width="0.6" height="0.6" fill="#333"/>
<rect x="470.9" y="131.7" width="0.6" height="0.6" fill="#333"/>
<rect x="473.8" y="128.4" width="0.6" height="0.6" fill="#333"/>
<rect x="472.4" y="133.2" width="0.6" height="0.6" fill="#333"/>
<rect x="463.9" y="120.7" width="0.6" height="0.6" fill="#333"/>
<rect x="465.4" y="146.2" width="0.6" height="0.6" fill="#333"/>
<rect x="469.3" y="138.9" width="0.6" height="0.6" fill="#333"/>
<rect x="456.5" y="139.1" width="0.6" height="0.6" fill="#333"/>
<rect x="468.2" y="126.5" width="0.6" height="0.6" fill="#333"/>
<rect x="463.5" y="132.0" width="0.6" height="0.6" fill="#333"/>
<rect x="472.9" y="121.4" width="0.6" height="0.6" fill="#333"/>
<rect x="464.3" y="145.6" width="0.6" height="0.6" fill="#333"/>
<rect x="464.2" y="128.4" width="0.6" height="0.6" fill="#333"/>
<rect x="466.4" y="119.6" width="0.6" height="0.6" fill="#333"/>
<rect x="466.9" y="119.9" width="0.6" height="0.6" fill="#333"/>
<rect x="469.5" y="132.0" width="0.6" height="0.6" fill="#333"/>
<rect x="475.1" y="134.8" width="0.6" height="0.6" fill="#333"/>
<rect x="471.5" y="119.0" width="0.6" height="0.6" fill="#333"/>
<rect x="465.5" y="135.2" width="0.6" height="0.6" fill="#333"/>
<rect x="473.0" y="115.2" width="0.6" height="0.6" fill="#333"/>
<rect x="470.0" y="137.9" width="0.6" height="0.6" fill="#333"/>
<rect x="472.1" y="139.1" width="0.6" height="0.6" fill="#333"/>
<rect x="466.2" y="126.8" width="0.6" height="0.6" fill="#333"/>
<rect x="461.0" y="134.0" width="0.6" height="0.6" fill="#333"/>
<rect x="463.6" y="135.2" width="0.6" height="0.6" fill="#333"/>
<rect x="459.7" y="128.0" width="0.6" height="0.6" fill="#333"/>
<rect x="467.0" y="140.2" width="0.6" height="0.6" fill="#333"/>
<rect x="471.8" y="131.6" width="0.6" height="0.6" fill="#333"/>
<rect x="461.5" y="136.6" width="0.6" height="0.6" fill="#333"/>
<rect x="468.1" y="136.9" width="0.6" height="0.6" fill="#333"/>
<rect x="463.2" y="143.3" width="0.6" height="0.6" fill="#333"/>
<rect x="466.4" y="139.0" width="0.6" height="0.6" fill="#333"/>
<rect x="471.1" y="138.1" width="0.6" height="0.6" fill="#333"/>
<rect x="467.0" y="129.0" width="0.6" height="0.6" fill="#333"/>
<rect x="466.4" y="146.8" width="0.6" height="0.6" fill="#333"/>
<rect x="466.5" y="137.2" width="0.6" height="0.6" fill="#333"/>
<rect x="470.8" y="126.9" width="0.6" height="0.6" fill="#333"/>
<rect x="459.1" y="135.0" width="0.6" height="0.6" fill="#333"/>
<rect x="466.9" y="125.9" width="0.6" height="0.6" fill="#333"/>
<rect x="469.5" y="138.1" width="0.6" height="0.6" fill="#333"/>
<rect x="462.0" y="137.2" width="0.6" height="0.6" fill="#333"/>
<rect x="465.2" y="117.2" width="0.6" height="0.6" fill="#333"/>
<rect x="467.8" y="131.5" width="0.6" height="0.6" fill="#333"/>
<rect x="463.0" y="137.2" width="0.6" height="0.6" fill="#333"/>
<rect x="468.0" y="126.2" width="0.6" height="0.6" fill="#333"/>
<rect x="467.6" y="142.2" width="0.6" height="0.6" fill="#333"/>
<rect x="463.1" y="135.8" width="0.6" height="0.6" fill="#333"/>
<rect x="458.6" y="139.0" width="0.6" height="0.6" fill="#333"/>
<rect x="464.8" y="131.0" width="0.6" height="0.6" fill="#333"/>
<rect x="473.6" y="131.9" width="0.6" height="0.6" fill="#333"/>
<ellipse cx="466.4" cy="117.2" rx="5.40" ry="5.00" fill="#ddd" stroke="#000" stroke-width="0.7"/>
<ellipse cx="466.4" cy="117.2" rx="3.90" ry="3.50" fill="none" stroke="#000" stroke-width="0.7"/>
<ellipse cx="466.4" cy="117.2" rx="2.40" ry="2.00" fill="none" stroke="#000" stroke-width="0.7"/>
<path d="M469.12,111.81 C470.24,109.31 472.57,106.80 475.26,105.43 C477.94,104.07 482.27,104.16 485.25,103.64 C488.23,103.12 491.33,102.37 493.14,102.31 C494.96,102.26 496.19,101.94 496.13,103.30 C496.06,104.67 494.10,107.62 492.75,110.51 C491.39,113.40 489.66,117.74 488.00,120.63 C486.33,123.53 484.88,126.41 482.78,127.90 C480.67,129.38 477.42,129.57 475.39,129.54 C473.36,129.51 471.72,129.23 470.58,127.71 C469.44,126.19 468.81,123.07 468.57,120.42 C468.32,117.77 468.01,114.31 469.12,111.81 Z" fill="none" stroke="#555" stroke-width="0.4" />
<path d="M469.90,112.00 C470.97,109.67 473.18,107.37 475.70,106.10 C478.22,104.83 482.18,104.93 485.00,104.40 C487.82,103.87 490.85,103.00 492.60,102.90 C494.35,102.80 495.60,102.48 495.50,103.80 C495.40,105.12 493.35,108.08 492.00,110.80 C490.65,113.52 488.95,117.38 487.40,120.10 C485.85,122.82 484.65,125.65 482.70,127.10 C480.75,128.55 477.63,128.80 475.70,128.80 C473.77,128.80 472.17,128.55 471.10,127.10 C470.03,125.65 469.50,122.62 469.30,120.10 C469.10,117.58 468.83,114.33 469.90,112.00 Z" fill="#d8d8d8" stroke="#000" stroke-width="0.6" />
<path d="M470.60,112.17 C471.60,109.98 473.68,107.81 476.05,106.62 C478.42,105.43 482.14,105.53 484.79,105.03 C487.44,104.52 490.29,103.71 491.94,103.62 C493.58,103.52 494.76,103.22 494.66,104.46 C494.57,105.70 492.64,108.49 491.37,111.04 C490.10,113.60 488.51,117.23 487.05,119.78 C485.59,122.34 484.46,125.00 482.63,126.36 C480.80,127.73 477.87,127.96 476.05,127.96 C474.23,127.96 472.73,127.73 471.73,126.36 C470.72,125.00 470.22,122.15 470.03,119.78 C469.85,117.42 469.60,114.36 470.60,112.17 Z" fill="#9a9a9a" stroke="#111" stroke-width="0.45" />
<path d="M471.30,112.34 C472.24,110.29 474.19,108.26 476.40,107.15 C478.62,106.03 482.11,106.12 484.58,105.65 C487.06,105.18 489.73,104.42 491.27,104.33 C492.81,104.24 493.91,103.97 493.82,105.12 C493.74,106.28 491.93,108.89 490.74,111.28 C489.56,113.68 488.06,117.08 486.70,119.47 C485.33,121.86 484.28,124.35 482.56,125.63 C480.84,126.90 478.10,127.12 476.40,127.12 C474.70,127.12 473.29,126.90 472.35,125.63 C471.41,124.35 470.94,121.68 470.77,119.47 C470.59,117.25 470.36,114.39 471.30,112.34 Z" fill="none" stroke="#f0f0f0" stroke-width="0.4" />
<path d="M471.88,112.48 C472.76,110.55 474.60,108.64 476.69,107.59 C478.78,106.53 482.07,106.62 484.41,106.17 C486.75,105.73 489.27,105.01 490.72,104.93 C492.17,104.85 493.21,104.58 493.13,105.68 C493.04,106.77 491.34,109.23 490.22,111.49 C489.10,113.74 487.69,116.95 486.40,119.21 C485.12,121.46 484.12,123.81 482.50,125.02 C480.88,126.22 478.30,126.43 476.69,126.43 C475.09,126.43 473.76,126.22 472.87,125.02 C471.99,123.81 471.55,121.29 471.38,119.21 C471.21,117.12 470.99,114.42 471.88,112.48 Z" fill="none" stroke="#222" stroke-width="0.45" />
<path d="M472.58,112.65 C473.40,110.86 475.10,109.08 477.04,108.11 C478.98,107.13 482.03,107.21 484.20,106.80 C486.37,106.39 488.71,105.72 490.06,105.65 C491.40,105.57 492.37,105.32 492.29,106.34 C492.21,107.35 490.63,109.64 489.59,111.73 C488.55,113.82 487.24,116.80 486.05,118.89 C484.86,120.98 483.93,123.16 482.43,124.28 C480.93,125.40 478.53,125.59 477.04,125.59 C475.55,125.59 474.32,125.40 473.50,124.28 C472.68,123.16 472.27,120.83 472.11,118.89 C471.96,116.95 471.76,114.45 472.58,112.65 Z" fill="none" stroke="#e0e0e0" stroke-width="0.4" />
<path d="M473.16,112.79 C473.93,111.11 475.52,109.46 477.33,108.55 C479.15,107.63 482.00,107.71 484.03,107.32 C486.06,106.94 488.24,106.31 489.50,106.24 C490.76,106.17 491.66,105.94 491.59,106.89 C491.52,107.84 490.04,109.97 489.07,111.93 C488.10,113.89 486.87,116.67 485.76,118.63 C484.64,120.58 483.78,122.62 482.37,123.67 C480.97,124.71 478.73,124.89 477.33,124.89 C475.94,124.89 474.79,124.71 474.02,123.67 C473.25,122.62 472.87,120.44 472.73,118.63 C472.58,116.81 472.39,114.47 473.16,112.79 Z" fill="none" stroke="#222" stroke-width="0.4" />
<path d="M469.62,130.20 C471.00,128.79 474.10,127.80 476.65,127.28 C479.21,126.76 483.06,126.33 484.94,127.06 C486.82,127.80 487.47,129.02 487.92,131.69 C488.36,134.37 488.18,140.10 487.58,143.11 C486.98,146.13 485.90,148.35 484.32,149.79 C482.75,151.23 480.12,151.94 478.12,151.75 C476.13,151.56 473.87,150.33 472.35,148.66 C470.83,146.98 469.64,143.86 468.98,141.71 C468.32,139.56 468.28,137.67 468.39,135.75 C468.50,133.83 468.24,131.61 469.62,130.20 Z" fill="none" stroke="#555" stroke-width="0.4" />
<path d="M470.18,130.77 C471.44,129.45 474.35,128.58 476.74,128.08 C479.13,127.57 482.77,127.07 484.53,127.75 C486.28,128.43 486.87,129.65 487.26,132.15 C487.65,134.66 487.41,139.96 486.85,142.78 C486.30,145.60 485.38,147.74 483.92,149.10 C482.47,150.46 479.97,151.14 478.11,150.95 C476.25,150.76 474.14,149.54 472.74,147.96 C471.35,146.38 470.34,143.45 469.74,141.46 C469.14,139.46 469.08,137.77 469.15,135.99 C469.23,134.21 468.92,132.09 470.18,130.77 Z" fill="#d8d8d8" stroke="#000" stroke-width="0.6" />
<path d="M470.64,131.25 C471.83,130.01 474.57,129.19 476.81,128.71 C479.06,128.24 482.48,127.77 484.13,128.40 C485.78,129.04 486.34,130.19 486.70,132.54 C487.06,134.90 486.84,139.88 486.32,142.54 C485.80,145.19 484.93,147.20 483.56,148.48 C482.19,149.76 479.85,150.39 478.10,150.21 C476.35,150.04 474.36,148.89 473.05,147.40 C471.74,145.92 470.79,143.17 470.23,141.29 C469.67,139.41 469.61,137.83 469.68,136.15 C469.75,134.48 469.46,132.48 470.64,131.25 Z" fill="#9a9a9a" stroke="#111" stroke-width="0.45" />
<path d="M471.11,131.72 C472.22,130.56 474.78,129.79 476.88,129.35 C478.99,128.91 482.19,128.46 483.73,129.06 C485.28,129.66 485.80,130.73 486.14,132.94 C486.48,135.14 486.27,139.80 485.78,142.29 C485.29,144.78 484.49,146.65 483.20,147.85 C481.92,149.05 479.73,149.65 478.09,149.48 C476.45,149.31 474.59,148.24 473.36,146.85 C472.13,145.46 471.25,142.88 470.72,141.12 C470.19,139.37 470.14,137.88 470.21,136.31 C470.27,134.75 470.00,132.88 471.11,131.72 Z" fill="none" stroke="#f0f0f0" stroke-width="0.4" />
<path d="M471.50,132.12 C472.55,131.02 474.96,130.30 476.94,129.88 C478.93,129.46 481.95,129.05 483.40,129.61 C484.86,130.17 485.35,131.18 485.67,133.26 C485.99,135.34 485.80,139.74 485.34,142.09 C484.87,144.43 484.11,146.20 482.90,147.33 C481.69,148.46 479.63,149.02 478.08,148.87 C476.53,148.71 474.78,147.70 473.62,146.38 C472.46,145.07 471.63,142.64 471.13,140.99 C470.63,139.33 470.58,137.93 470.64,136.45 C470.71,134.97 470.45,133.21 471.50,132.12 Z" fill="none" stroke="#222" stroke-width="0.45" />
<path d="M471.96,132.59 C472.93,131.58 475.17,130.91 477.01,130.52 C478.85,130.13 481.66,129.74 483.01,130.27 C484.36,130.79 484.81,131.73 485.11,133.66 C485.41,135.59 485.23,139.67 484.80,141.84 C484.37,144.02 483.67,145.66 482.54,146.71 C481.42,147.76 479.50,148.28 478.07,148.13 C476.63,147.99 475.01,147.05 473.93,145.83 C472.86,144.61 472.08,142.36 471.62,140.82 C471.16,139.28 471.11,137.98 471.17,136.61 C471.23,135.24 470.99,133.61 471.96,132.59 Z" fill="none" stroke="#e0e0e0" stroke-width="0.4" />
<path d="M472.35,132.99 C473.26,132.04 475.35,131.41 477.07,131.05 C478.79,130.69 481.42,130.33 482.68,130.81 C483.94,131.30 484.37,132.18 484.65,133.98 C484.93,135.79 484.75,139.60 484.35,141.64 C483.95,143.67 483.29,145.21 482.24,146.19 C481.20,147.17 479.40,147.66 478.06,147.52 C476.72,147.38 475.20,146.51 474.19,145.37 C473.19,144.23 472.46,142.12 472.03,140.68 C471.60,139.25 471.56,138.03 471.61,136.75 C471.66,135.47 471.44,133.94 472.35,132.99 Z" fill="none" stroke="#222" stroke-width="0.4" />
<path d="M470.78,112.70 C471.57,111.02 473.22,109.11 474.87,108.05 C476.53,107.00 478.93,106.61 480.73,106.36 C482.53,106.11 484.81,105.69 485.67,106.56 C486.53,107.43 486.35,109.62 485.90,111.57 C485.46,113.51 484.18,116.06 483.00,118.23 C481.83,120.40 480.40,123.15 478.85,124.59 C477.30,126.03 474.98,127.08 473.68,126.85 C472.38,126.61 471.64,124.61 471.05,123.16 C470.46,121.71 470.20,119.87 470.15,118.12 C470.11,116.38 470.00,114.38 470.78,112.70 Z" fill="#444" stroke="none" stroke-width="0.6" />
<path d="M471.70,113.10 C472.38,111.63 473.75,109.97 475.20,109.00 C476.65,108.03 478.77,107.58 480.40,107.30 C482.03,107.02 484.23,106.52 485.00,107.30 C485.77,108.08 485.48,110.25 485.00,112.00 C484.52,113.75 483.15,115.87 482.10,117.80 C481.05,119.73 480.05,122.25 478.70,123.60 C477.35,124.95 475.17,126.10 474.00,125.90 C472.83,125.70 472.18,123.75 471.70,122.40 C471.22,121.05 471.10,119.35 471.10,117.80 C471.10,116.25 471.02,114.57 471.70,113.10 Z" fill="#080808" stroke="none" stroke-width="0.6" />
<path d="M472.74,113.55 C473.30,112.35 474.42,110.98 475.61,110.19 C476.80,109.40 478.54,109.03 479.88,108.80 C481.22,108.57 483.02,108.16 483.65,108.80 C484.28,109.44 484.04,111.22 483.65,112.65 C483.25,114.09 482.13,115.82 481.27,117.41 C480.41,118.99 479.59,121.06 478.48,122.16 C477.38,123.27 475.58,124.21 474.63,124.05 C473.67,123.89 473.14,122.29 472.74,121.18 C472.35,120.07 472.25,118.68 472.25,117.41 C472.25,116.14 472.18,114.76 472.74,113.55 Z" fill="none" stroke="#bbb" stroke-width="0.35" opacity="0.55"/>
<path d="M473.90,114.06 C474.32,113.15 475.17,112.11 476.07,111.52 C476.97,110.92 478.28,110.64 479.29,110.46 C480.31,110.29 481.67,109.98 482.15,110.46 C482.62,110.95 482.45,112.29 482.15,113.38 C481.85,114.46 481.00,115.77 480.35,116.97 C479.70,118.17 479.08,119.73 478.24,120.57 C477.40,121.40 476.05,122.12 475.33,121.99 C474.60,121.87 474.20,120.66 473.90,119.82 C473.60,118.99 473.53,117.93 473.53,116.97 C473.53,116.01 473.48,114.97 473.90,114.06 Z" fill="none" stroke="#bbb" stroke-width="0.35" opacity="0.45"/>
<path d="M475.06,114.56 C475.35,113.95 475.92,113.25 476.53,112.84 C477.14,112.43 478.03,112.24 478.71,112.13 C479.40,112.01 480.32,111.80 480.64,112.13 C480.97,112.45 480.85,113.36 480.64,114.10 C480.44,114.83 479.87,115.72 479.43,116.54 C478.99,117.35 478.57,118.40 478.00,118.97 C477.43,119.54 476.51,120.02 476.02,119.94 C475.53,119.85 475.26,119.03 475.06,118.47 C474.86,117.90 474.81,117.19 474.81,116.54 C474.81,115.88 474.77,115.18 475.06,114.56 Z" fill="none" stroke="#bbb" stroke-width="0.35" opacity="0.4"/>
<path d="M470.74,131.34 C471.90,130.11 474.61,129.36 476.84,128.87 C479.07,128.39 482.49,127.81 484.12,128.44 C485.75,129.06 486.27,130.28 486.61,132.61 C486.94,134.95 486.64,139.81 486.13,142.44 C485.62,145.08 484.87,147.12 483.53,148.40 C482.19,149.69 479.84,150.34 478.10,150.15 C476.37,149.96 474.40,148.76 473.14,147.26 C471.87,145.77 471.03,143.04 470.50,141.20 C469.96,139.36 469.88,137.87 469.92,136.22 C469.96,134.58 469.59,132.56 470.74,131.34 Z" fill="#444" stroke="none" stroke-width="0.6" />
<path d="M471.45,132.05 C472.46,130.94 474.93,130.32 476.96,129.86 C478.98,129.41 482.13,128.74 483.61,129.29 C485.08,129.85 485.52,131.07 485.79,133.19 C486.06,135.31 485.68,139.63 485.22,142.02 C484.76,144.42 484.22,146.35 483.04,147.53 C481.85,148.72 479.66,149.34 478.10,149.15 C476.53,148.96 474.74,147.77 473.63,146.39 C472.52,145.02 471.90,142.53 471.45,140.88 C470.99,139.24 470.88,137.99 470.88,136.51 C470.88,135.04 470.43,133.16 471.45,132.05 Z" fill="#080808" stroke="none" stroke-width="0.6" />
<path d="M472.63,133.24 C473.46,132.34 475.48,131.83 477.15,131.45 C478.81,131.08 481.39,130.53 482.60,130.99 C483.81,131.44 484.17,132.44 484.39,134.18 C484.61,135.92 484.30,139.46 483.92,141.42 C483.55,143.38 483.10,144.97 482.13,145.94 C481.16,146.92 479.37,147.42 478.08,147.27 C476.79,147.11 475.33,146.14 474.42,145.01 C473.51,143.88 473.00,141.84 472.63,140.49 C472.25,139.14 472.16,138.11 472.16,136.91 C472.16,135.70 471.80,134.15 472.63,133.24 Z" fill="none" stroke="#bbb" stroke-width="0.35" opacity="0.55"/>
<path d="M473.94,134.57 C474.57,133.89 476.10,133.50 477.36,133.22 C478.61,132.93 480.57,132.52 481.48,132.86 C482.39,133.21 482.67,133.96 482.83,135.28 C483.00,136.60 482.77,139.28 482.48,140.76 C482.20,142.24 481.86,143.44 481.13,144.17 C480.39,144.91 479.03,145.29 478.06,145.17 C477.09,145.06 475.98,144.32 475.29,143.47 C474.61,142.61 474.22,141.07 473.94,140.05 C473.66,139.03 473.59,138.25 473.59,137.34 C473.59,136.43 473.31,135.26 473.94,134.57 Z" fill="none" stroke="#bbb" stroke-width="0.35" opacity="0.45"/>
<path d="M475.25,135.90 C475.68,135.44 476.72,135.18 477.57,134.98 C478.42,134.79 479.74,134.51 480.36,134.74 C480.98,134.98 481.16,135.49 481.28,136.38 C481.39,137.27 481.23,139.09 481.04,140.09 C480.85,141.09 480.62,141.91 480.12,142.40 C479.62,142.90 478.70,143.16 478.05,143.08 C477.39,143.00 476.64,142.50 476.17,141.93 C475.71,141.35 475.45,140.30 475.25,139.61 C475.06,138.92 475.01,138.39 475.01,137.78 C475.01,137.16 474.83,136.37 475.25,135.90 Z" fill="none" stroke="#bbb" stroke-width="0.35" opacity="0.4"/>
<circle cx="478" cy="113" r="0.8" fill="#fff" opacity="0.9"/>
<circle cx="479" cy="140" r="0.8" fill="#fff" opacity="0.9"/>
<ellipse cx="480.0" cy="114.1" rx="1.1" ry="1.6" fill="#777"/>
<ellipse cx="476.3" cy="118.1" rx="0.6" ry="1.8" fill="#555"/>
<ellipse cx="480.5" cy="137.2" rx="1.1" ry="1.6" fill="#777"/>
<ellipse cx="476.8" cy="141.2" rx="0.6" ry="1.8" fill="#555"/>
<rect x="478.2" y="209.3" width="0.7" height="0.7" fill="#666"/>
<rect x="489.6" y="201.8" width="0.7" height="0.7" fill="#666"/>
<rect x="482.0" y="214.7" width="0.7" height="0.7" fill="#666"/>
<rect x="493.8" y="199.9" width="0.7" height="0.7" fill="#666"/>
<rect x="482.0" y="209.0" width="0.7" height="0.7" fill="#666"/>
<rect x="475.2" y="216.3" width="0.7" height="0.7" fill="#666"/>
<rect x="476.3" y="205.4" width="0.7" height="0.7" fill="#666"/>
<rect x="495.4" y="209.3" width="0.7" height="0.7" fill="#666"/>
<rect x="465.9" y="202.5" width="0.7" height="0.7" fill="#666"/>
<rect x="474.8" y="197.1" width="0.7" height="0.7" fill="#666"/>
<rect x="479.9" y="211.5" width="0.7" height="0.7" fill="#666"/>
<rect x="471.6" y="213.8" width="0.7" height="0.7" fill="#666"/>
<rect x="494.7" y="207.7" width="0.7" height="0.7" fill="#666"/>
<rect x="483.3" y="198.5" width="0.7" height="0.7" fill="#666"/>
<rect x="454.6" y="216.6" width="0.7" height="0.7" fill="#666"/>
<rect x="465.1" y="200.5" width="0.7" height="0.7" fill="#666"/>
<rect x="493.2" y="211.7" width="0.7" height="0.7" fill="#666"/>
<rect x="457.7" y="202.8" width="0.7" height="0.7" fill="#666"/>
<rect x="463.2" y="201.7" width="0.7" height="0.7" fill="#666"/>
<rect x="452.3" y="207.0" width="0.7" height="0.7" fill="#666"/>
<rect x="466.0" y="204.3" width="0.7" height="0.7" fill="#666"/>
<rect x="460.5" y="198.3" width="0.7" height="0.7" fill="#666"/>
<rect x="453.5" y="214.3" width="0.7" height="0.7" fill="#666"/>
<rect x="486.4" y="207.8" width="0.7" height="0.7" fill="#666"/>
<rect x="457.7" y="199.1" width="0.7" height="0.7" fill="#666"/>
<rect x="457.5" y="202.6" width="0.7" height="0.7" fill="#666"/>
<rect x="454.6" y="201.8" width="0.7" height="0.7" fill="#666"/>
<rect x="461.3" y="200.0" width="0.7" height="0.7" fill="#666"/>
<rect x="482.1" y="205.6" width="0.7" height="0.7" fill="#666"/>
<rect x="473.8" y="203.5" width="0.7" height="0.7" fill="#666"/>
<rect x="476.8" y="212.5" width="0.7" height="0.7" fill="#666"/>
<rect x="466.2" y="197.5" width="0.7" height="0.7" fill="#666"/>
<rect x="474.1" y="204.0" width="0.7" height="0.7" fill="#666"/>
<rect x="487.9" y="198.3" width="0.7" height="0.7" fill="#666"/>
<rect x="492.1" y="196.3" width="0.7" height="0.7" fill="#666"/>
<rect x="476.9" y="205.3" width="0.7" height="0.7" fill="#666"/>
<rect x="466.5" y="214.7" width="0.7" height="0.7" fill="#666"/>
<rect x="484.3" y="199.4" width="0.7" height="0.7" fill="#666"/>
<rect x="474.8" y="208.9" width="0.7" height="0.7" fill="#666"/>
<rect x="453.5" y="197.8" width="0.7" height="0.7" fill="#666"/>
<rect x="479.7" y="211.3" width="0.7" height="0.7" fill="#666"/>
<rect x="473.3" y="204.9" width="0.7" height="0.7" fill="#666"/>
<rect x="475.3" y="201.5" width="0.7" height="0.7" fill="#666"/>
<rect x="492.3" y="216.2" width="0.7" height="0.7" fill="#666"/>
<rect x="474.2" y="196.4" width="0.7" height="0.7" fill="#666"/>
<rect x="470.3" y="212.9" width="0.7" height="0.7" fill="#666"/>
<rect x="466.9" y="198.2" width="0.7" height="0.7" fill="#666"/>
<rect x="460.5" y="210.9" width="0.7" height="0.7" fill="#666"/>
<rect x="480.6" y="202.0" width="0.7" height="0.7" fill="#666"/>
<rect x="480.7" y="212.0" width="0.7" height="0.7" fill="#666"/>
<rect x="479.3" y="207.8" width="0.6" height="0.6" fill="#444"/>
<rect x="474.2" y="202.3" width="0.6" height="0.6" fill="#444"/>
<rect x="485.5" y="206.2" width="0.6" height="0.6" fill="#444"/>
<rect x="481.1" y="206.6" width="0.6" height="0.6" fill="#444"/>
<rect x="486.3" y="207.8" width="0.6" height="0.6" fill="#444"/>
<rect x="479.8" y="212.2" width="0.6" height="0.6" fill="#444"/>
<rect x="474.2" y="207.0" width="0.6" height="0.6" fill="#444"/>
<rect x="474.9" y="208.5" width="0.6" height="0.6" fill="#444"/>
<rect x="481.5" y="209.3" width="0.6" height="0.6" fill="#444"/>
<rect x="477.0" y="212.0" width="0.6" height="0.6" fill="#444"/>
<rect x="477.8" y="202.9" width="0.6" height="0.6" fill="#444"/>
<rect x="489.4" y="199.7" width="0.6" height="0.6" fill="#444"/>
<rect x="495.2" y="200.6" width="0.6" height="0.6" fill="#444"/>
<rect x="462.7" y="204.6" width="0.6" height="0.6" fill="#444"/>
<rect x="485.2" y="203.8" width="0.6" height="0.6" fill="#444"/>
<rect x="483.6" y="212.7" width="0.6" height="0.6" fill="#444"/>
<rect x="469.8" y="207.4" width="0.6" height="0.6" fill="#444"/>
<rect x="481.3" y="209.8" width="0.6" height="0.6" fill="#444"/>
<rect x="470.1" y="199.3" width="0.6" height="0.6" fill="#444"/>
<rect x="470.2" y="203.6" width="0.6" height="0.6" fill="#444"/>
<rect x="476.9" y="208.1" width="0.6" height="0.6" fill="#444"/>
<rect x="469.1" y="202.9" width="0.6" height="0.6" fill="#444"/>
<rect x="470.1" y="208.8" width="0.6" height="0.6" fill="#444"/>
<rect x="480.5" y="210.2" width="0.6" height="0.6" fill="#444"/>
<rect x="485.3" y="212.9" width="0.6" height="0.6" fill="#444"/>
<rect x="471.5" y="214.0" width="0.6" height="0.6" fill="#444"/>
<rect x="464.6" y="210.7" width="0.6" height="0.6" fill="#444"/>
<rect x="475.4" y="199.3" width="0.6" height="0.6" fill="#444"/>
<rect x="487.2" y="200.6" width="0.6" height="0.6" fill="#444"/>
<rect x="452.4" y="211.6" width="0.6" height="0.6" fill="#444"/>
<rect x="478.8" y="204.6" width="0.6" height="0.6" fill="#444"/>
<rect x="468.5" y="199.0" width="0.6" height="0.6" fill="#444"/>
<rect x="476.4" y="197.3" width="0.6" height="0.6" fill="#444"/>
<rect x="461.3" y="206.6" width="0.6" height="0.6" fill="#444"/>
<rect x="489.1" y="211.4" width="0.6" height="0.6" fill="#444"/>
<rect x="485.7" y="214.4" width="0.6" height="0.6" fill="#444"/>
<rect x="483.9" y="205.2" width="0.6" height="0.6" fill="#444"/>
<rect x="478.7" y="208.6" width="0.6" height="0.6" fill="#444"/>
<rect x="470.2" y="207.7" width="0.6" height="0.6" fill="#444"/>
<rect x="475.1" y="201.2" width="0.6" height="0.6" fill="#444"/>
<rect x="461.1" y="208.0" width="0.6" height="0.6" fill="#444"/>
<rect x="482.5" y="212.5" width="0.6" height="0.6" fill="#444"/>
<rect x="488.1" y="209.8" width="0.6" height="0.6" fill="#444"/>
<rect x="477.6" y="205.2" width="0.6" height="0.6" fill="#444"/>
<rect x="473.0" y="211.1" width="0.6" height="0.6" fill="#444"/>
<rect x="491.1" y="212.2" width="0.6" height="0.6" fill="#444"/>
<rect x="474.8" y="216.4" width="0.6" height="0.6" fill="#444"/>
<rect x="490.7" y="201.7" width="0.6" height="0.6" fill="#444"/>
<rect x="480.5" y="213.9" width="0.6" height="0.6" fill="#444"/>
<rect x="474.3" y="210.9" width="0.6" height="0.6" fill="#444"/>
<rect x="472.5" y="209.2" width="0.6" height="0.6" fill="#444"/>
<rect x="478.7" y="215.7" width="0.6" height="0.6" fill="#444"/>
<rect x="473.0" y="210.8" width="0.6" height="0.6" fill="#444"/>
<rect x="483.1" y="206.5" width="0.6" height="0.6" fill="#444"/>
<rect x="480.3" y="200.7" width="0.6" height="0.6" fill="#444"/>
<rect x="462.4" y="205.5" width="0.6" height="0.6" fill="#444"/>
<rect x="459.2" y="203.3" width="0.6" height="0.6" fill="#444"/>
<rect x="473.3" y="204.3" width="0.6" height="0.6" fill="#444"/>
<rect x="469.4" y="203.1" width="0.6" height="0.6" fill="#444"/>
<rect x="480.4" y="206.8" width="0.6" height="0.6" fill="#444"/>
<rect x="451.1" y="211.9" width="0.6" height="0.6" fill="#444"/>
<rect x="490.7" y="211.3" width="0.6" height="0.6" fill="#444"/>
<rect x="487.1" y="204.0" width="0.6" height="0.6" fill="#444"/>
<rect x="492.2" y="211.0" width="0.6" height="0.6" fill="#444"/>
<rect x="475.0" y="214.0" width="0.6" height="0.6" fill="#444"/>
<rect x="479.5" y="204.0" width="0.6" height="0.6" fill="#444"/>
<rect x="476.2" y="210.5" width="0.6" height="0.6" fill="#444"/>
<rect x="473.4" y="209.9" width="0.6" height="0.6" fill="#444"/>
<rect x="469.6" y="199.2" width="0.6" height="0.6" fill="#444"/>
<rect x="487.5" y="210.1" width="0.6" height="0.6" fill="#444"/>
<rect x="480.5" y="199.6" width="0.6" height="0.6" fill="#444"/>
<rect x="474.8" y="214.1" width="0.6" height="0.6" fill="#444"/>
<rect x="471.0" y="202.5" width="0.6" height="0.6" fill="#444"/>
<rect x="498.0" y="207.9" width="0.6" height="0.6" fill="#444"/>
<rect x="481.1" y="207.4" width="0.6" height="0.6" fill="#444"/>
<rect x="489.2" y="209.0" width="0.6" height="0.6" fill="#444"/>
<rect x="469.1" y="206.1" width="0.6" height="0.6" fill="#444"/>
<rect x="476.7" y="216.8" width="0.6" height="0.6" fill="#444"/>
<rect x="476.5" y="207.2" width="0.6" height="0.6" fill="#444"/>
<rect x="487.4" y="213.6" width="0.6" height="0.6" fill="#444"/>
<rect x="470.9" y="209.4" width="0.6" height="0.6" fill="#444"/>
<rect x="484.5" y="206.6" width="0.6" height="0.6" fill="#444"/>
<rect x="485.1" y="210.4" width="0.6" height="0.6" fill="#444"/>
<rect x="464.0" y="212.0" width="0.6" height="0.6" fill="#444"/>
<rect x="476.4" y="205.9" width="0.6" height="0.6" fill="#444"/>
<rect x="454.8" y="209.9" width="0.6" height="0.6" fill="#444"/>
<rect x="455.2" y="208.9" width="0.6" height="0.6" fill="#444"/>
<rect x="490.6" y="202.7" width="0.6" height="0.6" fill="#444"/>
<rect x="473.2" y="206.0" width="0.6" height="0.6" fill="#444"/>
<rect x="484.4" y="207.5" width="0.6" height="0.6" fill="#444"/>
<rect x="471.9" y="213.6" width="0.6" height="0.6" fill="#444"/>
<rect x="459.3" y="206.1" width="0.6" height="0.6" fill="#444"/>
<rect x="454.1" y="205.2" width="0.6" height="0.6" fill="#444"/>
<rect x="479.2" y="201.0" width="0.6" height="0.6" fill="#444"/>
<rect x="473.8" y="215.0" width="0.6" height="0.6" fill="#444"/>
<rect x="459.1" y="208.0" width="0.6" height="0.6" fill="#444"/>
<path d="M457.50,208.30 C458.13,207.42 459.27,206.07 461.00,205.40 C462.73,204.73 465.78,204.97 467.90,204.30 C470.02,203.63 471.57,202.08 473.70,201.40 C475.83,200.72 478.37,200.20 480.70,200.20 C483.03,200.20 486.05,200.62 487.70,201.40 C489.35,202.18 490.40,203.35 490.60,204.90 C490.80,206.45 489.77,209.15 488.90,210.70 C488.03,212.25 487.53,213.43 485.40,214.20 C483.27,214.97 479.02,215.30 476.10,215.30 C473.18,215.30 470.62,214.58 467.90,214.20 C465.18,213.82 461.58,213.58 459.80,213.00 C458.02,212.42 457.58,211.48 457.20,210.70 C456.82,209.92 456.87,209.18 457.50,208.30 Z" fill="#ccc" stroke="#000" stroke-width="0.7" />
<path d="M458.77,208.28 C459.36,207.46 460.40,206.22 461.99,205.61 C463.59,204.99 466.39,205.21 468.34,204.60 C470.29,203.98 471.71,202.56 473.68,201.93 C475.64,201.30 477.97,200.82 480.12,200.82 C482.26,200.82 485.04,201.21 486.56,201.93 C488.08,202.65 489.04,203.72 489.23,205.15 C489.41,206.57 488.46,209.06 487.66,210.48 C486.86,211.91 486.40,213.00 484.44,213.70 C482.48,214.41 478.57,214.72 475.89,214.72 C473.20,214.72 470.84,214.06 468.34,213.70 C465.84,213.35 462.53,213.14 460.89,212.60 C459.25,212.06 458.85,211.20 458.50,210.48 C458.14,209.76 458.19,209.09 458.77,208.28 Z" fill="#8c8c8c" stroke="#111" stroke-width="0.45" />
<path d="M460.05,208.25 C460.58,207.51 461.53,206.38 462.99,205.82 C464.44,205.26 467.00,205.45 468.78,204.89 C470.56,204.33 471.86,203.03 473.65,202.46 C475.45,201.88 477.57,201.45 479.53,201.45 C481.49,201.45 484.03,201.80 485.41,202.46 C486.80,203.11 487.68,204.09 487.85,205.40 C488.02,206.70 487.15,208.97 486.42,210.27 C485.69,211.57 485.27,212.56 483.48,213.21 C481.69,213.85 478.12,214.13 475.67,214.13 C473.22,214.13 471.06,213.53 468.78,213.21 C466.50,212.89 463.48,212.69 461.98,212.20 C460.48,211.71 460.12,210.93 459.79,210.27 C459.47,209.61 459.51,208.99 460.05,208.25 Z" fill="none" stroke="#eee" stroke-width="0.4" />
<path d="M461.32,208.23 C461.80,207.56 462.66,206.53 463.98,206.02 C465.30,205.52 467.62,205.69 469.22,205.19 C470.83,204.68 472.01,203.50 473.63,202.98 C475.25,202.46 477.18,202.07 478.95,202.07 C480.73,202.07 483.02,202.39 484.27,202.98 C485.53,203.58 486.32,204.47 486.48,205.64 C486.63,206.82 485.84,208.87 485.18,210.05 C484.53,211.23 484.15,212.13 482.52,212.71 C480.90,213.29 477.67,213.55 475.46,213.55 C473.24,213.55 471.29,213.00 469.22,212.71 C467.16,212.42 464.42,212.24 463.07,211.80 C461.71,211.36 461.38,210.65 461.09,210.05 C460.80,209.46 460.84,208.90 461.32,208.23 Z" fill="none" stroke="#222" stroke-width="0.4" />
<ellipse cx="461.2" cy="209.8" rx="2.8" ry="2.0" fill="#fff" stroke="#000" stroke-width="0.6"/>
<ellipse cx="467.3" cy="209.8" rx="2.8" ry="2.2" fill="#fff" stroke="#000" stroke-width="0.6"/>
<circle cx="478.4" cy="210.1" r="6.7" fill="#555"/>
<circle cx="478.4" cy="210.1" r="5.7" fill="#060606"/>
<circle cx="478.6" cy="210.4" r="0.8" fill="#fff"/>
<rect x="245.80" y="27.80" width="57.20" height="58.20" fill="none" stroke="#111" stroke-width="1.15" />
<rect x="245.50" y="101.60" width="57.50" height="52.40" fill="none" stroke="#111" stroke-width="1.15" />
<rect x="245.60" y="167.30" width="57.40" height="52.00" fill="none" stroke="#111" stroke-width="1.15" />
<rect x="348.70" y="27.50" width="57.80" height="58.00" fill="none" stroke="#111" stroke-width="1.15" />
<rect x="349.10" y="101.00" width="56.20" height="51.30" fill="none" stroke="#111" stroke-width="1.15" />
<rect x="346.60" y="166.40" width="56.30" height="51.20" fill="none" stroke="#111" stroke-width="1.15" />
<rect x="449.70" y="27.80" width="57.90" height="57.80" fill="none" stroke="#111" stroke-width="1.15" />
<rect x="450.00" y="102.00" width="57.60" height="51.40" fill="none" stroke="#111" stroke-width="1.15" />
<rect x="449.10" y="165.40" width="57.50" height="52.20" fill="none" stroke="#111" stroke-width="1.15" />
</svg></div>
</body></html>
